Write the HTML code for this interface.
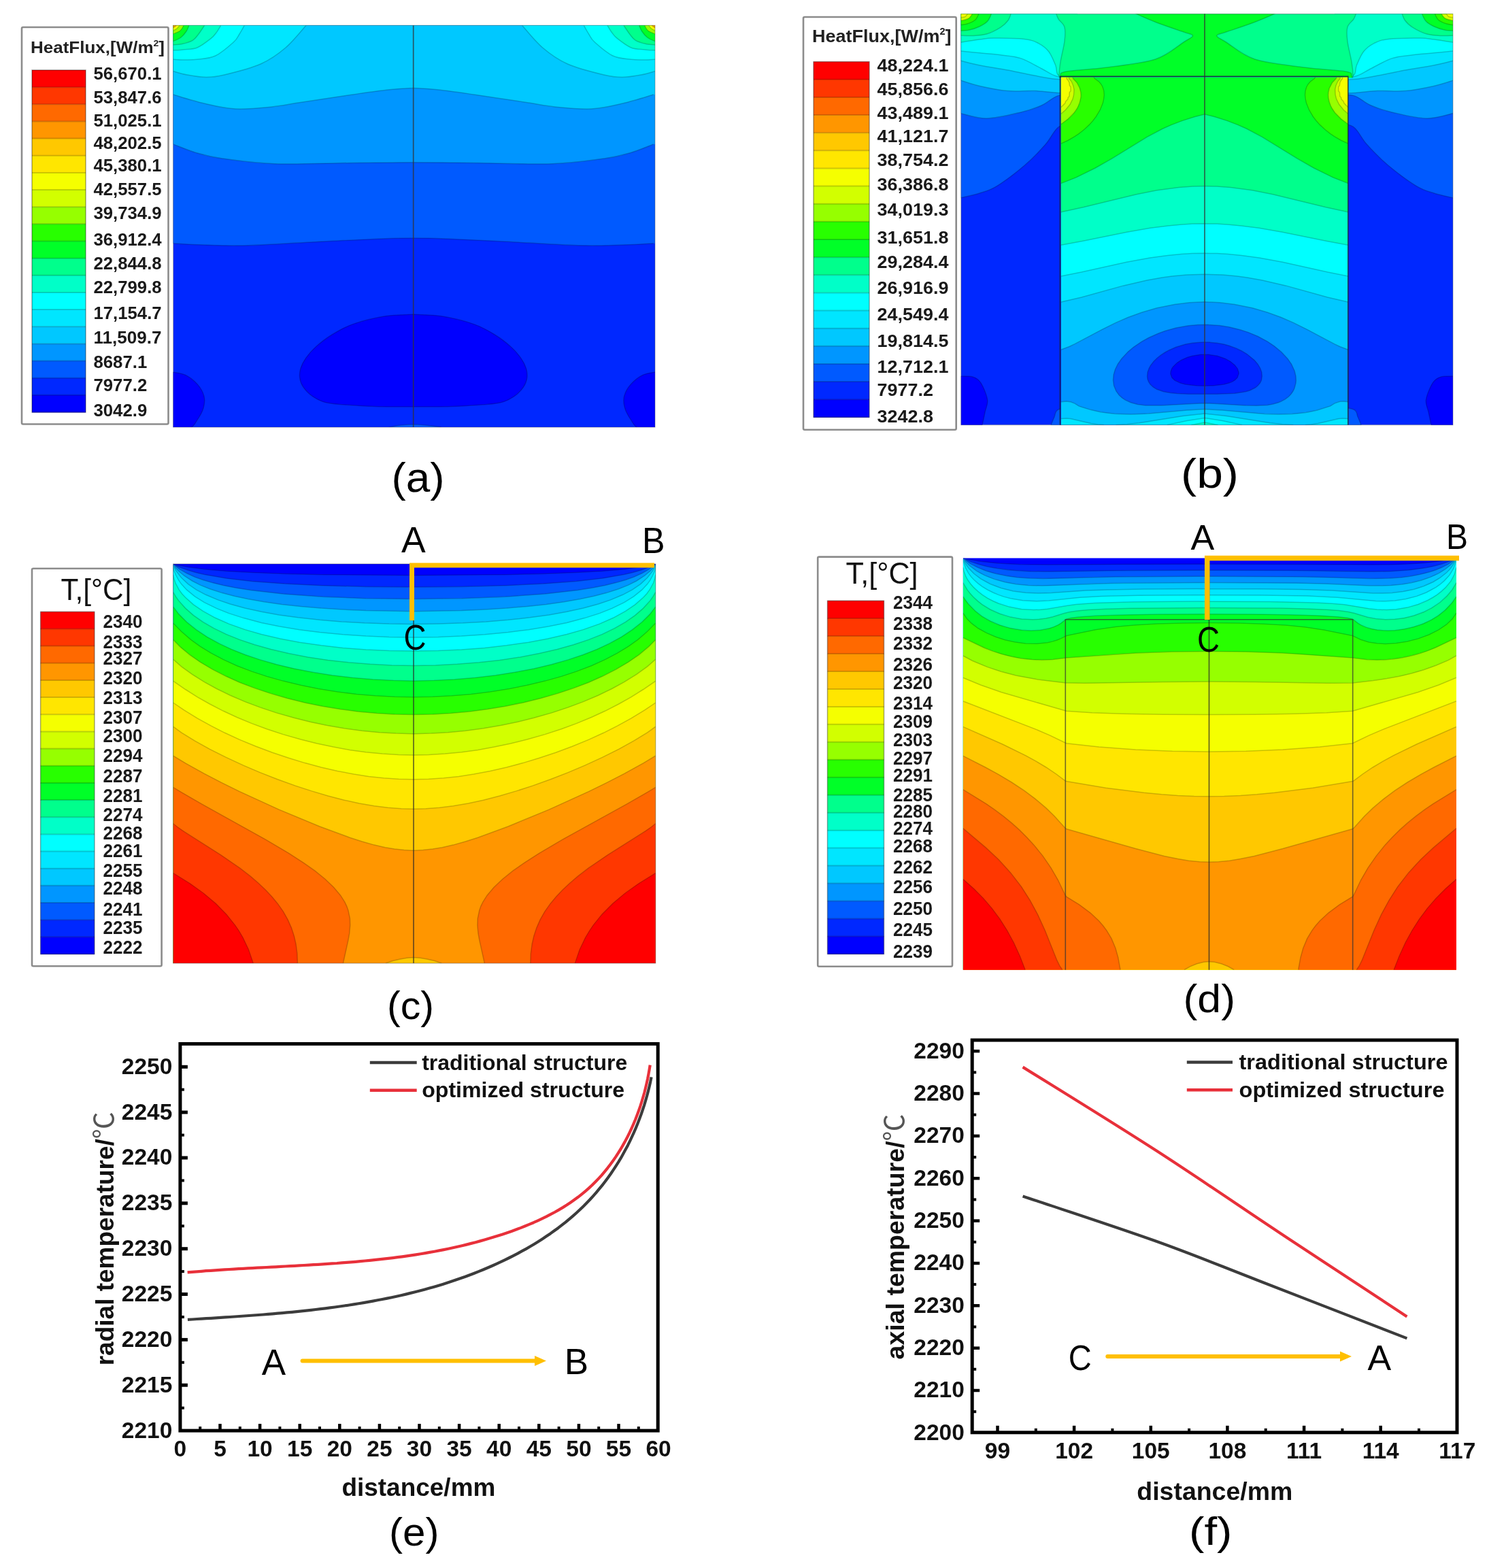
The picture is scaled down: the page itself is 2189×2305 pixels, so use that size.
<!DOCTYPE html>
<html><head><meta charset="utf-8"><title>Heat flux and temperature distribution</title>
<style>html,body{margin:0;padding:0;background:#fff;} svg{display:block;}</style></head>
<body><svg xmlns="http://www.w3.org/2000/svg" width="2189" height="2305" viewBox="0 0 2189 2305">
<rect width="2189" height="2305" fill="#fff"/>
<clipPath id="clipa"><rect x="254.6" y="37.3" width="708.4" height="590.7"/></clipPath><g clip-path="url(#clipa)">
<rect x="254.6" y="37.3" width="708.4" height="590.7" fill="#0028ff"/>
<path d="M254.6,357.7 C262.2,358.1 281.6,359.5 300.0,360.0 C318.4,360.5 335.0,361.7 365.0,360.8 C395.0,359.9 447.5,356.3 480.0,354.7 C512.5,353.1 538.7,351.8 560.0,351.0 C581.3,350.2 591.8,350.0 607.7,350.0 C623.6,350.0 634.1,350.2 655.4,351.0 C676.7,351.8 702.9,353.1 735.4,354.7 C767.9,356.3 820.4,359.9 850.4,360.8 C880.4,361.7 897.0,360.5 915.4,360.0 C933.8,359.5 953.2,358.1 960.8,357.7 L965.0,357.7 L965.0,35.3 L252.6,35.3 L252.6,357.7 Z" fill="#005aff"/><path d="M254.6,357.7 C262.2,358.1 281.6,359.5 300.0,360.0 C318.4,360.5 335.0,361.7 365.0,360.8 C395.0,359.9 447.5,356.3 480.0,354.7 C512.5,353.1 538.7,351.8 560.0,351.0 C581.3,350.2 591.8,350.0 607.7,350.0 C623.6,350.0 634.1,350.2 655.4,351.0 C676.7,351.8 702.9,353.1 735.4,354.7 C767.9,356.3 820.4,359.9 850.4,360.8 C880.4,361.7 897.0,360.5 915.4,360.0 C933.8,359.5 953.2,358.1 960.8,357.7" fill="none" stroke="#000" stroke-opacity="0.2" stroke-width="1.5"/>
<path d="M254.6,211.9 C260.5,214.1 278.0,221.5 290.0,225.0 C302.0,228.5 307.9,230.4 326.8,233.0 C345.7,235.6 371.5,239.6 403.5,240.7 C435.5,241.8 484.7,239.8 518.7,239.5 C552.7,239.2 578.0,238.8 607.7,238.8 C637.4,238.8 662.7,239.2 696.7,239.5 C730.7,239.8 779.9,241.8 811.9,240.7 C843.9,239.6 869.7,235.6 888.6,233.0 C907.5,230.4 913.4,228.5 925.4,225.0 C937.4,221.5 954.9,214.1 960.8,211.9 L965.0,211.9 L965.0,35.3 L252.6,35.3 L252.6,211.9 Z" fill="#0096ff"/><path d="M254.6,211.9 C260.5,214.1 278.0,221.5 290.0,225.0 C302.0,228.5 307.9,230.4 326.8,233.0 C345.7,235.6 371.5,239.6 403.5,240.7 C435.5,241.8 484.7,239.8 518.7,239.5 C552.7,239.2 578.0,238.8 607.7,238.8 C637.4,238.8 662.7,239.2 696.7,239.5 C730.7,239.8 779.9,241.8 811.9,240.7 C843.9,239.6 869.7,235.6 888.6,233.0 C907.5,230.4 913.4,228.5 925.4,225.0 C937.4,221.5 954.9,214.1 960.8,211.9" fill="none" stroke="#000" stroke-opacity="0.2" stroke-width="1.5"/>
<path d="M254.6,139.0 C262.2,141.2 284.8,148.5 300.0,152.0 C315.2,155.5 329.3,159.2 346.0,160.0 C362.7,160.8 384.0,158.6 400.0,157.0 C416.0,155.4 422.2,153.5 442.0,150.5 C461.8,147.5 497.4,142.1 518.7,139.0 C540.0,135.9 555.2,133.6 570.0,132.0 C584.8,130.4 595.1,129.4 607.7,129.4 C620.3,129.4 630.6,130.4 645.4,132.0 C660.2,133.6 675.4,135.9 696.7,139.0 C718.0,142.1 753.6,147.5 773.4,150.5 C793.2,153.5 799.4,155.4 815.4,157.0 C831.4,158.6 852.7,160.8 869.4,160.0 C886.1,159.2 900.2,155.5 915.4,152.0 C930.6,148.5 953.2,141.2 960.8,139.0 L965.0,139.0 L965.0,35.3 L252.6,35.3 L252.6,139.0 Z" fill="#00c8ff"/><path d="M254.6,139.0 C262.2,141.2 284.8,148.5 300.0,152.0 C315.2,155.5 329.3,159.2 346.0,160.0 C362.7,160.8 384.0,158.6 400.0,157.0 C416.0,155.4 422.2,153.5 442.0,150.5 C461.8,147.5 497.4,142.1 518.7,139.0 C540.0,135.9 555.2,133.6 570.0,132.0 C584.8,130.4 595.1,129.4 607.7,129.4 C620.3,129.4 630.6,130.4 645.4,132.0 C660.2,133.6 675.4,135.9 696.7,139.0 C718.0,142.1 753.6,147.5 773.4,150.5 C793.2,153.5 799.4,155.4 815.4,157.0 C831.4,158.6 852.7,160.8 869.4,160.0 C886.1,159.2 900.2,155.5 915.4,152.0 C930.6,148.5 953.2,141.2 960.8,139.0" fill="none" stroke="#000" stroke-opacity="0.2" stroke-width="1.5"/>
<path d="M450.0,37.3 C445.0,42.8 431.1,60.5 420.0,70.0 C408.9,79.5 398.3,87.3 383.3,94.0 C368.3,100.7 343.3,106.8 330.0,110.0 C316.7,113.2 312.5,113.5 303.3,113.5 C294.1,113.5 283.1,111.5 275.0,110.0 C266.9,108.5 258.0,105.6 254.6,104.7 L252.6,104.7 L252.6,35.3 L450.0,35.3 Z" fill="#00e6ff"/><path d="M450.0,37.3 C445.0,42.8 431.1,60.5 420.0,70.0 C408.9,79.5 398.3,87.3 383.3,94.0 C368.3,100.7 343.3,106.8 330.0,110.0 C316.7,113.2 312.5,113.5 303.3,113.5 C294.1,113.5 283.1,111.5 275.0,110.0 C266.9,108.5 258.0,105.6 254.6,104.7" fill="none" stroke="#000" stroke-opacity="0.2" stroke-width="1.5"/><path d="M767.6,37.3 C772.6,42.8 786.5,60.5 797.6,70.0 C808.7,79.5 819.3,87.3 834.3,94.0 C849.3,100.7 874.3,106.8 887.6,110.0 C900.9,113.2 905.1,113.5 914.3,113.5 C923.5,113.5 934.5,111.5 942.6,110.0 C950.7,108.5 959.6,105.6 963.0,104.7 L965.0,104.7 L965.0,35.3 L767.6,35.3 Z" fill="#00e6ff"/><path d="M767.6,37.3 C772.6,42.8 786.5,60.5 797.6,70.0 C808.7,79.5 819.3,87.3 834.3,94.0 C849.3,100.7 874.3,106.8 887.6,110.0 C900.9,113.2 905.1,113.5 914.3,113.5 C923.5,113.5 934.5,111.5 942.6,110.0 C950.7,108.5 959.6,105.6 963.0,104.7" fill="none" stroke="#000" stroke-opacity="0.2" stroke-width="1.5"/><path d="M359.3,37.3 C358.1,39.4 354.7,45.9 352.0,50.0 C349.3,54.1 349.2,56.7 343.3,62.0 C337.4,67.3 325.6,77.8 316.7,82.0 C307.8,86.2 297.8,86.3 290.0,87.3 C282.2,88.3 275.9,88.0 270.0,88.0 C264.1,88.0 257.2,87.4 254.6,87.3 L252.6,87.3 L252.6,35.3 L359.3,35.3 Z" fill="#00ffff"/><path d="M359.3,37.3 C358.1,39.4 354.7,45.9 352.0,50.0 C349.3,54.1 349.2,56.7 343.3,62.0 C337.4,67.3 325.6,77.8 316.7,82.0 C307.8,86.2 297.8,86.3 290.0,87.3 C282.2,88.3 275.9,88.0 270.0,88.0 C264.1,88.0 257.2,87.4 254.6,87.3" fill="none" stroke="#000" stroke-opacity="0.2" stroke-width="1.5"/><path d="M858.3,37.3 C859.5,39.4 862.9,45.9 865.6,50.0 C868.3,54.1 868.4,56.7 874.3,62.0 C880.2,67.3 892.0,77.8 900.9,82.0 C909.8,86.2 919.8,86.3 927.6,87.3 C935.4,88.3 941.7,88.0 947.6,88.0 C953.5,88.0 960.4,87.4 963.0,87.3 L965.0,87.3 L965.0,35.3 L858.3,35.3 Z" fill="#00ffff"/><path d="M858.3,37.3 C859.5,39.4 862.9,45.9 865.6,50.0 C868.3,54.1 868.4,56.7 874.3,62.0 C880.2,67.3 892.0,77.8 900.9,82.0 C909.8,86.2 919.8,86.3 927.6,87.3 C935.4,88.3 941.7,88.0 947.6,88.0 C953.5,88.0 960.4,87.4 963.0,87.3" fill="none" stroke="#000" stroke-opacity="0.2" stroke-width="1.5"/><path d="M324.7,37.3 C323.6,39.1 320.4,44.8 318.0,48.0 C315.6,51.2 314.7,53.0 310.0,56.7 C305.3,60.4 296.7,67.3 290.0,70.0 C283.3,72.7 275.9,72.3 270.0,73.0 C264.1,73.7 257.2,73.8 254.6,74.0 L252.6,74.0 L252.6,35.3 L324.7,35.3 Z" fill="#00ffc8"/><path d="M324.7,37.3 C323.6,39.1 320.4,44.8 318.0,48.0 C315.6,51.2 314.7,53.0 310.0,56.7 C305.3,60.4 296.7,67.3 290.0,70.0 C283.3,72.7 275.9,72.3 270.0,73.0 C264.1,73.7 257.2,73.8 254.6,74.0" fill="none" stroke="#000" stroke-opacity="0.2" stroke-width="1.5"/><path d="M892.9,37.3 C894.0,39.1 897.1,44.8 899.6,48.0 C902.1,51.2 902.9,53.0 907.6,56.7 C912.3,60.4 920.9,67.3 927.6,70.0 C934.3,72.7 941.7,72.3 947.6,73.0 C953.5,73.7 960.4,73.8 963.0,74.0 L965.0,74.0 L965.0,35.3 L892.9,35.3 Z" fill="#00ffc8"/><path d="M892.9,37.3 C894.0,39.1 897.1,44.8 899.6,48.0 C902.1,51.2 902.9,53.0 907.6,56.7 C912.3,60.4 920.9,67.3 927.6,70.0 C934.3,72.7 941.7,72.3 947.6,73.0 C953.5,73.7 960.4,73.8 963.0,74.0" fill="none" stroke="#000" stroke-opacity="0.2" stroke-width="1.5"/><path d="M300.7,37.3 C299.2,39.4 294.9,46.3 292.0,50.0 C289.1,53.7 287.3,56.9 283.3,59.3 C279.3,61.7 272.8,63.4 268.0,64.5 C263.2,65.6 256.8,65.8 254.6,66.0 L252.6,66.0 L252.6,35.3 L300.7,35.3 Z" fill="#00ff8c"/><path d="M300.7,37.3 C299.2,39.4 294.9,46.3 292.0,50.0 C289.1,53.7 287.3,56.9 283.3,59.3 C279.3,61.7 272.8,63.4 268.0,64.5 C263.2,65.6 256.8,65.8 254.6,66.0" fill="none" stroke="#000" stroke-opacity="0.2" stroke-width="1.5"/><path d="M916.9,37.3 C918.4,39.4 922.7,46.3 925.6,50.0 C928.5,53.7 930.3,56.9 934.3,59.3 C938.3,61.7 944.8,63.4 949.6,64.5 C954.4,65.6 960.8,65.8 963.0,66.0 L965.0,66.0 L965.0,35.3 L916.9,35.3 Z" fill="#00ff8c"/><path d="M916.9,37.3 C918.4,39.4 922.7,46.3 925.6,50.0 C928.5,53.7 930.3,56.9 934.3,59.3 C938.3,61.7 944.8,63.4 949.6,64.5 C954.4,65.6 960.8,65.8 963.0,66.0" fill="none" stroke="#000" stroke-opacity="0.2" stroke-width="1.5"/><path d="M278.0,37.3 C277.3,38.8 276.0,43.0 274.0,46.0 C272.0,49.0 269.2,52.5 266.0,55.0 C262.8,57.5 256.5,59.8 254.6,60.7 L252.6,60.7 L252.6,35.3 L278.0,35.3 Z" fill="#00ff28"/><path d="M278.0,37.3 C277.3,38.8 276.0,43.0 274.0,46.0 C272.0,49.0 269.2,52.5 266.0,55.0 C262.8,57.5 256.5,59.8 254.6,60.7" fill="none" stroke="#000" stroke-opacity="0.2" stroke-width="1.5"/><path d="M939.6,37.3 C940.3,38.8 941.6,43.0 943.6,46.0 C945.6,49.0 948.4,52.5 951.6,55.0 C954.8,57.5 961.1,59.8 963.0,60.7 L965.0,60.7 L965.0,35.3 L939.6,35.3 Z" fill="#00ff28"/><path d="M939.6,37.3 C940.3,38.8 941.6,43.0 943.6,46.0 C945.6,49.0 948.4,52.5 951.6,55.0 C954.8,57.5 961.1,59.8 963.0,60.7" fill="none" stroke="#000" stroke-opacity="0.2" stroke-width="1.5"/><path d="M270.0,37.3 C269.2,38.6 267.6,42.9 265.0,45.0 C262.4,47.1 256.3,49.2 254.6,50.0 L252.6,50.0 L252.6,35.3 L270.0,35.3 Z" fill="#96ff00"/><path d="M270.0,37.3 C269.2,38.6 267.6,42.9 265.0,45.0 C262.4,47.1 256.3,49.2 254.6,50.0" fill="none" stroke="#000" stroke-opacity="0.2" stroke-width="1.5"/><path d="M947.6,37.3 C948.4,38.6 950.0,42.9 952.6,45.0 C955.2,47.1 961.3,49.2 963.0,50.0 L965.0,50.0 L965.0,35.3 L947.6,35.3 Z" fill="#96ff00"/><path d="M947.6,37.3 C948.4,38.6 950.0,42.9 952.6,45.0 C955.2,47.1 961.3,49.2 963.0,50.0" fill="none" stroke="#000" stroke-opacity="0.2" stroke-width="1.5"/><path d="M264.0,37.3 C263.3,38.1 261.6,40.7 260.0,42.0 C258.4,43.3 255.5,44.5 254.6,45.0 L252.6,45.0 L252.6,35.3 L264.0,35.3 Z" fill="#f5ff00"/><path d="M264.0,37.3 C263.3,38.1 261.6,40.7 260.0,42.0 C258.4,43.3 255.5,44.5 254.6,45.0" fill="none" stroke="#000" stroke-opacity="0.2" stroke-width="1.5"/><path d="M953.6,37.3 C954.3,38.1 956.0,40.7 957.6,42.0 C959.2,43.3 962.1,44.5 963.0,45.0 L965.0,45.0 L965.0,35.3 L953.6,35.3 Z" fill="#f5ff00"/><path d="M953.6,37.3 C954.3,38.1 956.0,40.7 957.6,42.0 C959.2,43.3 962.1,44.5 963.0,45.0" fill="none" stroke="#000" stroke-opacity="0.2" stroke-width="1.5"/><path d="M259.5,37.3 C258.7,37.9 255.4,40.4 254.6,41.0 L252.6,41.0 L252.6,35.3 L259.5,35.3 Z" fill="#ff9600"/><path d="M259.5,37.3 C258.7,37.9 255.4,40.4 254.6,41.0" fill="none" stroke="#000" stroke-opacity="0.2" stroke-width="1.5"/><path d="M958.1,37.3 C958.9,37.9 962.2,40.4 963.0,41.0 L965.0,41.0 L965.0,35.3 L958.1,35.3 Z" fill="#ff9600"/><path d="M958.1,37.3 C958.9,37.9 962.2,40.4 963.0,41.0" fill="none" stroke="#000" stroke-opacity="0.2" stroke-width="1.5"/>
<path d="M607.7,462.1 C600.5,462.6 579.5,462.7 564.7,465.1 C549.9,467.5 531.5,472.1 518.7,476.6 C505.9,481.1 497.0,486.6 488.0,492.0 C479.0,497.4 471.3,503.6 464.9,509.3 C458.5,515.0 453.4,521.1 449.6,526.5 C445.8,531.9 443.4,536.9 441.9,541.7 C440.4,546.6 440.1,551.1 440.7,555.6 C441.3,560.1 442.6,564.3 445.7,568.8 C448.8,573.3 453.4,578.5 459.2,582.4 C465.0,586.3 470.4,589.8 480.3,592.0 C490.2,594.2 505.9,594.8 518.7,595.8 C531.5,596.8 542.2,597.4 557.0,597.8 C571.8,598.1 590.8,597.9 607.7,597.9 C624.6,597.9 643.6,598.1 658.4,597.8 C673.2,597.4 683.9,596.8 696.7,595.8 C709.5,594.8 725.2,594.2 735.1,592.0 C745.0,589.8 750.4,586.3 756.2,582.4 C762.0,578.5 766.6,573.3 769.7,568.8 C772.8,564.3 774.1,560.1 774.7,555.6 C775.3,551.1 775.0,546.6 773.5,541.7 C772.0,536.9 769.6,531.9 765.8,526.5 C762.0,521.1 756.9,515.0 750.5,509.3 C744.1,503.6 736.4,497.4 727.4,492.0 C718.4,486.6 709.5,481.1 696.7,476.6 C683.9,472.1 665.5,467.5 650.7,465.1 C635.9,462.7 614.9,462.6 607.7,462.1Z" fill="#0000ff"/><path d="M607.7,462.1 C600.5,462.6 579.5,462.7 564.7,465.1 C549.9,467.5 531.5,472.1 518.7,476.6 C505.9,481.1 497.0,486.6 488.0,492.0 C479.0,497.4 471.3,503.6 464.9,509.3 C458.5,515.0 453.4,521.1 449.6,526.5 C445.8,531.9 443.4,536.9 441.9,541.7 C440.4,546.6 440.1,551.1 440.7,555.6 C441.3,560.1 442.6,564.3 445.7,568.8 C448.8,573.3 453.4,578.5 459.2,582.4 C465.0,586.3 470.4,589.8 480.3,592.0 C490.2,594.2 505.9,594.8 518.7,595.8 C531.5,596.8 542.2,597.4 557.0,597.8 C571.8,598.1 590.8,597.9 607.7,597.9 C624.6,597.9 643.6,598.1 658.4,597.8 C673.2,597.4 683.9,596.8 696.7,595.8 C709.5,594.8 725.2,594.2 735.1,592.0 C745.0,589.8 750.4,586.3 756.2,582.4 C762.0,578.5 766.6,573.3 769.7,568.8 C772.8,564.3 774.1,560.1 774.7,555.6 C775.3,551.1 775.0,546.6 773.5,541.7 C772.0,536.9 769.6,531.9 765.8,526.5 C762.0,521.1 756.9,515.0 750.5,509.3 C744.1,503.6 736.4,497.4 727.4,492.0 C718.4,486.6 709.5,481.1 696.7,476.6 C683.9,472.1 665.5,467.5 650.7,465.1 C635.9,462.7 614.9,462.6 607.7,462.1Z" fill="none" stroke="#000" stroke-opacity="0.2" stroke-width="1.5"/>
<path d="M251.6,546.6 C255.2,547.4 266.6,548.4 273.0,551.5 C279.4,554.6 285.8,559.9 290.3,565.0 C294.8,570.1 298.4,576.5 299.9,582.2 C301.4,588.0 300.7,593.7 299.1,599.5 C297.5,605.3 293.7,611.8 290.3,616.8 C286.9,621.8 285.2,627.4 278.8,629.5 C272.4,631.6 256.1,643.3 251.6,629.5 C247.1,615.7 251.6,560.4 251.6,546.6Z" fill="#0000ff"/><path d="M251.6,546.6 C255.2,547.4 266.6,548.4 273.0,551.5 C279.4,554.6 285.8,559.9 290.3,565.0 C294.8,570.1 298.4,576.5 299.9,582.2 C301.4,588.0 300.7,593.7 299.1,599.5 C297.5,605.3 293.7,611.8 290.3,616.8 C286.9,621.8 285.2,627.4 278.8,629.5 C272.4,631.6 256.1,643.3 251.6,629.5 C247.1,615.7 251.6,560.4 251.6,546.6Z" fill="none" stroke="#000" stroke-opacity="0.2" stroke-width="1.5"/>
<path d="M966.0,546.6 C962.4,547.4 951.1,548.4 944.6,551.5 C938.1,554.6 931.8,559.9 927.3,565.0 C922.8,570.1 919.2,576.5 917.7,582.2 C916.2,588.0 916.9,593.7 918.5,599.5 C920.1,605.3 923.9,611.8 927.3,616.8 C930.7,621.8 932.3,627.4 938.8,629.5 C945.2,631.6 961.5,643.3 966.0,629.5 C970.5,615.7 966.0,560.4 966.0,546.6Z" fill="#0000ff"/><path d="M966.0,546.6 C962.4,547.4 951.1,548.4 944.6,551.5 C938.1,554.6 931.8,559.9 927.3,565.0 C922.8,570.1 919.2,576.5 917.7,582.2 C916.2,588.0 916.9,593.7 918.5,599.5 C920.1,605.3 923.9,611.8 927.3,616.8 C930.7,621.8 932.3,627.4 938.8,629.5 C945.2,631.6 961.5,643.3 966.0,629.5 C970.5,615.7 966.0,560.4 966.0,546.6Z" fill="none" stroke="#000" stroke-opacity="0.2" stroke-width="1.5"/>
<path d="M570.0,629.0 C572.5,628.4 578.7,626.3 585.0,625.5 C591.3,624.7 600.2,624.0 607.7,624.0 C615.2,624.0 623.6,624.7 630.0,625.5 C636.4,626.3 656.0,628.4 646.0,629.0 C636.0,629.6 582.7,629.0 570.0,629.0Z" fill="#005aff"/><path d="M570.0,629.0 C572.5,628.4 578.7,626.3 585.0,625.5 C591.3,624.7 600.2,624.0 607.7,624.0 C615.2,624.0 623.6,624.7 630.0,625.5 C636.4,626.3 656.0,628.4 646.0,629.0 C636.0,629.6 582.7,629.0 570.0,629.0Z" fill="none" stroke="#000" stroke-opacity="0.2" stroke-width="1.5"/>
</g>
<line x1="607.7" y1="37.3" x2="607.7" y2="628.0" stroke="#333" stroke-opacity="0.75" stroke-width="1.7"/>
<rect x="254.6" y="37.3" width="708.4" height="590.7" fill="none" stroke="#555" stroke-opacity="0.45" stroke-width="1"/>
<clipPath id="clipb"><rect x="1412.8" y="20.6" width="723.2" height="604.1"/></clipPath><g clip-path="url(#clipb)">
<rect x="1412.8" y="20.6" width="723.2" height="604.1" fill="#0028ff"/>
<path d="M1409.8,291.5 C1414.8,290.2 1430.7,287.0 1440.0,284.0 C1449.3,281.0 1454.8,280.1 1465.8,273.3 C1476.8,266.5 1494.5,253.1 1506.3,243.0 C1518.1,232.9 1528.3,222.1 1536.7,212.6 C1545.1,203.1 1549.1,191.6 1556.9,186.2 C1564.7,180.8 1579.1,181.0 1583.5,180.0 L1583.5,17.6 L1409.8,17.6 Z" fill="#005aff"/><path d="M1409.8,291.5 C1414.8,290.2 1430.7,287.0 1440.0,284.0 C1449.3,281.0 1454.8,280.1 1465.8,273.3 C1476.8,266.5 1494.5,253.1 1506.3,243.0 C1518.1,232.9 1528.3,222.1 1536.7,212.6 C1545.1,203.1 1549.1,191.6 1556.9,186.2 C1564.7,180.8 1579.1,181.0 1583.5,180.0" fill="none" stroke="#000" stroke-opacity="0.2" stroke-width="1.5"/><path d="M2139.1,291.5 C2133.9,290.2 2117.8,287.0 2108.3,284.0 C2098.8,281.0 2093.3,280.1 2082.0,273.3 C2070.7,266.5 2052.8,253.1 2040.7,243.0 C2028.7,232.9 2018.3,222.1 2009.7,212.6 C2001.2,203.1 1997.1,191.6 1989.2,186.2 C1981.2,180.8 1966.6,181.0 1962.1,180.0 L1962.1,17.6 L2139.1,17.6 Z" fill="#005aff"/><path d="M2139.1,291.5 C2133.9,290.2 2117.8,287.0 2108.3,284.0 C2098.8,281.0 2093.3,280.1 2082.0,273.3 C2070.7,266.5 2052.8,253.1 2040.7,243.0 C2028.7,232.9 2018.3,222.1 2009.7,212.6 C2001.2,203.1 1997.1,191.6 1989.2,186.2 C1981.2,180.8 1966.6,181.0 1962.1,180.0" fill="none" stroke="#000" stroke-opacity="0.2" stroke-width="1.5"/>
<path d="M1409.8,165.9 C1416.6,167.2 1435.3,174.2 1450.5,174.0 C1465.7,173.8 1487.5,168.1 1501.0,164.9 C1514.5,161.7 1522.4,158.9 1531.5,154.8 C1540.6,150.8 1547.1,143.2 1555.8,140.6 C1564.5,138.0 1578.9,139.3 1583.5,139.0 L1583.5,17.6 L1409.8,17.6 Z" fill="#0096ff"/><path d="M1409.8,165.9 C1416.6,167.2 1435.3,174.2 1450.5,174.0 C1465.7,173.8 1487.5,168.1 1501.0,164.9 C1514.5,161.7 1522.4,158.9 1531.5,154.8 C1540.6,150.8 1547.1,143.2 1555.8,140.6 C1564.5,138.0 1578.9,139.3 1583.5,139.0" fill="none" stroke="#000" stroke-opacity="0.2" stroke-width="1.5"/><path d="M2139.1,165.9 C2132.1,167.2 2113.1,174.2 2097.6,174.0 C2082.1,173.8 2059.9,168.1 2046.1,164.9 C2032.4,161.7 2024.4,158.9 2015.0,154.8 C2005.7,150.8 1999.1,143.2 1990.3,140.6 C1981.5,138.0 1966.8,139.3 1962.1,139.0 L1962.1,17.6 L2139.1,17.6 Z" fill="#0096ff"/><path d="M2139.1,165.9 C2132.1,167.2 2113.1,174.2 2097.6,174.0 C2082.1,173.8 2059.9,168.1 2046.1,164.9 C2032.4,161.7 2024.4,158.9 2015.0,154.8 C2005.7,150.8 1999.1,143.2 1990.3,140.6 C1981.5,138.0 1966.8,139.3 1962.1,139.0" fill="none" stroke="#000" stroke-opacity="0.2" stroke-width="1.5"/>
<path d="M1409.8,117.3 C1414.9,118.8 1428.5,123.7 1440.4,126.4 C1452.3,129.1 1467.5,132.3 1481.0,133.5 C1494.5,134.7 1508.9,133.0 1521.4,133.5 C1533.9,134.0 1545.5,135.9 1555.8,136.5 C1566.1,137.1 1578.9,136.9 1583.5,137.0 L1583.5,17.6 L1409.8,17.6 Z" fill="#00c8ff"/><path d="M1409.8,117.3 C1414.9,118.8 1428.5,123.7 1440.4,126.4 C1452.3,129.1 1467.5,132.3 1481.0,133.5 C1494.5,134.7 1508.9,133.0 1521.4,133.5 C1533.9,134.0 1545.5,135.9 1555.8,136.5 C1566.1,137.1 1578.9,136.9 1583.5,137.0" fill="none" stroke="#000" stroke-opacity="0.2" stroke-width="1.5"/><path d="M2139.1,117.3 C2133.9,118.8 2120.0,123.7 2107.9,126.4 C2095.8,129.1 2080.3,132.3 2066.5,133.5 C2052.7,134.7 2038.0,133.0 2025.3,133.5 C2012.6,134.0 2000.8,135.9 1990.3,136.5 C1979.7,137.1 1966.8,136.9 1962.1,137.0 L1962.1,17.6 L2139.1,17.6 Z" fill="#00c8ff"/><path d="M2139.1,117.3 C2133.9,118.8 2120.0,123.7 2107.9,126.4 C2095.8,129.1 2080.3,132.3 2066.5,133.5 C2052.7,134.7 2038.0,133.0 2025.3,133.5 C2012.6,134.0 2000.8,135.9 1990.3,136.5 C1979.7,137.1 1966.8,136.9 1962.1,137.0" fill="none" stroke="#000" stroke-opacity="0.2" stroke-width="1.5"/>
<path d="M1409.8,88.6 C1414.9,89.8 1428.5,93.6 1440.4,96.0 C1452.3,98.4 1469.2,100.8 1481.0,103.0 C1492.8,105.2 1499.5,107.0 1511.3,109.2 C1523.1,111.4 1539.8,115.0 1551.8,116.3 C1563.8,117.6 1578.2,116.9 1583.5,117.0 L1583.5,17.6 L1409.8,17.6 Z" fill="#00e6ff"/><path d="M1409.8,88.6 C1414.9,89.8 1428.5,93.6 1440.4,96.0 C1452.3,98.4 1469.2,100.8 1481.0,103.0 C1492.8,105.2 1499.5,107.0 1511.3,109.2 C1523.1,111.4 1539.8,115.0 1551.8,116.3 C1563.8,117.6 1578.2,116.9 1583.5,117.0" fill="none" stroke="#000" stroke-opacity="0.2" stroke-width="1.5"/><path d="M2139.1,88.6 C2133.9,89.8 2120.0,93.6 2107.9,96.0 C2095.8,98.4 2078.5,100.8 2066.5,103.0 C2054.5,105.2 2047.7,107.0 2035.6,109.2 C2023.6,111.4 2006.6,115.0 1994.4,116.3 C1982.1,117.6 1967.4,116.9 1962.1,117.0 L1962.1,17.6 L2139.1,17.6 Z" fill="#00e6ff"/><path d="M2139.1,88.6 C2133.9,89.8 2120.0,93.6 2107.9,96.0 C2095.8,98.4 2078.5,100.8 2066.5,103.0 C2054.5,105.2 2047.7,107.0 2035.6,109.2 C2023.6,111.4 2006.6,115.0 1994.4,116.3 C1982.1,117.6 1967.4,116.9 1962.1,117.0" fill="none" stroke="#000" stroke-opacity="0.2" stroke-width="1.5"/>
<path d="M1409.8,74.8 C1414.9,75.3 1430.2,76.8 1440.4,77.8 C1450.6,78.8 1460.7,79.4 1470.8,80.8 C1480.9,82.2 1490.9,82.5 1501.0,85.9 C1511.1,89.3 1522.7,96.6 1531.5,101.0 C1540.3,105.4 1545.1,110.2 1553.8,112.2 C1562.5,114.2 1578.5,112.9 1583.5,113.0 L1583.5,17.6 L1409.8,17.6 Z" fill="#00ffff"/><path d="M1409.8,74.8 C1414.9,75.3 1430.2,76.8 1440.4,77.8 C1450.6,78.8 1460.7,79.4 1470.8,80.8 C1480.9,82.2 1490.9,82.5 1501.0,85.9 C1511.1,89.3 1522.7,96.6 1531.5,101.0 C1540.3,105.4 1545.1,110.2 1553.8,112.2 C1562.5,114.2 1578.5,112.9 1583.5,113.0" fill="none" stroke="#000" stroke-opacity="0.2" stroke-width="1.5"/><path d="M2139.1,74.8 C2133.9,75.3 2118.2,76.8 2107.9,77.8 C2097.5,78.8 2087.2,79.4 2076.9,80.8 C2066.6,82.2 2056.4,82.5 2046.1,85.9 C2035.8,89.3 2024.0,96.6 2015.0,101.0 C2006.1,105.4 2001.2,110.2 1992.3,112.2 C1983.5,114.2 1967.1,112.9 1962.1,113.0 L1962.1,17.6 L2139.1,17.6 Z" fill="#00ffff"/><path d="M2139.1,74.8 C2133.9,75.3 2118.2,76.8 2107.9,77.8 C2097.5,78.8 2087.2,79.4 2076.9,80.8 C2066.6,82.2 2056.4,82.5 2046.1,85.9 C2035.8,89.3 2024.0,96.6 2015.0,101.0 C2006.1,105.4 2001.2,110.2 1992.3,112.2 C1983.5,114.2 1967.1,112.9 1962.1,113.0" fill="none" stroke="#000" stroke-opacity="0.2" stroke-width="1.5"/>
<path d="M1409.8,62.7 C1414.8,61.9 1431.5,59.1 1440.0,58.0 C1448.5,56.9 1449.6,56.1 1460.6,56.0 C1471.6,55.9 1495.0,56.2 1506.0,57.5 C1517.0,58.8 1520.5,60.6 1526.5,63.6 C1532.5,66.7 1537.5,70.4 1541.7,75.8 C1545.9,81.2 1549.3,90.1 1551.8,96.0 C1554.3,101.9 1551.6,108.5 1556.9,111.2 C1562.2,113.9 1579.1,112.1 1583.5,112.3 L1583.5,17.6 L1409.8,17.6 Z" fill="#00ffc8"/><path d="M1409.8,62.7 C1414.8,61.9 1431.5,59.1 1440.0,58.0 C1448.5,56.9 1449.6,56.1 1460.6,56.0 C1471.6,55.9 1495.0,56.2 1506.0,57.5 C1517.0,58.8 1520.5,60.6 1526.5,63.6 C1532.5,66.7 1537.5,70.4 1541.7,75.8 C1545.9,81.2 1549.3,90.1 1551.8,96.0 C1554.3,101.9 1551.6,108.5 1556.9,111.2 C1562.2,113.9 1579.1,112.1 1583.5,112.3" fill="none" stroke="#000" stroke-opacity="0.2" stroke-width="1.5"/><path d="M2139.1,62.7 C2133.9,61.9 2116.9,59.1 2108.3,58.0 C2099.7,56.9 2098.5,56.1 2087.3,56.0 C2076.1,55.9 2052.2,56.2 2041.0,57.5 C2029.8,58.8 2026.2,60.6 2020.1,63.6 C2014.1,66.7 2008.9,70.4 2004.7,75.8 C2000.4,81.2 1996.9,90.1 1994.4,96.0 C1991.8,101.9 1994.5,108.5 1989.2,111.2 C1983.8,113.9 1966.6,112.1 1962.1,112.3 L1962.1,17.6 L2139.1,17.6 Z" fill="#00ffc8"/><path d="M2139.1,62.7 C2133.9,61.9 2116.9,59.1 2108.3,58.0 C2099.7,56.9 2098.5,56.1 2087.3,56.0 C2076.1,55.9 2052.2,56.2 2041.0,57.5 C2029.8,58.8 2026.2,60.6 2020.1,63.6 C2014.1,66.7 2008.9,70.4 2004.7,75.8 C2000.4,81.2 1996.9,90.1 1994.4,96.0 C1991.8,101.9 1994.5,108.5 1989.2,111.2 C1983.8,113.9 1966.6,112.1 1962.1,112.3" fill="none" stroke="#000" stroke-opacity="0.2" stroke-width="1.5"/>
<path d="M1487.0,17.6 C1486.2,19.7 1484.7,26.2 1482.0,30.0 C1479.3,33.8 1476.0,37.0 1470.8,40.3 C1465.5,43.6 1457.3,48.0 1450.5,50.0 C1443.7,52.0 1436.8,52.2 1430.0,52.5 C1423.2,52.8 1413.2,52.1 1409.8,52.0 L1409.8,17.6 Z" fill="#00ff8c"/><path d="M1487.0,17.6 C1486.2,19.7 1484.7,26.2 1482.0,30.0 C1479.3,33.8 1476.0,37.0 1470.8,40.3 C1465.5,43.6 1457.3,48.0 1450.5,50.0 C1443.7,52.0 1436.8,52.2 1430.0,52.5 C1423.2,52.8 1413.2,52.1 1409.8,52.0" fill="none" stroke="#000" stroke-opacity="0.2" stroke-width="1.5"/><path d="M2060.4,17.6 C2061.2,19.7 2062.7,26.2 2065.5,30.0 C2068.2,33.8 2071.5,37.0 2076.9,40.3 C2082.2,43.6 2090.7,48.0 2097.6,50.0 C2104.5,52.0 2111.6,52.2 2118.5,52.5 C2125.4,52.8 2135.6,52.1 2139.1,52.0 L2139.1,17.6 Z" fill="#00ff8c"/><path d="M2060.4,17.6 C2061.2,19.7 2062.7,26.2 2065.5,30.0 C2068.2,33.8 2071.5,37.0 2076.9,40.3 C2082.2,43.6 2090.7,48.0 2097.6,50.0 C2104.5,52.0 2111.6,52.2 2118.5,52.5 C2125.4,52.8 2135.6,52.1 2139.1,52.0" fill="none" stroke="#000" stroke-opacity="0.2" stroke-width="1.5"/>
<path d="M1458.6,17.6 C1457.5,19.8 1455.1,27.4 1452.0,31.0 C1448.9,34.6 1444.5,36.8 1440.0,39.0 C1435.5,41.2 1430.0,42.9 1425.0,44.0 C1420.0,45.1 1412.3,45.2 1409.8,45.4 L1409.8,17.6 Z" fill="#00ff28"/><path d="M1458.6,17.6 C1457.5,19.8 1455.1,27.4 1452.0,31.0 C1448.9,34.6 1444.5,36.8 1440.0,39.0 C1435.5,41.2 1430.0,42.9 1425.0,44.0 C1420.0,45.1 1412.3,45.2 1409.8,45.4" fill="none" stroke="#000" stroke-opacity="0.2" stroke-width="1.5"/><path d="M2089.3,17.6 C2090.5,19.8 2092.9,27.4 2096.1,31.0 C2099.2,34.6 2103.7,36.8 2108.3,39.0 C2112.9,41.2 2118.4,42.9 2123.6,44.0 C2128.7,45.1 2136.5,45.2 2139.1,45.4 L2139.1,17.6 Z" fill="#00ff28"/><path d="M2089.3,17.6 C2090.5,19.8 2092.9,27.4 2096.1,31.0 C2099.2,34.6 2103.7,36.8 2108.3,39.0 C2112.9,41.2 2118.4,42.9 2123.6,44.0 C2128.7,45.1 2136.5,45.2 2139.1,45.4" fill="none" stroke="#000" stroke-opacity="0.2" stroke-width="1.5"/>
<path d="M1440.0,17.6 C1439.0,19.5 1437.0,26.1 1434.0,29.0 C1431.0,31.9 1426.0,33.7 1422.0,35.0 C1418.0,36.3 1411.8,36.7 1409.8,37.0 L1409.8,17.6 Z" fill="#28ff00"/><path d="M1440.0,17.6 C1439.0,19.5 1437.0,26.1 1434.0,29.0 C1431.0,31.9 1426.0,33.7 1422.0,35.0 C1418.0,36.3 1411.8,36.7 1409.8,37.0" fill="none" stroke="#000" stroke-opacity="0.2" stroke-width="1.5"/><path d="M2108.3,17.6 C2109.3,19.5 2111.3,26.1 2114.4,29.0 C2117.5,31.9 2122.5,33.7 2126.6,35.0 C2130.7,36.3 2137.0,36.7 2139.1,37.0 L2139.1,17.6 Z" fill="#28ff00"/><path d="M2108.3,17.6 C2109.3,19.5 2111.3,26.1 2114.4,29.0 C2117.5,31.9 2122.5,33.7 2126.6,35.0 C2130.7,36.3 2137.0,36.7 2139.1,37.0" fill="none" stroke="#000" stroke-opacity="0.2" stroke-width="1.5"/>
<path d="M1431.0,17.6 C1429.8,19.2 1427.5,24.8 1424.0,27.0 C1420.5,29.2 1412.2,30.3 1409.8,31.0 L1409.8,17.6 Z" fill="#d2ff00"/><path d="M1431.0,17.6 C1429.8,19.2 1427.5,24.8 1424.0,27.0 C1420.5,29.2 1412.2,30.3 1409.8,31.0" fill="none" stroke="#000" stroke-opacity="0.2" stroke-width="1.5"/><path d="M2117.5,17.6 C2118.6,19.2 2121.0,24.8 2124.6,27.0 C2128.2,29.2 2136.6,30.3 2139.1,31.0 L2139.1,17.6 Z" fill="#d2ff00"/><path d="M2117.5,17.6 C2118.6,19.2 2121.0,24.8 2124.6,27.0 C2128.2,29.2 2136.6,30.3 2139.1,31.0" fill="none" stroke="#000" stroke-opacity="0.2" stroke-width="1.5"/>
<path d="M1424.0,17.6 C1423.2,18.8 1421.4,23.1 1419.0,24.5 C1416.6,25.9 1411.3,25.8 1409.8,26.0 L1409.8,17.6 Z" fill="#f5ff00"/><path d="M1424.0,17.6 C1423.2,18.8 1421.4,23.1 1419.0,24.5 C1416.6,25.9 1411.3,25.8 1409.8,26.0" fill="none" stroke="#000" stroke-opacity="0.2" stroke-width="1.5"/><path d="M2124.6,17.6 C2125.4,18.8 2127.3,23.1 2129.7,24.5 C2132.1,25.9 2137.5,25.8 2139.1,26.0 L2139.1,17.6 Z" fill="#f5ff00"/><path d="M2124.6,17.6 C2125.4,18.8 2127.3,23.1 2129.7,24.5 C2132.1,25.9 2137.5,25.8 2139.1,26.0" fill="none" stroke="#000" stroke-opacity="0.2" stroke-width="1.5"/>
<path d="M1551.8,17.6 C1552.5,19.3 1553.8,24.3 1556.0,28.0 C1558.2,31.7 1563.5,34.6 1565.0,40.0 C1566.5,45.4 1566.0,52.1 1565.0,60.6 C1564.0,69.1 1560.3,82.6 1559.0,91.0 C1557.7,99.4 1557.1,107.1 1557.0,111.0 C1556.9,114.9 1558.2,113.8 1558.5,114.3 L1772.0,114.3 L1772.0,17.6 Z" fill="#00ff8c"/><path d="M1551.8,17.6 C1552.5,19.3 1553.8,24.3 1556.0,28.0 C1558.2,31.7 1563.5,34.6 1565.0,40.0 C1566.5,45.4 1566.0,52.1 1565.0,60.6 C1564.0,69.1 1560.3,82.6 1559.0,91.0 C1557.7,99.4 1557.1,107.1 1557.0,111.0 C1556.9,114.9 1558.2,113.8 1558.5,114.3" fill="none" stroke="#000" stroke-opacity="0.2" stroke-width="1.5"/><path d="M1994.4,17.6 C1993.6,19.3 1992.3,24.3 1990.1,28.0 C1987.8,31.7 1982.4,34.6 1980.9,40.0 C1979.4,45.4 1979.9,52.1 1980.9,60.6 C1981.9,69.1 1985.7,82.6 1987.0,91.0 C1988.4,99.4 1989.0,107.1 1989.1,111.0 C1989.1,114.9 1987.8,113.8 1987.5,114.3 L1770.0,114.3 L1770.0,17.6 Z" fill="#00ff8c"/><path d="M1994.4,17.6 C1993.6,19.3 1992.3,24.3 1990.1,28.0 C1987.8,31.7 1982.4,34.6 1980.9,40.0 C1979.4,45.4 1979.9,52.1 1980.9,60.6 C1981.9,69.1 1985.7,82.6 1987.0,91.0 C1988.4,99.4 1989.0,107.1 1989.1,111.0 C1989.1,114.9 1987.8,113.8 1987.5,114.3" fill="none" stroke="#000" stroke-opacity="0.2" stroke-width="1.5"/>
<path d="M1664.0,17.6 C1670.0,20.2 1687.3,28.1 1700.0,33.0 C1712.7,37.9 1731.1,43.8 1740.0,47.0 C1748.9,50.2 1753.4,50.0 1753.4,52.5 C1753.4,55.0 1749.1,56.2 1740.0,62.0 C1730.9,67.8 1717.4,80.8 1698.7,87.0 C1680.0,93.2 1649.8,96.0 1627.8,99.0 C1605.8,102.0 1578.5,103.2 1567.0,105.2 C1555.5,107.2 1560.4,109.8 1559.0,111.3 C1557.6,112.8 1558.6,113.8 1558.5,114.3 L1772.0,114.3 L1772.0,17.6 Z" fill="#00ff28"/><path d="M1664.0,17.6 C1670.0,20.2 1687.3,28.1 1700.0,33.0 C1712.7,37.9 1731.1,43.8 1740.0,47.0 C1748.9,50.2 1753.4,50.0 1753.4,52.5 C1753.4,55.0 1749.1,56.2 1740.0,62.0 C1730.9,67.8 1717.4,80.8 1698.7,87.0 C1680.0,93.2 1649.8,96.0 1627.8,99.0 C1605.8,102.0 1578.5,103.2 1567.0,105.2 C1555.5,107.2 1560.4,109.8 1559.0,111.3 C1557.6,112.8 1558.6,113.8 1558.5,114.3" fill="none" stroke="#000" stroke-opacity="0.2" stroke-width="1.5"/><path d="M1880.0,17.6 C1873.9,20.2 1856.3,28.1 1843.3,33.0 C1830.4,37.9 1811.7,43.8 1802.6,47.0 C1793.5,50.2 1788.9,50.0 1788.9,52.5 C1788.9,55.0 1793.3,56.2 1802.6,62.0 C1811.9,67.8 1825.6,80.8 1844.7,87.0 C1863.7,93.2 1894.6,96.0 1916.9,99.0 C1939.3,102.0 1967.2,103.2 1978.9,105.2 C1990.6,107.2 1985.6,109.8 1987.0,111.3 C1988.5,112.8 1987.4,113.8 1987.5,114.3 L1770.0,114.3 L1770.0,17.6 Z" fill="#00ff28"/><path d="M1880.0,17.6 C1873.9,20.2 1856.3,28.1 1843.3,33.0 C1830.4,37.9 1811.7,43.8 1802.6,47.0 C1793.5,50.2 1788.9,50.0 1788.9,52.5 C1788.9,55.0 1793.3,56.2 1802.6,62.0 C1811.9,67.8 1825.6,80.8 1844.7,87.0 C1863.7,93.2 1894.6,96.0 1916.9,99.0 C1939.3,102.0 1967.2,103.2 1978.9,105.2 C1990.6,107.2 1985.6,109.8 1987.0,111.3 C1988.5,112.8 1987.4,113.8 1987.5,114.3" fill="none" stroke="#000" stroke-opacity="0.2" stroke-width="1.5"/>
<path d="M1409.8,553.0 C1413.2,553.2 1424.6,552.3 1430.0,554.0 C1435.4,555.7 1438.4,557.4 1442.0,563.0 C1445.6,568.6 1450.6,580.4 1451.6,587.6 C1452.6,594.8 1449.3,599.3 1448.0,606.0 C1446.7,612.7 1444.2,624.1 1443.5,627.7 L1409.8,627.7 Z" fill="#0000ff"/><path d="M1409.8,553.0 C1413.2,553.2 1424.6,552.3 1430.0,554.0 C1435.4,555.7 1438.4,557.4 1442.0,563.0 C1445.6,568.6 1450.6,580.4 1451.6,587.6 C1452.6,594.8 1449.3,599.3 1448.0,606.0 C1446.7,612.7 1444.2,624.1 1443.5,627.7" fill="none" stroke="#000" stroke-opacity="0.2" stroke-width="1.5"/><path d="M2139.1,553.0 C2135.6,553.2 2123.9,552.3 2118.5,554.0 C2113.0,555.7 2109.9,557.4 2106.2,563.0 C2102.6,568.6 2097.5,580.4 2096.5,587.6 C2095.4,594.8 2098.8,599.3 2100.1,606.0 C2101.5,612.7 2104.0,624.1 2104.7,627.7 L2139.1,627.7 Z" fill="#0000ff"/><path d="M2139.1,553.0 C2135.6,553.2 2123.9,552.3 2118.5,554.0 C2113.0,555.7 2109.9,557.4 2106.2,563.0 C2102.6,568.6 2097.5,580.4 2096.5,587.6 C2095.4,594.8 2098.8,599.3 2100.1,606.0 C2101.5,612.7 2104.0,624.1 2104.7,627.7" fill="none" stroke="#000" stroke-opacity="0.2" stroke-width="1.5"/>
<path d="M1544.0,627.7 C1545.0,625.2 1548.0,617.3 1550.0,613.0 C1552.0,608.7 1550.4,604.7 1556.0,602.0 C1561.6,599.3 1578.9,597.8 1583.5,597.0 L1583.5,627.7 Z" fill="#005aff"/><path d="M1544.0,627.7 C1545.0,625.2 1548.0,617.3 1550.0,613.0 C1552.0,608.7 1550.4,604.7 1556.0,602.0 C1561.6,599.3 1578.9,597.8 1583.5,597.0" fill="none" stroke="#000" stroke-opacity="0.2" stroke-width="1.5"/><path d="M2002.3,627.7 C2001.3,625.2 1998.2,617.3 1996.2,613.0 C1994.2,608.7 1995.8,604.7 1990.1,602.0 C1984.4,599.3 1966.7,597.8 1962.1,597.0 L1962.1,627.7 Z" fill="#005aff"/><path d="M2002.3,627.7 C2001.3,625.2 1998.2,617.3 1996.2,613.0 C1994.2,608.7 1995.8,604.7 1990.1,602.0 C1984.4,599.3 1966.7,597.8 1962.1,597.0" fill="none" stroke="#000" stroke-opacity="0.2" stroke-width="1.5"/>
<clipPath id="clipbi"><rect x="1558.5" y="112.3" width="423.3" height="512.9"/></clipPath>
<g clip-path="url(#clipbi)">
<rect x="1558.5" y="112.3" width="423.3" height="512.9" fill="#0000ff"/>
<path d="M1561.9,113.8 L1981.8,113.8 L1981.8,624.7 L1559.9,624.7 L1559.9,113.8ZM1764.5,521.3 L1752.9,523.2 L1745.8,525.3 L1736.8,529.2 L1730.5,533.3 L1724.5,539.2 L1722.7,541.9 L1721.5,545.2 L1720.8,549.2 L1722.8,555.1 L1726.9,559.1 L1735.3,563.1 L1742.9,565.1 L1750.9,566.1 L1759.8,567.0 L1769.0,567.3 L1783.0,567.0 L1799.1,565.1 L1806.7,563.1 L1811.5,561.1 L1815.2,559.0 L1819.1,555.1 L1821.1,549.2 L1821.0,547.2 L1819.2,541.9 L1815.2,536.7 L1808.6,531.3 L1801.1,527.2 L1789.5,523.3 L1777.0,521.3 L1765.0,521.3Z" fill="#0028ff" fill-rule="evenodd"/>
<path d="M1561.9,113.8 L1981.8,113.8 L1981.8,624.7 L1559.9,624.7 L1559.9,113.8ZM1760.6,503.4 L1752.9,504.2 L1742.9,506.1 L1728.8,510.3 L1718.7,514.7 L1712.7,518.0 L1706.7,521.9 L1700.6,526.7 L1696.1,531.3 L1691.5,537.2 L1689.3,541.2 L1687.1,547.2 L1686.6,553.1 L1687.0,557.1 L1688.5,561.1 L1691.0,565.1 L1695.2,569.0 L1700.6,572.3 L1710.7,575.8 L1720.7,577.6 L1730.8,578.6 L1746.9,579.2 L1789.1,579.3 L1815.2,578.3 L1831.2,575.8 L1837.3,574.0 L1845.3,570.0 L1849.0,567.0 L1852.4,563.1 L1854.4,559.1 L1855.3,553.1 L1854.8,547.2 L1852.6,541.2 L1849.0,535.2 L1843.9,529.3 L1833.2,520.5 L1825.2,515.7 L1817.2,511.9 L1807.1,508.3 L1799.1,506.1 L1789.1,504.2 L1777.0,503.1 L1769.0,502.9 L1760.9,503.4Z" fill="#005aff" fill-rule="evenodd"/>
<path d="M1561.9,113.8 L1981.8,113.8 L1981.8,624.7 L1559.9,624.7 L1559.9,113.8ZM1760.7,477.6 L1746.9,478.8 L1728.8,482.1 L1712.7,486.5 L1702.6,490.2 L1688.6,496.5 L1678.5,502.1 L1666.4,510.3 L1658.4,517.1 L1648.9,527.3 L1643.3,535.2 L1639.4,543.2 L1637.1,551.1 L1636.5,559.1 L1637.6,567.0 L1640.9,575.0 L1645.3,581.0 L1649.7,584.9 L1654.4,588.1 L1662.4,591.7 L1672.5,594.4 L1684.5,596.0 L1706.7,596.1 L1752.9,593.4 L1771.0,592.8 L1789.1,593.4 L1831.2,596.0 L1847.3,596.3 L1863.4,595.4 L1871.4,594.0 L1879.4,591.7 L1883.4,590.1 L1889.4,586.8 L1894.5,583.0 L1898.2,579.0 L1900.9,575.0 L1902.9,571.0 L1905.0,563.1 L1905.3,559.1 L1905.0,553.1 L1903.1,545.2 L1898.5,535.2 L1892.9,527.3 L1883.7,517.4 L1873.4,508.8 L1863.4,502.1 L1849.3,494.5 L1835.2,488.6 L1823.2,484.7 L1807.1,480.8 L1793.1,478.6 L1775.0,477.3 L1760.9,477.6Z" fill="#0096ff" fill-rule="evenodd"/>
<path d="M1561.9,113.8 L1981.8,113.8 L1981.8,514.0 L1969.8,509.5 L1961.7,505.7 L1921.6,484.3 L1901.5,474.4 L1883.4,466.5 L1863.4,459.2 L1841.3,452.7 L1815.2,447.4 L1793.1,444.7 L1771.0,443.8 L1748.9,444.7 L1726.8,447.4 L1700.6,452.7 L1678.5,459.2 L1658.4,466.5 L1640.3,474.4 L1620.2,484.3 L1580.0,505.7 L1571.9,509.5 L1559.9,514.0 L1559.9,113.8ZM1561.9,590.6 L1567.9,589.9 L1574.0,590.7 L1580.0,593.1 L1586.0,596.9 L1600.1,601.5 L1612.2,604.6 L1626.2,607.0 L1642.3,608.5 L1662.4,609.1 L1682.5,608.5 L1744.9,603.0 L1771.0,601.5 L1797.1,603.0 L1853.3,608.1 L1881.4,609.1 L1907.5,607.9 L1927.6,605.0 L1939.6,602.1 L1955.8,596.9 L1961.7,593.1 L1967.7,590.7 L1971.8,590.0 L1975.8,589.9 L1981.8,590.7 L1981.8,624.7 L1559.9,624.7 L1559.9,590.7Z" fill="#00c8ff" fill-rule="evenodd"/>
<path d="M1561.9,113.8 L1981.8,113.8 L1981.8,444.1 L1951.7,437.0 L1890.1,419.9 L1855.7,412.0 L1833.3,408.0 L1818.7,406.0 L1797.1,404.0 L1771.0,403.3 L1744.9,404.0 L1723.2,406.0 L1708.6,408.0 L1686.2,412.0 L1651.7,419.9 L1590.0,437.0 L1559.9,444.1 L1559.9,113.8ZM1763.0,608.7 L1771.0,608.0 L1787.1,609.5 L1809.1,612.5 L1865.4,621.5 L1883.4,623.5 L1901.3,624.7 L1640.5,624.7 L1658.4,623.5 L1676.5,621.5 L1734.8,612.2 L1761.5,608.8ZM1561.9,615.4 L1567.9,615.0 L1574.0,615.5 L1604.1,622.6 L1614.2,624.1 L1622.9,624.7 L1559.9,624.7 L1559.9,615.5ZM1963.7,616.3 L1973.8,615.0 L1981.8,615.5 L1981.8,624.7 L1918.9,624.7 L1927.6,624.1 L1937.6,622.6 L1961.8,616.7Z" fill="#00e6ff" fill-rule="evenodd"/>
<path d="M1561.9,113.8 L1981.8,113.8 L1981.8,406.0 L1951.9,400.1 L1885.4,385.3 L1851.3,379.0 L1825.2,375.4 L1805.1,373.5 L1789.1,372.6 L1771.0,372.3 L1752.9,372.6 L1736.8,373.5 L1716.7,375.4 L1690.6,379.0 L1656.4,385.3 L1589.8,400.1 L1559.9,406.0 L1559.9,113.8ZM1769.0,614.7 L1771.0,614.4 L1791.1,617.4 L1826.0,624.7 L1715.9,624.7 L1743.4,618.7 L1768.2,614.8Z" fill="#00ffff" fill-rule="evenodd"/>
<path d="M1561.9,113.8 L1981.8,113.8 L1981.8,360.3 L1949.5,354.3 L1885.4,341.3 L1851.3,335.3 L1825.2,331.9 L1807.1,330.2 L1789.1,329.1 L1771.0,328.8 L1752.9,329.1 L1734.8,330.2 L1716.7,331.9 L1690.6,335.3 L1656.4,341.3 L1592.2,354.3 L1559.9,360.3 L1559.9,113.8ZM1760.9,622.7 L1771.0,620.9 L1790.7,624.7 L1751.2,624.7 L1760.7,622.7Z" fill="#00ffc8" fill-rule="evenodd"/>
<path d="M1561.9,113.8 L1981.8,113.8 L1981.8,311.7 L1948.6,304.6 L1871.4,285.8 L1841.3,279.8 L1809.1,275.5 L1789.1,274.0 L1771.0,273.5 L1752.9,274.0 L1732.8,275.5 L1700.6,279.8 L1670.5,285.8 L1593.1,304.6 L1559.9,311.7 L1559.9,113.8Z" fill="#00ff8c" fill-rule="evenodd"/>
<path d="M1561.9,113.8 L1981.8,113.8 L1981.8,269.6 L1959.7,260.9 L1931.4,247.0 L1907.1,233.1 L1855.4,201.3 L1832.7,189.3 L1819.4,183.4 L1803.7,177.4 L1785.1,171.5 L1771.0,167.9 L1756.9,171.5 L1738.3,177.4 L1722.5,183.4 L1709.2,189.3 L1686.4,201.3 L1634.7,233.1 L1610.3,247.0 L1582.0,260.9 L1559.9,269.6 L1559.9,113.8Z" fill="#00ff28" fill-rule="evenodd"/>
<path d="M1561.9,113.8 L1607.9,113.8 L1609.7,115.8 L1615.3,119.8 L1617.2,121.8 L1619.9,125.7 L1621.8,129.7 L1622.8,133.7 L1623.3,139.6 L1621.8,149.6 L1619.1,157.5 L1615.1,165.5 L1611.3,171.5 L1605.1,179.4 L1596.1,188.5 L1586.0,196.6 L1574.0,204.3 L1559.9,211.1 L1559.9,113.8ZM1933.6,114.0 L1981.8,113.8 L1981.8,211.1 L1971.8,206.5 L1961.7,200.6 L1955.7,196.6 L1947.7,190.3 L1940.3,183.4 L1935.0,177.4 L1930.4,171.5 L1924.5,161.5 L1920.5,151.6 L1919.2,145.6 L1918.5,139.6 L1919.0,133.7 L1920.8,127.7 L1923.1,123.7 L1926.5,119.8 L1932.0,115.8Z" fill="#28ff00" fill-rule="evenodd"/>
<path d="M1561.9,113.8 L1576.7,113.8 L1577.7,115.8 L1583.3,121.8 L1586.6,127.7 L1588.8,135.7 L1589.1,141.6 L1587.1,151.6 L1583.4,159.5 L1580.8,163.5 L1575.8,169.5 L1569.9,175.1 L1559.9,182.5 L1559.9,113.8ZM1965.7,113.8 L1981.8,113.8 L1981.8,182.5 L1971.8,175.1 L1962.4,165.5 L1958.4,159.5 L1956.3,155.5 L1954.1,149.6 L1952.9,143.6 L1952.6,139.6 L1952.9,135.7 L1954.3,129.7 L1958.4,121.8 L1964.0,115.8 L1965.1,113.8Z" fill="#96ff00" fill-rule="evenodd"/>
<path d="M1561.9,113.8 L1571.3,113.8 L1571.9,115.8 L1575.1,119.8 L1577.1,123.7 L1578.7,129.7 L1579.0,135.7 L1578.5,139.6 L1577.0,145.6 L1573.0,153.6 L1566.5,161.5 L1559.9,167.3 L1559.9,113.8ZM1971.8,113.8 L1981.8,113.8 L1981.8,167.3 L1975.2,161.5 L1968.7,153.6 L1964.7,145.6 L1963.2,139.6 L1962.7,131.7 L1964.0,125.7 L1966.6,119.8 L1969.8,115.8 L1970.4,113.8Z" fill="#d2ff00" fill-rule="evenodd"/>
<path d="M1561.9,113.8 L1568.0,113.8 L1568.1,115.8 L1569.9,117.7 L1571.9,121.4 L1572.4,125.7 L1574.0,127.7 L1574.0,133.7 L1572.3,135.7 L1571.9,141.6 L1570.0,143.6 L1569.9,145.6 L1566.3,149.6 L1565.9,151.6 L1559.9,157.6 L1559.9,113.8ZM1973.8,113.8 L1981.8,113.8 L1981.8,157.6 L1975.8,151.6 L1975.4,149.6 L1971.8,145.6 L1971.7,143.6 L1969.8,141.6 L1969.4,135.7 L1967.7,133.7 L1967.7,127.7 L1969.3,125.7 L1969.8,121.4 L1971.8,117.7 L1973.6,115.8 L1973.7,113.8Z" fill="#f5ff00" fill-rule="evenodd"/>
<path d="M1765.0,521.3 L1752.9,523.2 L1745.8,525.3 L1736.8,529.2 L1730.5,533.3 L1724.5,539.2 L1722.7,541.9 L1721.5,545.2 L1720.8,549.2 L1722.8,555.1 L1726.9,559.1 L1735.3,563.1 L1742.9,565.1 L1750.9,566.1 L1759.8,567.0 L1769.0,567.3 L1783.0,567.0 L1799.1,565.1 L1806.7,563.1 L1811.5,561.1 L1815.2,559.0 L1819.1,555.1 L1821.1,549.2 L1821.0,547.2 L1819.2,541.9 L1815.2,536.7 L1808.6,531.3 L1801.1,527.2 L1789.5,523.3 L1777.0,521.3 L1765.0,521.3M1760.9,503.4 L1752.9,504.2 L1742.9,506.1 L1728.8,510.3 L1718.7,514.7 L1712.7,518.0 L1706.7,521.9 L1700.6,526.7 L1696.1,531.3 L1691.5,537.2 L1689.3,541.2 L1687.1,547.2 L1686.6,553.1 L1687.0,557.1 L1688.5,561.1 L1691.0,565.1 L1695.2,569.0 L1700.6,572.3 L1710.7,575.8 L1720.7,577.6 L1730.8,578.6 L1746.9,579.2 L1789.1,579.3 L1815.2,578.3 L1831.2,575.8 L1837.3,574.0 L1845.3,570.0 L1849.0,567.0 L1852.4,563.1 L1854.4,559.1 L1855.3,553.1 L1854.8,547.2 L1852.6,541.2 L1849.0,535.2 L1843.9,529.3 L1833.2,520.5 L1825.2,515.7 L1817.2,511.9 L1807.1,508.3 L1799.1,506.1 L1789.1,504.2 L1777.0,503.1 L1769.0,502.9 L1760.9,503.4M1760.9,477.6 L1746.9,478.8 L1728.8,482.1 L1712.7,486.5 L1702.6,490.2 L1688.6,496.5 L1678.5,502.1 L1666.4,510.3 L1658.4,517.1 L1648.9,527.3 L1643.3,535.2 L1639.4,543.2 L1637.1,551.1 L1636.5,559.1 L1637.6,567.0 L1640.9,575.0 L1645.3,581.0 L1649.7,584.9 L1654.4,588.1 L1662.4,591.7 L1672.5,594.4 L1684.5,596.0 L1706.7,596.1 L1752.9,593.4 L1771.0,592.8 L1789.1,593.4 L1831.2,596.0 L1847.3,596.3 L1863.4,595.4 L1871.4,594.0 L1879.4,591.7 L1883.4,590.1 L1889.4,586.8 L1894.5,583.0 L1898.2,579.0 L1900.9,575.0 L1902.9,571.0 L1905.0,563.1 L1905.3,559.1 L1905.0,553.1 L1903.1,545.2 L1898.5,535.2 L1892.9,527.3 L1883.7,517.4 L1873.4,508.8 L1863.4,502.1 L1849.3,494.5 L1835.2,488.6 L1823.2,484.7 L1807.1,480.8 L1793.1,478.6 L1775.0,477.3 L1760.9,477.6M1981.8,514.0 L1969.8,509.5 L1961.7,505.7 L1921.6,484.3 L1901.5,474.4 L1883.4,466.5 L1863.4,459.2 L1841.3,452.7 L1815.2,447.4 L1793.1,444.7 L1771.0,443.8 L1748.9,444.7 L1726.8,447.4 L1700.6,452.7 L1678.5,459.2 L1658.4,466.5 L1640.3,474.4 L1620.2,484.3 L1580.0,505.7 L1571.9,509.5 L1559.9,514.0M1559.9,590.7 L1567.9,589.9 L1574.0,590.7 L1580.0,593.1 L1586.0,596.9 L1590.0,598.3 L1604.1,602.6 L1618.2,605.8 L1638.3,608.3 L1662.4,609.1 L1688.6,608.1 L1744.9,603.0 L1771.0,601.5 L1797.1,603.0 L1859.3,608.5 L1879.4,609.1 L1899.5,608.5 L1919.6,606.5 L1935.6,603.2 L1955.8,596.9 L1962.2,592.9 L1969.8,590.3 L1975.8,589.9 L1981.8,590.7M1981.8,444.1 L1951.7,437.0 L1890.1,419.9 L1855.7,412.0 L1833.3,408.0 L1818.7,406.0 L1797.1,404.0 L1771.0,403.3 L1744.9,404.0 L1723.2,406.0 L1708.6,408.0 L1686.2,412.0 L1651.7,419.9 L1590.0,437.0 L1559.9,444.1M1559.9,615.5 L1567.9,615.0 L1574.0,615.5 L1604.1,622.6 L1614.2,624.1 L1622.9,624.7M1640.5,624.7 L1656.4,623.7 L1674.5,621.7 L1738.8,611.6 L1771.0,608.0 L1803.1,611.6 L1867.4,621.7 L1885.4,623.7 L1901.3,624.7M1918.9,624.7 L1927.6,624.1 L1937.6,622.6 L1967.7,615.5 L1973.8,615.0 L1981.8,615.5M1981.8,406.0 L1951.9,400.1 L1885.4,385.3 L1851.3,379.0 L1825.2,375.4 L1805.1,373.5 L1789.1,372.6 L1771.0,372.3 L1752.9,372.6 L1736.8,373.5 L1716.7,375.4 L1690.6,379.0 L1656.4,385.3 L1589.8,400.1 L1559.9,406.0M1715.9,624.7 L1744.9,618.5 L1771.0,614.4 L1797.1,618.5 L1826.0,624.7M1981.8,360.3 L1949.5,354.3 L1885.4,341.3 L1851.3,335.3 L1825.2,331.9 L1807.1,330.2 L1789.1,329.1 L1771.0,328.8 L1752.9,329.1 L1734.8,330.2 L1716.7,331.9 L1690.6,335.3 L1656.4,341.3 L1592.2,354.3 L1559.9,360.3M1751.2,624.7 L1771.0,620.9 L1790.7,624.7M1981.8,311.7 L1948.6,304.6 L1871.4,285.8 L1841.3,279.8 L1809.1,275.5 L1789.1,274.0 L1771.0,273.5 L1752.9,274.0 L1732.8,275.5 L1700.6,279.8 L1670.5,285.8 L1593.1,304.6 L1559.9,311.7M1981.8,269.6 L1959.7,260.9 L1931.4,247.0 L1907.1,233.1 L1855.4,201.3 L1832.7,189.3 L1819.4,183.4 L1803.7,177.4 L1785.1,171.5 L1771.0,167.9 L1756.9,171.5 L1738.3,177.4 L1722.5,183.4 L1709.2,189.3 L1686.4,201.3 L1634.7,233.1 L1610.3,247.0 L1582.0,260.9 L1559.9,269.6M1607.9,113.8 L1609.7,115.8 L1615.3,119.8 L1618.7,123.7 L1621.0,127.7 L1622.8,133.7 L1623.3,139.6 L1622.6,145.6 L1621.3,151.6 L1617.3,161.5 L1611.3,171.5 L1606.7,177.4 L1601.4,183.4 L1594.1,190.3 L1586.0,196.6 L1580.0,200.6 L1569.9,206.5 L1559.9,211.1M1981.8,211.1 L1971.8,206.5 L1961.7,200.6 L1955.7,196.6 L1947.7,190.3 L1940.3,183.4 L1935.0,177.4 L1930.4,171.5 L1924.5,161.5 L1920.5,151.6 L1919.2,145.6 L1918.5,139.6 L1919.0,133.7 L1920.8,127.7 L1923.1,123.7 L1926.5,119.8 L1932.0,115.8 L1933.8,113.8M1576.7,113.8 L1577.7,115.8 L1583.3,121.8 L1587.4,129.7 L1588.8,135.7 L1589.1,139.6 L1588.9,143.6 L1587.6,149.6 L1585.4,155.5 L1583.4,159.5 L1579.3,165.5 L1569.9,175.1 L1559.9,182.5M1981.8,182.5 L1971.8,175.1 L1962.4,165.5 L1958.4,159.5 L1956.3,155.5 L1954.1,149.6 L1952.9,143.6 L1952.6,139.6 L1952.9,135.7 L1954.3,129.7 L1958.4,121.8 L1964.0,115.8 L1965.1,113.8M1571.3,113.8 L1571.9,115.8 L1575.1,119.8 L1577.7,125.7 L1579.0,131.7 L1578.5,139.6 L1577.0,145.6 L1573.0,153.6 L1566.5,161.5 L1559.9,167.3M1981.8,167.3 L1975.2,161.5 L1968.7,153.6 L1964.7,145.6 L1963.2,139.6 L1962.7,131.7 L1964.0,125.7 L1966.6,119.8 L1969.8,115.8 L1970.4,113.8M1568.0,113.8 L1568.1,115.8 L1569.9,117.7 L1571.9,121.4 L1572.4,125.7 L1574.0,127.7 L1574.0,133.7 L1572.3,135.7 L1571.9,141.6 L1570.0,143.6 L1569.9,145.6 L1566.3,149.6 L1565.9,151.6 L1559.9,157.6M1981.8,157.6 L1975.8,151.6 L1975.4,149.6 L1971.8,145.6 L1971.7,143.6 L1969.8,141.6 L1969.4,135.7 L1967.7,133.7 L1967.7,127.7 L1969.3,125.7 L1969.8,121.4 L1971.8,117.7 L1973.6,115.8 L1973.7,113.8" fill="none" stroke="#000" stroke-opacity="0.2" stroke-width="1.5"/>
</g>
</g>
<path d="M1558.5,624.7 L1558.5,112.3 L1981.8,112.3 L1981.8,624.7" fill="none" stroke="#222" stroke-opacity="0.75" stroke-width="1.7"/>
<line x1="1771.0" y1="20.6" x2="1771.0" y2="624.7" stroke="#333" stroke-opacity="0.75" stroke-width="1.7"/>
<rect x="1412.8" y="20.6" width="723.2" height="604.1" fill="none" stroke="#555" stroke-opacity="0.45" stroke-width="1"/>
<clipPath id="clipc"><rect x="254.6" y="829.0" width="709.2" height="587.0"/></clipPath>
<g clip-path="url(#clipc)">
<rect x="254.6" y="829.0" width="709.2" height="587.0" fill="#0000ff"/>
<path d="M256.6,829.7 L278.6,833.8 L304.5,837.1 L336.5,839.7 L374.4,841.8 L422.3,843.5 L478.2,844.8 L612.0,845.8 L744.7,844.7 L801.0,843.3 L847.2,841.6 L885.4,839.4 L917.6,836.7 L941.7,833.5 L963.8,829.4 L963.8,1416.0 L254.6,1416.0 L254.6,829.4Z" fill="#0028ff" fill-rule="evenodd"/>
<path d="M256.6,830.4 L264.6,834.0 L276.6,838.3 L288.5,841.8 L302.5,845.0 L334.5,850.4 L372.4,854.7 L420.3,858.2 L478.2,860.9 L542.1,862.4 L612.0,863.0 L680.4,862.3 L744.7,860.7 L801.0,858.0 L849.2,854.3 L887.4,849.9 L917.6,844.6 L929.6,841.8 L941.7,838.3 L951.7,834.8 L963.8,829.8 L963.8,1416.0 L254.6,1416.0 L254.6,829.8Z" fill="#005aff" fill-rule="evenodd"/>
<path d="M256.4,831.0 L262.6,835.8 L274.6,842.8 L286.5,848.2 L298.5,852.5 L314.5,857.2 L330.5,860.9 L348.4,864.4 L370.4,867.8 L418.3,873.2 L476.2,877.3 L540.1,879.7 L610.0,880.6 L680.4,879.6 L744.7,877.1 L801.0,873.0 L849.2,867.5 L871.3,864.0 L889.4,860.5 L905.5,856.6 L919.6,852.5 L931.6,848.2 L943.7,842.8 L953.7,837.1 L961.9,831.0 L963.8,830.1 L963.8,1416.0 L254.6,1416.0 L254.6,830.1Z" fill="#0096ff" fill-rule="evenodd"/>
<path d="M255.6,831.0 L256.6,832.8 L260.6,837.4 L270.6,846.2 L282.6,854.0 L294.5,860.1 L308.5,865.7 L326.5,871.6 L344.4,876.3 L364.4,880.6 L388.4,884.7 L414.3,888.4 L442.3,891.4 L472.2,894.0 L504.2,896.0 L538.1,897.5 L608.0,898.7 L678.4,897.5 L712.5,896.0 L744.7,894.0 L774.8,891.4 L803.0,888.4 L829.1,884.7 L853.2,880.6 L873.3,876.3 L891.4,871.6 L909.5,865.7 L923.6,860.1 L935.7,854.0 L947.7,846.2 L955.8,839.4 L959.8,835.2 L962.7,831.0 L963.8,830.5 L963.8,1416.0 L254.6,1416.0 L254.6,830.5Z" fill="#00c8ff" fill-rule="evenodd"/>
<path d="M254.8,831.0 L256.6,835.5 L258.6,838.9 L266.6,849.3 L276.6,858.6 L288.5,866.8 L302.5,874.3 L320.5,881.9 L338.5,888.0 L360.4,894.0 L384.4,899.3 L410.3,903.9 L438.3,907.8 L470.2,911.3 L502.2,913.9 L536.1,915.8 L572.1,917.0 L608.0,917.4 L644.2,917.0 L680.4,915.8 L714.5,913.9 L746.7,911.3 L778.9,907.8 L807.0,903.9 L833.1,899.3 L857.3,894.0 L879.4,888.0 L897.5,881.9 L915.6,874.3 L929.6,866.8 L941.7,858.6 L951.7,849.3 L959.8,838.9 L963.8,830.9 L963.8,1416.0 L254.6,1416.0 L254.6,830.9Z" fill="#00e6ff" fill-rule="evenodd"/>
<path d="M254.8,835.0 L256.6,841.0 L259.3,847.0 L262.6,852.9 L266.6,858.6 L274.6,867.2 L286.5,876.9 L300.5,885.6 L318.5,894.4 L336.5,901.6 L358.4,908.6 L384.4,915.4 L410.3,920.7 L440.3,925.7 L470.2,929.5 L504.2,932.8 L538.1,935.0 L572.1,936.4 L608.0,936.9 L644.2,936.4 L678.4,935.0 L712.5,932.8 L746.7,929.5 L776.9,925.7 L807.0,920.7 L833.1,915.4 L859.3,908.6 L881.4,901.6 L899.5,894.4 L917.6,885.6 L931.6,876.9 L943.7,867.2 L951.7,858.6 L955.8,852.9 L959.8,845.5 L962.6,839.0 L963.8,834.4 L963.8,1416.0 L254.6,1416.0 L254.6,834.4Z" fill="#00ffff" fill-rule="evenodd"/>
<path d="M254.6,845.0 L255.9,851.0 L257.9,857.0 L263.2,866.9 L267.7,872.9 L272.6,878.3 L284.5,888.8 L298.5,898.4 L316.5,908.3 L336.5,917.1 L360.4,925.6 L384.4,932.5 L412.3,939.0 L440.3,944.2 L472.2,948.8 L504.2,952.4 L538.1,955.0 L572.1,956.6 L608.0,957.1 L644.2,956.6 L678.4,955.0 L712.5,952.4 L744.7,948.8 L776.9,944.2 L805.0,939.0 L833.1,932.5 L857.3,925.6 L881.4,917.1 L901.5,908.3 L919.6,898.4 L933.6,888.8 L945.7,878.3 L950.6,872.9 L955.1,866.9 L960.5,857.0 L962.5,851.0 L963.8,844.9 L963.8,1416.0 L254.6,1416.0 L254.6,844.9Z" fill="#00ffc8" fill-rule="evenodd"/>
<path d="M254.8,870.9 L262.6,882.9 L272.6,894.1 L284.5,904.6 L298.5,914.4 L314.5,923.7 L334.5,933.2 L354.4,941.1 L376.4,948.4 L402.3,955.6 L428.3,961.4 L456.3,966.5 L484.2,970.6 L514.2,974.0 L544.1,976.3 L576.1,977.9 L608.0,978.4 L640.2,977.9 L672.3,976.3 L704.5,973.8 L734.6,970.4 L764.8,965.9 L792.9,960.6 L819.1,954.5 L843.2,947.8 L865.3,940.4 L885.4,932.4 L903.5,923.7 L919.6,914.4 L933.6,904.6 L945.7,894.1 L955.8,882.9 L960.0,876.9 L963.8,870.5 L963.8,1416.0 L254.6,1416.0 L254.6,870.5Z" fill="#00ff8c" fill-rule="evenodd"/>
<path d="M255.3,892.9 L263.0,902.9 L274.6,914.5 L288.5,925.7 L304.5,936.3 L322.5,946.2 L340.5,954.6 L362.4,963.2 L384.4,970.5 L408.3,977.2 L434.3,983.3 L462.2,988.7 L490.2,993.0 L518.2,996.3 L548.1,998.8 L578.1,1000.3 L608.0,1000.9 L638.2,1000.3 L668.3,998.8 L698.5,996.3 L728.6,992.7 L756.8,988.3 L784.9,982.9 L811.0,976.7 L835.1,969.9 L857.3,962.5 L877.4,954.6 L895.5,946.2 L913.5,936.3 L929.6,925.7 L943.7,914.5 L955.4,902.9 L963.8,891.9 L963.8,1416.0 L254.6,1416.0 L254.6,891.9Z" fill="#00ff28" fill-rule="evenodd"/>
<path d="M255.3,916.9 L266.6,928.3 L280.6,940.3 L294.5,950.4 L310.5,960.2 L328.5,969.7 L348.4,978.7 L370.4,987.1 L392.4,994.4 L416.3,1001.1 L442.3,1007.3 L468.2,1012.5 L496.2,1016.9 L524.1,1020.4 L552.1,1022.8 L580.0,1024.3 L608.0,1024.8 L636.1,1024.3 L664.3,1022.8 L692.4,1020.4 L720.6,1016.9 L748.7,1012.5 L774.8,1007.3 L801.0,1001.1 L825.1,994.4 L847.2,987.1 L869.3,978.7 L889.4,969.7 L907.5,960.2 L923.6,950.4 L937.7,940.3 L951.7,928.3 L963.8,916.0 L963.8,1416.0 L254.6,1416.0 L254.6,916.0Z" fill="#28ff00" fill-rule="evenodd"/>
<path d="M254.9,940.8 L266.6,952.4 L280.6,963.8 L294.5,973.4 L312.5,984.1 L332.5,994.3 L352.4,1003.2 L374.4,1011.6 L398.4,1019.6 L422.3,1026.5 L448.3,1032.9 L474.2,1038.2 L500.2,1042.5 L526.1,1045.9 L554.1,1048.5 L580.0,1050.0 L608.0,1050.6 L636.1,1050.0 L662.3,1048.5 L690.4,1045.9 L716.5,1042.5 L742.7,1038.2 L768.8,1032.9 L794.9,1026.5 L819.1,1019.6 L843.2,1011.6 L865.3,1003.2 L885.4,994.3 L905.5,984.1 L923.6,973.4 L939.7,962.3 L953.7,950.6 L963.8,940.5 L963.8,1416.0 L254.6,1416.0 L254.6,940.5Z" fill="#96ff00" fill-rule="evenodd"/>
<path d="M256.1,970.8 L268.6,981.3 L284.5,992.7 L302.5,1003.7 L320.5,1013.5 L340.5,1023.1 L362.4,1032.4 L384.4,1040.6 L408.3,1048.5 L432.3,1055.3 L458.3,1061.7 L484.2,1067.0 L508.2,1071.0 L532.1,1074.2 L558.1,1076.7 L582.0,1078.1 L608.0,1078.7 L634.1,1078.1 L658.3,1076.7 L684.4,1074.2 L710.5,1070.7 L736.7,1066.2 L760.8,1061.2 L784.9,1055.3 L811.0,1047.9 L835.1,1039.9 L857.3,1031.6 L879.4,1022.2 L899.5,1012.5 L917.6,1002.6 L935.7,991.3 L951.7,979.8 L963.8,969.3 L963.8,1416.0 L254.6,1416.0 L254.6,969.3Z" fill="#d2ff00" fill-rule="evenodd"/>
<path d="M256.6,1002.6 L274.6,1014.9 L292.5,1026.0 L310.5,1036.1 L330.5,1046.2 L350.4,1055.3 L372.4,1064.3 L394.4,1072.4 L418.3,1080.2 L442.3,1087.0 L466.2,1093.0 L490.2,1098.1 L514.2,1102.4 L538.1,1105.7 L562.1,1108.1 L586.0,1109.5 L608.0,1110.0 L630.1,1109.5 L654.2,1108.1 L678.4,1105.7 L702.5,1102.4 L726.6,1098.1 L750.7,1093.0 L774.8,1087.0 L801.0,1079.6 L825.1,1071.7 L847.2,1063.6 L869.3,1054.5 L889.4,1045.3 L909.5,1035.0 L927.6,1024.8 L945.7,1013.5 L963.8,1001.2 L963.8,1416.0 L254.6,1416.0 L254.6,1001.2Z" fill="#f5ff00" fill-rule="evenodd"/>
<path d="M256.6,1034.5 L274.6,1046.4 L294.5,1058.4 L314.5,1069.3 L334.5,1079.2 L356.4,1089.1 L378.4,1098.1 L402.3,1107.0 L426.3,1115.0 L450.3,1122.1 L474.2,1128.4 L498.2,1133.9 L520.1,1138.0 L542.1,1141.4 L564.1,1143.8 L586.0,1145.3 L608.0,1145.8 L630.1,1145.3 L652.2,1143.8 L674.3,1141.4 L696.4,1138.0 L720.6,1133.4 L744.7,1127.9 L768.8,1121.6 L792.9,1114.3 L817.1,1106.3 L841.2,1097.3 L865.3,1087.4 L887.4,1077.3 L907.5,1067.2 L927.6,1056.1 L947.7,1043.8 L963.8,1033.0 L963.8,1416.0 L254.6,1416.0 L254.6,1033.0Z" fill="#ffe600" fill-rule="evenodd"/>
<path d="M255.2,1068.6 L266.6,1076.9 L286.5,1089.2 L308.5,1101.3 L332.5,1113.4 L358.4,1125.4 L382.4,1135.6 L408.3,1145.7 L434.3,1155.1 L458.3,1162.9 L482.2,1170.0 L506.2,1176.2 L528.1,1181.0 L550.1,1184.8 L570.1,1187.3 L590.0,1188.8 L608.0,1189.3 L626.1,1188.8 L646.2,1187.3 L666.3,1184.8 L688.4,1181.0 L710.5,1176.2 L734.6,1170.0 L758.8,1162.9 L782.9,1155.1 L809.0,1145.7 L835.1,1135.6 L859.3,1125.4 L885.4,1113.4 L909.5,1101.3 L931.6,1089.2 L951.7,1076.9 L963.8,1068.1 L963.8,1416.0 L254.6,1416.0 L254.6,1068.1Z" fill="#ffc800" fill-rule="evenodd"/>
<path d="M256.6,1112.3 L276.6,1124.1 L300.5,1137.3 L326.5,1150.8 L352.4,1163.6 L410.3,1190.1 L470.2,1215.0 L514.2,1231.2 L532.1,1237.0 L550.1,1242.1 L566.1,1245.7 L580.0,1248.1 L594.0,1249.6 L608.0,1250.2 L622.1,1249.6 L636.1,1248.1 L650.2,1245.7 L666.3,1242.1 L684.4,1237.0 L702.5,1231.2 L746.7,1215.0 L807.0,1190.1 L865.3,1163.6 L891.4,1150.8 L917.6,1137.3 L945.7,1121.8 L963.8,1111.0 L963.8,1416.0 L649.3,1416.0 L638.2,1412.3 L628.1,1409.9 L618.1,1408.2 L608.0,1407.5 L598.0,1408.2 L588.0,1409.9 L578.1,1412.3 L567.0,1416.0 L254.6,1416.0 L254.6,1111.0Z" fill="#ff9600" fill-rule="evenodd"/>
<path d="M256.4,1158.4 L298.5,1182.9 L387.4,1232.3 L424.7,1254.3 L446.3,1268.3 L463.1,1280.2 L478.0,1292.2 L490.5,1304.2 L500.6,1316.2 L506.9,1326.2 L509.7,1332.1 L511.9,1338.1 L514.4,1350.1 L514.7,1360.1 L513.7,1372.1 L511.9,1382.1 L504.4,1416.0 L254.6,1416.0 L254.6,1157.3ZM963.8,1157.3 L963.8,1416.0 L712.3,1416.0 L704.8,1382.1 L703.0,1372.1 L701.9,1360.1 L702.3,1350.1 L704.8,1338.1 L706.9,1332.1 L709.8,1326.2 L716.1,1316.2 L726.2,1304.2 L738.9,1292.2 L753.9,1280.2 L770.8,1268.3 L792.6,1254.3 L830.1,1232.3 L919.6,1182.9 L962.0,1158.4Z" fill="#ff6900" fill-rule="evenodd"/>
<path d="M256.5,1212.3 L272.6,1223.7 L327.0,1258.3 L352.8,1276.2 L368.3,1288.2 L380.0,1298.2 L390.5,1308.2 L399.9,1318.2 L408.3,1328.4 L416.5,1340.1 L423.2,1352.1 L428.5,1364.1 L432.4,1376.1 L435.1,1388.0 L436.9,1402.0 L437.4,1416.0 L254.6,1416.0 L254.6,1210.5ZM963.8,1210.5 L963.8,1416.0 L779.8,1416.0 L780.3,1402.0 L782.1,1388.0 L784.8,1376.1 L788.8,1364.1 L794.0,1352.1 L800.8,1340.1 L809.0,1328.4 L817.5,1318.2 L826.9,1308.2 L837.6,1298.2 L849.4,1288.2 L864.9,1276.2 L890.9,1258.3 L945.7,1223.7 L961.9,1212.3Z" fill="#ff3700" fill-rule="evenodd"/>
<path d="M255.9,1284.2 L280.6,1299.6 L300.5,1314.1 L317.1,1328.1 L332.8,1344.1 L345.6,1360.1 L351.1,1368.1 L357.0,1378.1 L365.5,1396.0 L372.3,1416.0 L254.6,1416.0 L254.6,1283.4ZM963.8,1283.4 L963.8,1416.0 L845.3,1416.0 L852.1,1396.0 L860.7,1378.1 L866.7,1368.1 L872.1,1360.1 L885.0,1344.1 L900.9,1328.1 L917.6,1314.1 L937.7,1299.6 L962.5,1284.2Z" fill="#ff0000" fill-rule="evenodd"/>
<path d="M254.6,829.4 L276.6,833.5 L300.5,836.7 L332.5,839.4 L370.4,841.6 L418.3,843.4 L474.2,844.7 L608.0,845.8 L742.7,844.7 L799.0,843.4 L847.2,841.6 L885.4,839.4 L917.6,836.7 L941.7,833.5 L963.8,829.4M254.6,829.8 L266.6,834.8 L276.6,838.3 L288.5,841.8 L300.5,844.6 L332.5,850.1 L370.4,854.5 L418.3,858.1 L474.2,860.7 L538.1,862.4 L608.0,863.0 L678.4,862.4 L742.7,860.7 L799.0,858.1 L847.2,854.5 L885.4,850.1 L917.6,844.6 L929.6,841.8 L941.7,838.3 L951.7,834.8 L963.8,829.8M254.6,830.1 L256.4,831.0 L264.6,837.1 L274.6,842.8 L286.5,848.2 L298.5,852.5 L312.5,856.6 L328.5,860.5 L346.4,864.0 L368.4,867.5 L416.3,873.0 L474.2,877.2 L538.1,879.7 L608.0,880.6 L678.4,879.7 L742.7,877.2 L801.0,873.0 L849.2,867.5 L871.3,864.0 L889.4,860.5 L905.5,856.6 L919.6,852.5 L931.6,848.2 L943.7,842.8 L953.7,837.1 L961.9,831.0 L963.8,830.1M254.6,830.5 L255.6,831.0 L258.6,835.2 L262.6,839.4 L270.6,846.2 L282.6,854.0 L294.5,860.1 L308.5,865.7 L326.5,871.6 L344.4,876.3 L364.4,880.6 L388.4,884.7 L414.3,888.4 L442.3,891.4 L472.2,894.0 L504.2,896.0 L538.1,897.5 L608.0,898.7 L678.4,897.5 L712.5,896.0 L744.7,894.0 L774.8,891.4 L803.0,888.4 L829.1,884.7 L853.2,880.6 L873.3,876.3 L891.4,871.6 L909.5,865.7 L923.6,860.1 L935.7,854.0 L947.7,846.2 L955.8,839.4 L959.8,835.2 L962.7,831.0 L963.8,830.5M254.6,830.9 L258.6,838.9 L266.6,849.3 L276.6,858.6 L288.5,866.8 L302.5,874.3 L320.5,881.9 L338.5,888.0 L360.4,894.0 L384.4,899.3 L410.3,903.9 L438.3,907.8 L470.2,911.3 L502.2,913.9 L536.1,915.8 L572.1,917.0 L608.0,917.4 L644.2,917.0 L680.4,915.8 L714.5,913.9 L746.7,911.3 L778.9,907.8 L807.0,903.9 L833.1,899.3 L857.3,894.0 L879.4,888.0 L897.5,881.9 L915.6,874.3 L929.6,866.8 L941.7,858.6 L951.7,849.3 L959.8,838.9 L963.8,830.9M254.6,834.4 L255.8,839.0 L258.6,845.5 L262.6,852.9 L266.6,858.6 L274.6,867.2 L286.5,876.9 L300.5,885.6 L318.5,894.4 L336.5,901.6 L358.4,908.6 L384.4,915.4 L410.3,920.7 L440.3,925.7 L470.2,929.5 L504.2,932.8 L538.1,935.0 L572.1,936.4 L608.0,936.9 L644.2,936.4 L678.4,935.0 L712.5,932.8 L746.7,929.5 L776.9,925.7 L807.0,920.7 L833.1,915.4 L859.3,908.6 L881.4,901.6 L899.5,894.4 L917.6,885.6 L931.6,876.9 L943.7,867.2 L951.7,858.6 L955.8,852.9 L959.8,845.5 L962.6,839.0 L963.8,834.4M254.6,844.9 L255.9,851.0 L257.9,857.0 L263.2,866.9 L267.7,872.9 L272.6,878.3 L284.5,888.8 L298.5,898.4 L316.5,908.3 L336.5,917.1 L360.4,925.6 L384.4,932.5 L412.3,939.0 L440.3,944.2 L472.2,948.8 L504.2,952.4 L538.1,955.0 L572.1,956.6 L608.0,957.1 L644.2,956.6 L678.4,955.0 L712.5,952.4 L744.7,948.8 L776.9,944.2 L805.0,939.0 L833.1,932.5 L857.3,925.6 L881.4,917.1 L901.5,908.3 L919.6,898.4 L933.6,888.8 L945.7,878.3 L950.6,872.9 L955.1,866.9 L960.5,857.0 L962.5,851.0 L963.8,844.9M254.6,870.5 L258.3,876.9 L262.6,882.9 L272.6,894.1 L284.5,904.6 L298.5,914.4 L314.5,923.7 L332.5,932.4 L352.4,940.4 L374.4,947.8 L398.4,954.5 L424.3,960.6 L452.3,965.9 L482.2,970.4 L512.2,973.8 L544.1,976.3 L576.1,977.9 L608.0,978.4 L640.2,977.9 L672.3,976.3 L704.5,973.8 L734.6,970.4 L764.8,965.9 L792.9,960.6 L819.1,954.5 L843.2,947.8 L865.3,940.4 L885.4,932.4 L903.5,923.7 L919.6,914.4 L933.6,904.6 L945.7,894.1 L955.8,882.9 L960.0,876.9 L963.8,870.5M254.6,891.9 L263.0,902.9 L274.6,914.5 L288.5,925.7 L304.5,936.3 L322.5,946.2 L340.5,954.6 L360.4,962.5 L382.4,969.9 L406.3,976.7 L432.3,982.9 L460.3,988.3 L488.2,992.7 L518.2,996.3 L548.1,998.8 L578.1,1000.3 L608.0,1000.9 L638.2,1000.3 L668.3,998.8 L698.5,996.3 L728.6,992.7 L756.8,988.3 L784.9,982.9 L811.0,976.7 L835.1,969.9 L857.3,962.5 L877.4,954.6 L895.5,946.2 L913.5,936.3 L929.6,925.7 L943.7,914.5 L955.4,902.9 L963.8,891.9M254.6,916.0 L266.6,928.3 L280.6,940.3 L294.5,950.4 L310.5,960.2 L328.5,969.7 L348.4,978.7 L370.4,987.1 L392.4,994.4 L416.3,1001.1 L442.3,1007.3 L468.2,1012.5 L496.2,1016.9 L524.1,1020.4 L552.1,1022.8 L580.0,1024.3 L608.0,1024.8 L636.1,1024.3 L664.3,1022.8 L692.4,1020.4 L720.6,1016.9 L748.7,1012.5 L774.8,1007.3 L801.0,1001.1 L825.1,994.4 L847.2,987.1 L869.3,978.7 L889.4,969.7 L907.5,960.2 L923.6,950.4 L937.7,940.3 L951.7,928.3 L963.8,916.0M254.6,940.5 L264.6,950.6 L278.6,962.3 L294.5,973.4 L312.5,984.1 L332.5,994.3 L352.4,1003.2 L374.4,1011.6 L398.4,1019.6 L422.3,1026.5 L448.3,1032.9 L474.2,1038.2 L500.2,1042.5 L526.1,1045.9 L554.1,1048.5 L580.0,1050.0 L608.0,1050.6 L636.1,1050.0 L662.3,1048.5 L690.4,1045.9 L716.5,1042.5 L742.7,1038.2 L768.8,1032.9 L794.9,1026.5 L819.1,1019.6 L843.2,1011.6 L865.3,1003.2 L885.4,994.3 L905.5,984.1 L923.6,973.4 L939.7,962.3 L953.7,950.6 L963.8,940.5M254.6,969.3 L266.6,979.8 L282.6,991.3 L300.5,1002.6 L318.5,1012.5 L338.5,1022.2 L360.4,1031.6 L382.4,1039.9 L406.3,1047.9 L432.3,1055.3 L456.3,1061.2 L480.2,1066.2 L506.2,1070.7 L532.1,1074.2 L558.1,1076.7 L582.0,1078.1 L608.0,1078.7 L634.1,1078.1 L658.3,1076.7 L684.4,1074.2 L710.5,1070.7 L736.7,1066.2 L760.8,1061.2 L784.9,1055.3 L811.0,1047.9 L835.1,1039.9 L857.3,1031.6 L879.4,1022.2 L899.5,1012.5 L917.6,1002.6 L935.7,991.3 L951.7,979.8 L963.8,969.3M254.6,1001.2 L272.6,1013.5 L290.5,1024.8 L308.5,1035.0 L328.5,1045.3 L348.4,1054.5 L370.4,1063.6 L392.4,1071.7 L416.3,1079.6 L442.3,1087.0 L466.2,1093.0 L490.2,1098.1 L514.2,1102.4 L538.1,1105.7 L562.1,1108.1 L586.0,1109.5 L608.0,1110.0 L630.1,1109.5 L654.2,1108.1 L678.4,1105.7 L702.5,1102.4 L726.6,1098.1 L750.7,1093.0 L774.8,1087.0 L801.0,1079.6 L825.1,1071.7 L847.2,1063.6 L869.3,1054.5 L889.4,1045.3 L909.5,1035.0 L927.6,1024.8 L945.7,1013.5 L963.8,1001.2M254.6,1033.0 L270.6,1043.8 L290.5,1056.1 L310.5,1067.2 L330.5,1077.3 L352.4,1087.4 L376.4,1097.3 L400.4,1106.3 L424.3,1114.3 L448.3,1121.6 L472.2,1127.9 L496.2,1133.4 L520.1,1138.0 L542.1,1141.4 L564.1,1143.8 L586.0,1145.3 L608.0,1145.8 L630.1,1145.3 L652.2,1143.8 L674.3,1141.4 L696.4,1138.0 L720.6,1133.4 L744.7,1127.9 L768.8,1121.6 L792.9,1114.3 L817.1,1106.3 L841.2,1097.3 L865.3,1087.4 L887.4,1077.3 L907.5,1067.2 L927.6,1056.1 L947.7,1043.8 L963.8,1033.0M254.6,1068.1 L266.6,1076.9 L286.5,1089.2 L308.5,1101.3 L332.5,1113.4 L358.4,1125.4 L382.4,1135.6 L408.3,1145.7 L434.3,1155.1 L458.3,1162.9 L482.2,1170.0 L506.2,1176.2 L528.1,1181.0 L550.1,1184.8 L570.1,1187.3 L590.0,1188.8 L608.0,1189.3 L626.1,1188.8 L646.2,1187.3 L666.3,1184.8 L688.4,1181.0 L710.5,1176.2 L734.6,1170.0 L758.8,1162.9 L782.9,1155.1 L809.0,1145.7 L835.1,1135.6 L859.3,1125.4 L885.4,1113.4 L909.5,1101.3 L931.6,1089.2 L951.7,1076.9 L963.8,1068.1M254.6,1111.0 L272.6,1121.8 L300.5,1137.3 L326.5,1150.8 L352.4,1163.6 L410.3,1190.1 L470.2,1215.0 L514.2,1231.2 L532.1,1237.0 L550.1,1242.1 L566.1,1245.7 L580.0,1248.1 L594.0,1249.6 L608.0,1250.2 L622.1,1249.6 L636.1,1248.1 L650.2,1245.7 L666.3,1242.1 L684.4,1237.0 L702.5,1231.2 L746.7,1215.0 L807.0,1190.1 L865.3,1163.6 L891.4,1150.8 L917.6,1137.3 L945.7,1121.8 L963.8,1111.0M649.3,1416.0 L638.2,1412.3 L628.1,1409.9 L618.1,1408.2 L608.0,1407.5 L598.0,1408.2 L588.0,1409.9 L578.1,1412.3 L567.0,1416.0M254.6,1157.3 L266.6,1164.6 L296.5,1181.8 L390.9,1234.3 L424.7,1254.3 L446.3,1268.3 L463.1,1280.2 L478.0,1292.2 L490.5,1304.2 L500.6,1316.2 L506.9,1326.2 L509.7,1332.1 L511.9,1338.1 L514.4,1350.1 L514.7,1360.1 L513.7,1372.1 L511.9,1382.1 L504.4,1416.0M712.3,1416.0 L704.8,1382.1 L703.0,1372.1 L701.9,1360.1 L702.3,1350.1 L704.8,1338.1 L706.9,1332.1 L709.8,1326.2 L716.1,1316.2 L726.2,1304.2 L738.9,1292.2 L753.9,1280.2 L770.8,1268.3 L792.6,1254.3 L826.5,1234.3 L921.6,1181.8 L951.7,1164.6 L963.8,1157.3M254.6,1210.5 L260.6,1215.5 L268.6,1221.1 L324.0,1256.3 L352.8,1276.2 L368.3,1288.2 L380.0,1298.2 L390.5,1308.2 L399.9,1318.2 L408.3,1328.4 L416.5,1340.1 L423.2,1352.1 L428.5,1364.1 L432.4,1376.1 L435.1,1388.0 L436.9,1402.0 L437.4,1416.0M779.8,1416.0 L780.3,1402.0 L782.1,1388.0 L784.8,1376.1 L788.8,1364.1 L794.0,1352.1 L800.8,1340.1 L809.0,1328.4 L817.5,1318.2 L826.9,1308.2 L837.6,1298.2 L849.4,1288.2 L864.9,1276.2 L894.0,1256.3 L949.7,1221.1 L957.8,1215.5 L963.8,1210.5M254.6,1283.4 L278.6,1298.3 L298.5,1312.5 L317.1,1328.1 L332.8,1344.1 L345.6,1360.1 L351.1,1368.1 L357.0,1378.1 L365.5,1396.0 L372.3,1416.0M845.3,1416.0 L852.1,1396.0 L860.7,1378.1 L866.7,1368.1 L872.1,1360.1 L885.0,1344.1 L900.9,1328.1 L919.6,1312.5 L939.7,1298.3 L963.8,1283.4" fill="none" stroke="#000" stroke-opacity="0.2" stroke-width="1.5"/>
</g>
<line x1="608.0" y1="829.0" x2="608.0" y2="1416.0" stroke="#2a2a2a" stroke-opacity="0.75" stroke-width="1.6"/>
<rect x="254.6" y="829.0" width="709.2" height="587.0" fill="none" stroke="#555" stroke-opacity="0.5" stroke-width="1"/>
<clipPath id="clipd"><rect x="1415.8" y="820.3" width="725.2" height="605.4"/></clipPath>
<g clip-path="url(#clipd)">
<rect x="1415.8" y="820.3" width="725.2" height="605.4" fill="#0000ff"/>
<path d="M1417.8,821.0 L1437.8,824.6 L1459.8,827.3 L1485.7,829.1 L1515.7,830.1 L1799.6,829.2 L1912.1,829.4 L2018.5,830.2 L2056.7,829.7 L2088.8,828.0 L2114.9,825.2 L2141.0,820.7 L2141.0,1425.7 L1415.8,1425.7 L1415.8,820.7Z" fill="#0028ff" fill-rule="evenodd"/>
<path d="M1417.8,821.7 L1427.8,825.8 L1437.8,829.2 L1447.8,832.0 L1459.8,834.5 L1485.7,838.1 L1515.7,840.0 L1545.7,840.2 L1661.6,838.5 L1797.6,838.2 L1914.1,838.7 L2020.5,840.3 L2040.6,840.0 L2058.7,839.1 L2074.7,837.7 L2090.8,835.5 L2104.9,832.9 L2116.9,829.8 L2126.9,826.6 L2141.0,821.0 L2141.0,1425.7 L1415.8,1425.7 L1415.8,821.0Z" fill="#005aff" fill-rule="evenodd"/>
<path d="M1417.8,822.3 L1425.8,828.0 L1435.8,833.5 L1445.8,837.7 L1457.8,841.7 L1469.8,844.6 L1483.7,847.2 L1497.7,848.9 L1513.7,850.1 L1543.7,850.5 L1609.6,848.5 L1657.6,847.7 L1797.6,847.3 L1918.1,848.0 L2022.5,850.5 L2042.6,850.1 L2060.7,848.7 L2076.7,846.6 L2092.8,843.3 L2106.9,839.2 L2118.9,834.4 L2129.0,829.3 L2139.0,822.3 L2141.0,821.4 L2141.0,1425.7 L1415.8,1425.7 L1415.8,821.4Z" fill="#0096ff" fill-rule="evenodd"/>
<path d="M1417.0,822.3 L1417.8,823.7 L1423.8,830.0 L1431.8,836.6 L1441.8,842.9 L1453.8,848.4 L1467.8,853.2 L1481.7,856.7 L1495.7,859.0 L1511.7,860.5 L1525.7,861.1 L1541.7,861.0 L1603.6,858.2 L1651.6,857.0 L1797.6,856.4 L1922.1,857.4 L1958.2,858.4 L2008.5,860.8 L2026.5,861.1 L2046.6,860.4 L2064.7,858.4 L2080.8,855.3 L2096.8,850.7 L2108.9,845.9 L2120.9,839.3 L2131.0,831.9 L2137.0,826.0 L2139.8,822.3 L2141.0,821.8 L2141.0,1425.7 L1415.8,1425.7 L1415.8,821.8Z" fill="#00c8ff" fill-rule="evenodd"/>
<path d="M1416.2,822.3 L1417.8,825.8 L1421.8,832.2 L1425.8,837.3 L1429.8,841.5 L1439.8,849.5 L1449.8,855.5 L1463.8,861.8 L1477.7,866.2 L1493.7,869.6 L1509.7,871.5 L1523.7,872.1 L1537.7,871.9 L1597.6,868.0 L1643.6,866.5 L1705.6,865.8 L1795.6,865.6 L1873.9,866.0 L1928.1,866.9 L1960.3,868.1 L2010.5,871.6 L2028.5,872.1 L2048.6,871.3 L2066.7,868.9 L2084.8,864.5 L2100.8,858.5 L2114.9,850.9 L2124.9,843.3 L2133.0,834.9 L2137.0,829.3 L2141.0,822.1 L2141.0,1425.7 L1415.8,1425.7 L1415.8,822.1Z" fill="#00e6ff" fill-rule="evenodd"/>
<path d="M1416.1,824.3 L1417.8,830.5 L1419.8,835.4 L1425.8,845.4 L1433.8,854.1 L1439.8,859.2 L1445.8,863.4 L1459.8,871.0 L1473.8,876.4 L1489.7,880.6 L1505.7,883.0 L1519.7,883.8 L1533.7,883.6 L1589.7,878.2 L1633.6,876.1 L1699.6,875.1 L1797.6,874.8 L1881.9,875.3 L1936.2,876.6 L1968.3,878.3 L2014.5,883.0 L2032.6,883.8 L2052.6,882.8 L2070.7,879.8 L2080.8,877.1 L2088.8,874.4 L2096.8,871.0 L2104.9,867.0 L2112.9,862.1 L2118.9,857.6 L2124.9,852.2 L2129.0,847.9 L2133.0,842.6 L2137.0,835.4 L2141.0,823.7 L2141.0,1425.7 L1415.8,1425.7 L1415.8,823.7Z" fill="#00ffff" fill-rule="evenodd"/>
<path d="M1415.8,834.3 L1417.2,840.3 L1419.4,846.3 L1421.8,851.0 L1425.3,856.3 L1433.8,865.8 L1439.8,871.0 L1445.8,875.5 L1457.8,882.5 L1471.8,888.5 L1487.7,893.1 L1503.7,895.7 L1517.7,896.6 L1531.7,896.1 L1543.7,894.7 L1579.7,888.8 L1597.6,887.2 L1621.6,885.9 L1689.6,884.5 L1795.6,884.1 L1888.0,884.8 L1946.2,886.5 L1974.3,888.6 L1988.4,890.5 L2016.5,895.2 L2026.5,896.2 L2036.6,896.6 L2054.6,895.5 L2072.7,892.1 L2088.8,887.0 L2096.8,883.5 L2104.9,879.3 L2112.9,874.1 L2118.9,869.4 L2124.9,863.9 L2129.9,858.3 L2134.2,852.3 L2137.0,847.2 L2139.6,840.3 L2141.0,834.1 L2141.0,1425.7 L1415.8,1425.7 L1415.8,834.1Z" fill="#00ffc8" fill-rule="evenodd"/>
<path d="M1416.6,858.3 L1422.9,868.3 L1431.8,878.4 L1441.8,887.1 L1451.8,893.7 L1463.8,899.8 L1477.7,905.0 L1491.7,908.4 L1505.7,910.3 L1519.7,910.7 L1533.7,909.6 L1545.7,907.3 L1565.7,901.2 L1573.7,899.4 L1587.7,897.6 L1605.6,896.2 L1635.6,894.9 L1673.6,894.0 L1785.5,893.4 L1894.0,894.2 L1930.1,895.2 L1956.2,896.6 L1972.3,898.0 L1984.4,899.8 L1992.4,901.7 L2008.5,906.7 L2018.5,909.0 L2028.5,910.3 L2040.6,910.8 L2056.7,909.6 L2072.7,906.6 L2086.8,902.3 L2100.8,896.0 L2112.9,888.6 L2118.9,883.9 L2124.9,878.4 L2130.6,872.2 L2135.0,866.7 L2141.0,856.6 L2141.0,1425.7 L1415.8,1425.7 L1415.8,856.6Z" fill="#00ff8c" fill-rule="evenodd"/>
<path d="M1416.6,878.2 L1423.8,888.0 L1431.8,896.5 L1441.8,904.7 L1451.8,910.9 L1463.8,916.7 L1477.7,921.5 L1491.7,924.8 L1505.7,926.7 L1515.7,927.1 L1523.7,926.8 L1531.7,926.0 L1539.7,924.5 L1547.7,922.1 L1555.7,918.6 L1559.7,916.1 L1567.7,909.9 L1575.7,908.3 L1589.7,906.7 L1619.6,904.9 L1659.6,903.7 L1715.6,903.0 L1785.5,902.8 L1851.8,903.1 L1904.0,903.9 L1942.2,905.1 L1970.3,907.1 L1982.3,908.6 L1988.4,909.9 L1996.4,916.1 L2000.4,918.6 L2006.4,921.4 L2012.5,923.5 L2026.5,926.3 L2040.6,927.1 L2054.6,926.3 L2070.7,923.6 L2086.8,919.0 L2100.8,913.0 L2112.9,906.1 L2122.9,898.3 L2133.0,888.0 L2137.5,882.2 L2141.0,876.9 L2141.0,1425.7 L1415.8,1425.7 L1415.8,876.9Z" fill="#00ff28" fill-rule="evenodd"/>
<path d="M1416.4,902.2 L1421.8,909.9 L1429.8,917.7 L1439.8,924.7 L1451.8,931.2 L1465.8,936.9 L1479.7,941.2 L1495.7,944.5 L1509.7,946.1 L1525.7,946.2 L1541.7,944.3 L1549.7,942.3 L1555.7,940.3 L1567.7,934.5 L1609.6,925.9 L1639.6,921.5 L1667.6,918.9 L1699.6,917.1 L1735.5,916.0 L1777.5,915.6 L1819.7,916.0 L1857.8,917.2 L1890.0,919.1 L1918.1,921.7 L1946.2,925.9 L1988.4,934.5 L2000.4,940.3 L2012.5,943.9 L2024.5,945.8 L2036.6,946.4 L2052.6,945.6 L2068.7,943.1 L2084.8,938.9 L2100.8,933.0 L2114.9,925.9 L2126.3,918.2 L2135.0,909.9 L2141.0,901.2 L2141.0,1425.7 L1415.8,1425.7 L1415.8,901.2Z" fill="#28ff00" fill-rule="evenodd"/>
<path d="M1417.5,938.2 L1445.8,951.8 L1457.8,956.6 L1469.8,960.7 L1481.7,964.0 L1495.7,966.9 L1509.7,968.9 L1521.7,969.9 L1533.7,970.1 L1545.7,969.7 L1567.7,967.1 L1643.6,961.6 L1673.6,959.8 L1723.5,958.1 L1777.5,957.5 L1835.7,958.2 L1885.9,960.0 L1988.4,967.1 L2008.5,969.6 L2024.5,970.2 L2038.6,969.6 L2054.6,967.9 L2068.7,965.3 L2082.8,961.8 L2096.8,957.4 L2108.9,952.7 L2141.0,937.5 L2141.0,1425.7 L1415.8,1425.7 L1415.8,937.5Z" fill="#96ff00" fill-rule="evenodd"/>
<path d="M1416.0,964.2 L1427.8,970.6 L1445.8,978.3 L1463.8,984.8 L1481.7,990.0 L1499.7,994.3 L1517.7,997.6 L1537.7,1000.5 L1567.7,1003.9 L1605.6,1004.2 L1709.6,1002.5 L1781.5,1002.1 L1845.8,1002.5 L1962.3,1004.2 L1990.4,1003.8 L2032.6,998.6 L2062.7,993.0 L2084.8,987.3 L2104.9,980.6 L2126.9,971.5 L2141.0,964.0 L2141.0,1425.7 L1415.8,1425.7 L1415.8,964.0Z" fill="#d2ff00" fill-rule="evenodd"/>
<path d="M1417.8,997.3 L1443.8,1007.8 L1471.8,1017.5 L1567.7,1045.3 L1605.6,1047.7 L1653.6,1049.3 L1715.6,1050.3 L1785.5,1050.6 L1851.8,1050.1 L1908.0,1049.1 L1952.2,1047.6 L1988.4,1045.3 L2084.8,1017.5 L2114.9,1007.0 L2141.0,996.3 L2141.0,1425.7 L1415.8,1425.7 L1415.8,996.3Z" fill="#f5ff00" fill-rule="evenodd"/>
<path d="M1417.8,1031.7 L1521.7,1071.6 L1543.7,1081.1 L1567.7,1092.7 L1615.6,1097.9 L1669.6,1101.9 L1725.5,1104.4 L1779.5,1105.1 L1833.7,1104.2 L1888.0,1101.8 L1940.2,1097.9 L1988.4,1092.7 L2012.5,1081.1 L2033.5,1072.1 L2141.0,1030.8 L2141.0,1425.7 L1415.8,1425.7 L1415.8,1030.8Z" fill="#ffe600" fill-rule="evenodd"/>
<path d="M1417.8,1069.4 L1473.8,1094.0 L1507.7,1110.6 L1523.7,1119.4 L1538.0,1128.0 L1552.9,1138.0 L1565.7,1147.6 L1567.7,1148.5 L1625.6,1158.2 L1681.6,1165.3 L1707.6,1167.8 L1731.5,1169.5 L1755.5,1170.5 L1777.5,1170.8 L1799.6,1170.5 L1823.7,1169.5 L1847.8,1167.8 L1873.9,1165.3 L1930.1,1158.2 L1988.4,1148.5 L1990.4,1147.6 L2003.2,1138.0 L2018.2,1128.0 L2032.6,1119.4 L2048.6,1110.6 L2082.7,1094.0 L2141.0,1068.4 L2141.0,1425.7 L1415.8,1425.7 L1415.8,1068.4Z" fill="#ffc800" fill-rule="evenodd"/>
<path d="M1417.5,1112.0 L1448.8,1128.0 L1467.8,1138.3 L1487.3,1150.0 L1505.7,1162.2 L1521.7,1174.1 L1538.0,1187.9 L1550.4,1199.9 L1565.7,1217.0 L1567.7,1218.5 L1669.6,1247.5 L1711.6,1258.4 L1731.5,1262.6 L1747.5,1265.2 L1763.5,1266.8 L1777.5,1267.3 L1791.6,1266.8 L1807.6,1265.2 L1823.7,1262.6 L1843.8,1258.4 L1885.9,1247.5 L1988.4,1218.5 L1990.4,1217.0 L2005.7,1199.9 L2018.2,1187.9 L2034.6,1174.1 L2050.6,1162.2 L2069.1,1150.0 L2088.8,1138.3 L2107.9,1128.0 L2141.0,1111.1 L2141.0,1425.7 L1814.2,1425.7 L1805.6,1420.8 L1795.6,1416.7 L1785.5,1414.3 L1777.5,1413.6 L1769.5,1414.3 L1759.5,1416.7 L1749.5,1420.8 L1741.0,1425.7 L1415.8,1425.7 L1415.8,1111.1Z" fill="#ff9600" fill-rule="evenodd"/>
<path d="M1417.8,1161.9 L1449.8,1181.6 L1461.8,1189.9 L1475.2,1199.9 L1487.4,1209.9 L1498.6,1219.9 L1509.7,1230.9 L1519.8,1241.9 L1532.8,1257.9 L1545.1,1275.8 L1555.5,1293.8 L1565.7,1315.2 L1567.7,1318.1 L1586.7,1329.8 L1602.8,1341.8 L1615.6,1353.8 L1621.6,1360.7 L1626.9,1367.8 L1634.0,1379.7 L1639.9,1393.7 L1643.8,1407.7 L1647.0,1425.7 L1415.8,1425.7 L1415.8,1160.7ZM2139.0,1161.9 L2141.0,1160.7 L2141.0,1425.7 L1908.7,1425.7 L1911.9,1407.7 L1915.8,1393.7 L1921.7,1379.7 L1928.8,1367.8 L1934.1,1360.7 L1940.2,1353.8 L1953.1,1341.8 L1969.2,1329.8 L1988.4,1318.1 L1990.4,1315.2 L2000.6,1293.8 L2011.0,1275.8 L2023.5,1257.9 L2036.4,1241.9 L2046.6,1230.9 L2057.8,1219.9 L2069.0,1209.9 L2081.3,1199.9 L2094.7,1189.9 L2106.9,1181.6 L2138.9,1162.0Z" fill="#ff6900" fill-rule="evenodd"/>
<path d="M1416.2,1217.9 L1449.2,1245.9 L1467.8,1263.2 L1485.7,1282.9 L1501.7,1303.8 L1514.5,1323.8 L1525.7,1344.6 L1536.3,1367.8 L1553.9,1411.7 L1557.8,1419.7 L1561.9,1425.7 L1415.8,1425.7 L1415.8,1217.6ZM2141.0,1217.6 L2141.0,1425.7 L1994.2,1425.7 L1998.3,1419.7 L2002.2,1411.7 L2019.9,1367.8 L2030.5,1344.6 L2041.8,1323.8 L2054.6,1303.8 L2070.7,1282.9 L2088.8,1263.2 L2107.4,1245.9 L2140.6,1217.9Z" fill="#ff3700" fill-rule="evenodd"/>
<path d="M1417.5,1293.8 L1431.8,1306.6 L1445.8,1320.7 L1458.6,1335.8 L1470.4,1351.8 L1480.6,1367.8 L1490.3,1385.7 L1499.5,1405.7 L1507.2,1425.7 L1415.8,1425.7 L1415.8,1292.4ZM2141.0,1292.4 L2141.0,1425.7 L2049.1,1425.7 L2056.9,1405.7 L2066.1,1385.7 L2075.9,1367.8 L2086.1,1351.8 L2097.9,1335.8 L2110.9,1320.7 L2124.9,1306.6 L2139.3,1293.8Z" fill="#ff0000" fill-rule="evenodd"/>
<path d="M1415.8,820.7 L1441.8,825.2 L1467.8,828.0 L1499.7,829.7 L1537.7,830.2 L1643.6,829.4 L1755.5,829.2 L2040.6,830.1 L2070.7,829.1 L2096.8,827.3 L2118.9,824.6 L2141.0,820.7M1415.8,821.0 L1429.8,826.6 L1439.8,829.8 L1451.8,832.9 L1465.8,835.5 L1481.7,837.7 L1497.7,839.1 L1515.7,840.0 L1535.7,840.3 L1641.6,838.7 L1757.5,838.2 L1894.0,838.5 L2010.5,840.2 L2040.6,840.0 L2070.7,838.1 L2096.8,834.5 L2108.9,832.0 L2118.9,829.2 L2129.0,825.8 L2141.0,821.0M1415.8,821.4 L1417.8,822.3 L1427.8,829.3 L1437.8,834.4 L1449.8,839.2 L1463.8,843.3 L1479.7,846.6 L1495.7,848.7 L1513.7,850.1 L1533.7,850.5 L1637.6,848.0 L1757.5,847.3 L1898.0,847.7 L1946.2,848.5 L2012.5,850.5 L2042.6,850.1 L2058.7,848.9 L2072.7,847.2 L2086.8,844.6 L2100.8,841.1 L2110.9,837.7 L2120.9,833.5 L2129.0,829.3 L2139.0,822.3 L2141.0,821.4M1415.8,821.8 L1417.0,822.3 L1419.8,826.0 L1425.8,831.9 L1435.8,839.3 L1447.8,845.9 L1461.8,851.4 L1477.7,855.8 L1493.7,858.7 L1511.7,860.5 L1531.7,861.1 L1633.6,857.4 L1757.5,856.4 L1904.0,857.0 L1952.2,858.2 L2014.5,861.0 L2030.5,861.1 L2044.6,860.5 L2060.7,859.0 L2074.7,856.7 L2088.8,853.2 L2102.8,848.4 L2114.9,842.9 L2124.9,836.6 L2133.0,830.0 L2139.0,823.7 L2139.8,822.3 L2141.0,821.8M1415.8,822.1 L1419.8,829.3 L1423.8,834.9 L1431.8,843.3 L1441.8,850.9 L1455.8,858.5 L1471.8,864.5 L1489.7,868.9 L1507.7,871.3 L1527.7,872.1 L1545.7,871.6 L1595.7,868.1 L1627.6,866.9 L1681.6,866.0 L1759.5,865.6 L1849.8,865.8 L1912.1,866.5 L1958.2,868.0 L2018.5,871.9 L2032.6,872.1 L2046.6,871.5 L2062.7,869.6 L2078.7,866.2 L2092.8,861.8 L2106.9,855.5 L2116.9,849.5 L2126.9,841.5 L2131.0,837.3 L2135.0,832.2 L2141.0,822.1M1415.8,823.7 L1419.8,835.4 L1423.8,842.6 L1427.8,847.9 L1431.8,852.2 L1437.8,857.6 L1443.8,862.1 L1451.8,867.0 L1459.8,871.0 L1467.8,874.4 L1475.8,877.1 L1485.7,879.8 L1503.7,882.8 L1523.7,883.8 L1541.7,883.0 L1587.7,878.3 L1619.6,876.6 L1673.6,875.3 L1757.5,874.8 L1855.8,875.1 L1922.1,876.1 L1966.3,878.2 L2022.5,883.6 L2036.6,883.8 L2050.6,883.0 L2066.7,880.6 L2082.8,876.4 L2096.8,871.0 L2110.9,863.4 L2116.9,859.2 L2122.9,854.1 L2131.0,845.4 L2137.0,835.4 L2141.0,823.7M1415.8,834.1 L1417.2,840.3 L1419.8,847.2 L1422.6,852.3 L1426.8,858.3 L1431.8,863.9 L1437.8,869.4 L1443.8,874.1 L1451.8,879.3 L1459.8,883.5 L1467.8,887.0 L1483.7,892.1 L1501.7,895.5 L1519.7,896.6 L1529.7,896.2 L1539.7,895.2 L1567.7,890.5 L1581.7,888.6 L1609.6,886.5 L1667.6,884.8 L1759.5,884.1 L1865.9,884.5 L1934.1,885.9 L1958.2,887.2 L1976.3,888.8 L2012.5,894.7 L2024.5,896.1 L2038.6,896.6 L2052.6,895.7 L2068.7,893.1 L2084.8,888.5 L2098.8,882.5 L2106.9,878.0 L2112.9,874.1 L2118.9,869.4 L2124.9,863.9 L2133.0,854.2 L2138.2,844.3 L2141.0,834.1M1415.8,856.6 L1421.8,866.7 L1426.1,872.2 L1431.8,878.4 L1437.8,883.9 L1443.8,888.6 L1455.8,896.0 L1469.8,902.3 L1485.7,907.1 L1501.7,909.9 L1517.7,910.8 L1527.7,910.3 L1537.7,909.0 L1547.7,906.7 L1563.7,901.7 L1571.7,899.8 L1583.7,898.0 L1599.6,896.6 L1625.6,895.2 L1661.6,894.2 L1769.5,893.4 L1881.9,894.0 L1920.1,894.9 L1950.2,896.2 L1968.3,897.6 L1982.3,899.4 L1990.4,901.2 L2010.5,907.3 L2022.5,909.6 L2036.6,910.7 L2050.6,910.3 L2064.7,908.4 L2078.7,905.0 L2092.8,899.8 L2104.9,893.7 L2116.9,885.5 L2126.9,876.4 L2135.0,866.7 L2141.0,856.6M1415.8,876.9 L1419.3,882.2 L1423.8,888.0 L1433.8,898.3 L1443.8,906.1 L1455.8,913.0 L1469.8,919.0 L1485.7,923.6 L1501.7,926.3 L1515.7,927.1 L1529.7,926.3 L1543.7,923.5 L1549.7,921.4 L1555.7,918.6 L1559.7,916.1 L1567.7,909.9 L1573.7,908.6 L1585.7,907.1 L1613.6,905.1 L1651.6,903.9 L1703.6,903.1 L1769.5,902.8 L1839.8,903.0 L1896.0,903.7 L1936.2,904.9 L1966.3,906.7 L1980.3,908.3 L1988.4,909.9 L1996.4,916.1 L2000.4,918.6 L2008.5,922.1 L2016.5,924.5 L2024.5,926.0 L2032.6,926.8 L2040.6,927.1 L2050.6,926.7 L2064.7,924.8 L2078.7,921.5 L2092.8,916.7 L2104.9,910.9 L2114.9,904.7 L2124.9,896.5 L2134.5,886.2 L2141.0,876.9M1415.8,901.2 L1421.8,909.9 L1428.1,916.2 L1437.8,923.5 L1449.8,930.2 L1463.8,936.2 L1477.7,940.7 L1491.7,943.8 L1507.7,945.9 L1523.7,946.3 L1539.7,944.7 L1547.7,942.9 L1553.7,941.0 L1559.7,938.6 L1567.7,934.5 L1611.6,925.5 L1641.6,921.3 L1669.6,918.8 L1701.6,917.0 L1739.5,915.9 L1779.5,915.6 L1821.7,916.1 L1857.8,917.2 L1890.0,919.1 L1918.1,921.7 L1946.2,925.9 L1988.4,934.5 L2000.4,940.3 L2012.5,943.9 L2024.5,945.8 L2036.6,946.4 L2052.6,945.6 L2068.7,943.1 L2084.8,938.9 L2100.8,933.0 L2114.9,925.9 L2126.3,918.2 L2135.0,909.9 L2141.0,901.2M1415.8,937.5 L1447.8,952.7 L1459.8,957.4 L1473.8,961.8 L1487.7,965.3 L1501.7,967.9 L1517.7,969.6 L1531.7,970.2 L1547.7,969.6 L1567.7,967.1 L1669.6,960.0 L1719.5,958.2 L1777.5,957.5 L1831.7,958.1 L1881.9,959.8 L1912.1,961.6 L1988.4,967.1 L2010.5,969.7 L2022.5,970.1 L2034.6,969.9 L2046.6,968.9 L2060.7,966.9 L2074.7,964.0 L2086.8,960.7 L2098.8,956.6 L2110.9,951.8 L2141.0,937.5M1415.8,964.0 L1429.8,971.5 L1451.8,980.6 L1471.8,987.3 L1493.7,993.0 L1523.7,998.6 L1565.7,1003.8 L1593.7,1004.2 L1709.6,1002.5 L1773.5,1002.1 L1845.8,1002.5 L1950.2,1004.2 L1988.4,1003.9 L2018.5,1000.5 L2038.6,997.6 L2056.7,994.3 L2074.7,990.0 L2092.8,984.8 L2110.9,978.3 L2129.0,970.6 L2141.0,964.0M1415.8,996.3 L1441.8,1007.0 L1471.8,1017.5 L1567.7,1045.3 L1605.6,1047.7 L1649.6,1049.2 L1709.6,1050.2 L1777.5,1050.6 L1845.8,1050.2 L1906.0,1049.2 L1950.2,1047.7 L1988.4,1045.3 L2084.8,1017.5 L2114.9,1007.0 L2141.0,996.3M1415.8,1030.8 L1522.8,1072.1 L1543.7,1081.1 L1567.7,1092.7 L1615.6,1097.9 L1669.6,1101.9 L1723.5,1104.3 L1777.5,1105.1 L1831.7,1104.3 L1885.9,1101.9 L1940.2,1097.9 L1988.4,1092.7 L2012.5,1081.1 L2033.5,1072.1 L2141.0,1030.8M1415.8,1068.4 L1473.8,1094.0 L1507.7,1110.6 L1523.7,1119.4 L1538.0,1128.0 L1552.9,1138.0 L1565.7,1147.6 L1567.7,1148.5 L1625.6,1158.2 L1681.6,1165.3 L1707.6,1167.8 L1731.5,1169.5 L1755.5,1170.5 L1777.5,1170.8 L1799.6,1170.5 L1823.7,1169.5 L1847.8,1167.8 L1873.9,1165.3 L1930.1,1158.2 L1988.4,1148.5 L1990.4,1147.6 L2003.2,1138.0 L2018.2,1128.0 L2032.6,1119.4 L2048.6,1110.6 L2082.7,1094.0 L2141.0,1068.4M1415.8,1111.1 L1448.8,1128.0 L1467.8,1138.3 L1487.3,1150.0 L1505.7,1162.2 L1521.7,1174.1 L1538.0,1187.9 L1550.4,1199.9 L1565.7,1217.0 L1567.7,1218.5 L1669.6,1247.5 L1711.6,1258.4 L1731.5,1262.6 L1747.5,1265.2 L1763.5,1266.8 L1777.5,1267.3 L1791.6,1266.8 L1807.6,1265.2 L1823.7,1262.6 L1843.8,1258.4 L1885.9,1247.5 L1988.4,1218.5 L1990.4,1217.0 L2005.7,1199.9 L2018.2,1187.9 L2034.6,1174.1 L2050.6,1162.2 L2069.1,1150.0 L2088.8,1138.3 L2107.9,1128.0 L2141.0,1111.1M1814.2,1425.7 L1805.6,1420.8 L1795.6,1416.7 L1785.5,1414.3 L1777.5,1413.6 L1769.5,1414.3 L1759.5,1416.7 L1749.5,1420.8 L1741.0,1425.7M1415.8,1160.7 L1449.8,1181.6 L1461.8,1189.9 L1475.2,1199.9 L1487.4,1209.9 L1498.6,1219.9 L1509.7,1230.9 L1519.8,1241.9 L1532.8,1257.9 L1545.1,1275.8 L1555.5,1293.8 L1565.7,1315.2 L1567.7,1318.1 L1586.7,1329.8 L1602.8,1341.8 L1615.6,1353.8 L1621.6,1360.7 L1626.9,1367.8 L1634.0,1379.7 L1639.9,1393.7 L1643.8,1407.7 L1647.0,1425.7M1908.7,1425.7 L1911.9,1407.7 L1915.8,1393.7 L1921.7,1379.7 L1928.8,1367.8 L1934.1,1360.7 L1940.2,1353.8 L1953.1,1341.8 L1969.2,1329.8 L1988.4,1318.1 L1990.4,1315.2 L2000.6,1293.8 L2011.0,1275.8 L2023.5,1257.9 L2036.4,1241.9 L2046.6,1230.9 L2057.8,1219.9 L2069.0,1209.9 L2081.3,1199.9 L2094.7,1189.9 L2106.9,1181.6 L2141.0,1160.7M1415.8,1217.6 L1449.2,1245.9 L1467.8,1263.2 L1485.7,1282.9 L1501.7,1303.8 L1514.5,1323.8 L1525.7,1344.6 L1536.3,1367.8 L1553.9,1411.7 L1557.8,1419.7 L1561.9,1425.7M1994.2,1425.7 L1998.3,1419.7 L2002.2,1411.7 L2019.9,1367.8 L2030.5,1344.6 L2041.8,1323.8 L2054.6,1303.8 L2070.7,1282.9 L2088.8,1263.2 L2107.4,1245.9 L2141.0,1217.6M1415.8,1292.4 L1431.8,1306.6 L1445.8,1320.7 L1457.8,1334.7 L1469.8,1350.8 L1480.6,1367.8 L1490.3,1385.7 L1499.5,1405.7 L1507.2,1425.7M2049.1,1425.7 L2056.9,1405.7 L2066.1,1385.7 L2075.9,1367.8 L2086.8,1350.8 L2098.8,1334.7 L2110.9,1320.7 L2124.9,1306.6 L2141.0,1292.4" fill="none" stroke="#000" stroke-opacity="0.2" stroke-width="1.5"/>
</g>
<path d="M1566.3,1425.7 L1566.3,910.7 L1988.7,910.7 L1988.7,1425.7" fill="none" stroke="#333" stroke-opacity="0.7" stroke-width="1.6"/>
<line x1="1777.5" y1="820.3" x2="1777.5" y2="1425.7" stroke="#2a2a2a" stroke-opacity="0.75" stroke-width="1.6"/>
<rect x="32.0" y="40.0" width="215.5" height="583.5" fill="#fff" stroke="#8c8c8c" stroke-width="2.6" rx="2"/>
<text x="45" y="77.8" font-size="24" font-weight="bold" fill="#222" font-family='"Liberation Sans", Arial, sans-serif' textLength="197" lengthAdjust="spacingAndGlyphs">HeatFlux,[W/m<tspan font-size="13" dy="-10">2</tspan><tspan dy="10">]</tspan></text>
<rect x="47.0" y="103.00" width="79.0" height="25.55" fill="#ff0000"/>
<rect x="47.0" y="128.15" width="79.0" height="25.55" fill="#ff3700"/>
<rect x="47.0" y="153.30" width="79.0" height="25.55" fill="#ff6900"/>
<rect x="47.0" y="178.45" width="79.0" height="25.55" fill="#ff9600"/>
<rect x="47.0" y="203.60" width="79.0" height="25.55" fill="#ffc800"/>
<rect x="47.0" y="228.75" width="79.0" height="25.55" fill="#ffe600"/>
<rect x="47.0" y="253.90" width="79.0" height="25.55" fill="#f5ff00"/>
<rect x="47.0" y="279.05" width="79.0" height="25.55" fill="#d2ff00"/>
<rect x="47.0" y="304.20" width="79.0" height="25.55" fill="#96ff00"/>
<rect x="47.0" y="329.35" width="79.0" height="25.55" fill="#28ff00"/>
<rect x="47.0" y="354.50" width="79.0" height="25.55" fill="#00ff28"/>
<rect x="47.0" y="379.65" width="79.0" height="25.55" fill="#00ff8c"/>
<rect x="47.0" y="404.80" width="79.0" height="25.55" fill="#00ffc8"/>
<rect x="47.0" y="429.95" width="79.0" height="25.55" fill="#00ffff"/>
<rect x="47.0" y="455.10" width="79.0" height="25.55" fill="#00e6ff"/>
<rect x="47.0" y="480.25" width="79.0" height="25.55" fill="#00c8ff"/>
<rect x="47.0" y="505.40" width="79.0" height="25.55" fill="#0096ff"/>
<rect x="47.0" y="530.55" width="79.0" height="25.55" fill="#005aff"/>
<rect x="47.0" y="555.70" width="79.0" height="25.55" fill="#0028ff"/>
<rect x="47.0" y="580.85" width="79.0" height="25.55" fill="#0000ff"/>
<line x1="47.0" y1="128.15" x2="126.0" y2="128.15" stroke="#000" stroke-opacity="0.18" stroke-width="2"/>
<line x1="47.0" y1="153.30" x2="126.0" y2="153.30" stroke="#000" stroke-opacity="0.18" stroke-width="2"/>
<line x1="47.0" y1="178.45" x2="126.0" y2="178.45" stroke="#000" stroke-opacity="0.18" stroke-width="2"/>
<line x1="47.0" y1="203.60" x2="126.0" y2="203.60" stroke="#000" stroke-opacity="0.18" stroke-width="2"/>
<line x1="47.0" y1="228.75" x2="126.0" y2="228.75" stroke="#000" stroke-opacity="0.18" stroke-width="2"/>
<line x1="47.0" y1="253.90" x2="126.0" y2="253.90" stroke="#000" stroke-opacity="0.18" stroke-width="2"/>
<line x1="47.0" y1="279.05" x2="126.0" y2="279.05" stroke="#000" stroke-opacity="0.18" stroke-width="2"/>
<line x1="47.0" y1="304.20" x2="126.0" y2="304.20" stroke="#000" stroke-opacity="0.18" stroke-width="2"/>
<line x1="47.0" y1="329.35" x2="126.0" y2="329.35" stroke="#000" stroke-opacity="0.18" stroke-width="2"/>
<line x1="47.0" y1="354.50" x2="126.0" y2="354.50" stroke="#000" stroke-opacity="0.18" stroke-width="2"/>
<line x1="47.0" y1="379.65" x2="126.0" y2="379.65" stroke="#000" stroke-opacity="0.18" stroke-width="2"/>
<line x1="47.0" y1="404.80" x2="126.0" y2="404.80" stroke="#000" stroke-opacity="0.18" stroke-width="2"/>
<line x1="47.0" y1="429.95" x2="126.0" y2="429.95" stroke="#000" stroke-opacity="0.18" stroke-width="2"/>
<line x1="47.0" y1="455.10" x2="126.0" y2="455.10" stroke="#000" stroke-opacity="0.18" stroke-width="2"/>
<line x1="47.0" y1="480.25" x2="126.0" y2="480.25" stroke="#000" stroke-opacity="0.18" stroke-width="2"/>
<line x1="47.0" y1="505.40" x2="126.0" y2="505.40" stroke="#000" stroke-opacity="0.18" stroke-width="2"/>
<line x1="47.0" y1="530.55" x2="126.0" y2="530.55" stroke="#000" stroke-opacity="0.18" stroke-width="2"/>
<line x1="47.0" y1="555.70" x2="126.0" y2="555.70" stroke="#000" stroke-opacity="0.18" stroke-width="2"/>
<line x1="47.0" y1="580.85" x2="126.0" y2="580.85" stroke="#000" stroke-opacity="0.18" stroke-width="2"/>
<rect x="47.0" y="103.0" width="79.0" height="503.0" fill="none" stroke="#000" stroke-opacity="0.35" stroke-width="1.5"/>
<text x="137.5" y="117.2" font-size="26" font-weight="bold" textLength="100.1" lengthAdjust="spacingAndGlyphs" fill="#1a1a1a" font-family='"Liberation Sans", Arial, sans-serif'>56,670.1</text>
<text x="137.5" y="152.2" font-size="26" font-weight="bold" textLength="100.1" lengthAdjust="spacingAndGlyphs" fill="#1a1a1a" font-family='"Liberation Sans", Arial, sans-serif'>53,847.6</text>
<text x="137.5" y="186.2" font-size="26" font-weight="bold" textLength="100.1" lengthAdjust="spacingAndGlyphs" fill="#1a1a1a" font-family='"Liberation Sans", Arial, sans-serif'>51,025.1</text>
<text x="137.5" y="219.2" font-size="26" font-weight="bold" textLength="100.1" lengthAdjust="spacingAndGlyphs" fill="#1a1a1a" font-family='"Liberation Sans", Arial, sans-serif'>48,202.5</text>
<text x="137.5" y="252.2" font-size="26" font-weight="bold" textLength="100.1" lengthAdjust="spacingAndGlyphs" fill="#1a1a1a" font-family='"Liberation Sans", Arial, sans-serif'>45,380.1</text>
<text x="137.5" y="287.1" font-size="26" font-weight="bold" textLength="100.1" lengthAdjust="spacingAndGlyphs" fill="#1a1a1a" font-family='"Liberation Sans", Arial, sans-serif'>42,557.5</text>
<text x="137.5" y="322.1" font-size="26" font-weight="bold" textLength="100.1" lengthAdjust="spacingAndGlyphs" fill="#1a1a1a" font-family='"Liberation Sans", Arial, sans-serif'>39,734.9</text>
<text x="137.5" y="361.1" font-size="26" font-weight="bold" textLength="100.1" lengthAdjust="spacingAndGlyphs" fill="#1a1a1a" font-family='"Liberation Sans", Arial, sans-serif'>36,912.4</text>
<text x="137.5" y="396.1" font-size="26" font-weight="bold" textLength="100.1" lengthAdjust="spacingAndGlyphs" fill="#1a1a1a" font-family='"Liberation Sans", Arial, sans-serif'>22,844.8</text>
<text x="137.5" y="431.1" font-size="26" font-weight="bold" textLength="100.1" lengthAdjust="spacingAndGlyphs" fill="#1a1a1a" font-family='"Liberation Sans", Arial, sans-serif'>22,799.8</text>
<text x="137.5" y="469.1" font-size="26" font-weight="bold" textLength="100.1" lengthAdjust="spacingAndGlyphs" fill="#1a1a1a" font-family='"Liberation Sans", Arial, sans-serif'>17,154.7</text>
<text x="137.5" y="505.1" font-size="26" font-weight="bold" textLength="100.1" lengthAdjust="spacingAndGlyphs" fill="#1a1a1a" font-family='"Liberation Sans", Arial, sans-serif'>11,509.7</text>
<text x="137.5" y="541.1" font-size="26" font-weight="bold" textLength="78.7" lengthAdjust="spacingAndGlyphs" fill="#1a1a1a" font-family='"Liberation Sans", Arial, sans-serif'>8687.1</text>
<text x="137.5" y="575.1" font-size="26" font-weight="bold" textLength="78.7" lengthAdjust="spacingAndGlyphs" fill="#1a1a1a" font-family='"Liberation Sans", Arial, sans-serif'>7977.2</text>
<text x="137.5" y="612.1" font-size="26" font-weight="bold" textLength="78.7" lengthAdjust="spacingAndGlyphs" fill="#1a1a1a" font-family='"Liberation Sans", Arial, sans-serif'>3042.9</text>
<rect x="1181.0" y="25.0" width="224.7" height="606.7" fill="#fff" stroke="#8c8c8c" stroke-width="2.6" rx="2"/>
<text x="1194" y="62.2" font-size="26" font-weight="bold" fill="#222" font-family='"Liberation Sans", Arial, sans-serif' textLength="204.5" lengthAdjust="spacingAndGlyphs">HeatFlux,[W/m<tspan font-size="14" dy="-11">2</tspan><tspan dy="11">]</tspan></text>
<rect x="1196.0" y="90.70" width="82.0" height="26.53" fill="#ff0000"/>
<rect x="1196.0" y="116.83" width="82.0" height="26.53" fill="#ff3700"/>
<rect x="1196.0" y="142.96" width="82.0" height="26.53" fill="#ff6900"/>
<rect x="1196.0" y="169.09" width="82.0" height="26.53" fill="#ff9600"/>
<rect x="1196.0" y="195.22" width="82.0" height="26.53" fill="#ffc800"/>
<rect x="1196.0" y="221.35" width="82.0" height="26.53" fill="#ffe600"/>
<rect x="1196.0" y="247.48" width="82.0" height="26.53" fill="#f5ff00"/>
<rect x="1196.0" y="273.61" width="82.0" height="26.53" fill="#d2ff00"/>
<rect x="1196.0" y="299.74" width="82.0" height="26.53" fill="#96ff00"/>
<rect x="1196.0" y="325.87" width="82.0" height="26.53" fill="#28ff00"/>
<rect x="1196.0" y="352.00" width="82.0" height="26.53" fill="#00ff28"/>
<rect x="1196.0" y="378.13" width="82.0" height="26.53" fill="#00ff8c"/>
<rect x="1196.0" y="404.26" width="82.0" height="26.53" fill="#00ffc8"/>
<rect x="1196.0" y="430.39" width="82.0" height="26.53" fill="#00ffff"/>
<rect x="1196.0" y="456.52" width="82.0" height="26.53" fill="#00e6ff"/>
<rect x="1196.0" y="482.65" width="82.0" height="26.53" fill="#00c8ff"/>
<rect x="1196.0" y="508.78" width="82.0" height="26.53" fill="#0096ff"/>
<rect x="1196.0" y="534.91" width="82.0" height="26.53" fill="#005aff"/>
<rect x="1196.0" y="561.04" width="82.0" height="26.53" fill="#0028ff"/>
<rect x="1196.0" y="587.17" width="82.0" height="26.53" fill="#0000ff"/>
<line x1="1196.0" y1="116.83" x2="1278.0" y2="116.83" stroke="#000" stroke-opacity="0.18" stroke-width="2"/>
<line x1="1196.0" y1="142.96" x2="1278.0" y2="142.96" stroke="#000" stroke-opacity="0.18" stroke-width="2"/>
<line x1="1196.0" y1="169.09" x2="1278.0" y2="169.09" stroke="#000" stroke-opacity="0.18" stroke-width="2"/>
<line x1="1196.0" y1="195.22" x2="1278.0" y2="195.22" stroke="#000" stroke-opacity="0.18" stroke-width="2"/>
<line x1="1196.0" y1="221.35" x2="1278.0" y2="221.35" stroke="#000" stroke-opacity="0.18" stroke-width="2"/>
<line x1="1196.0" y1="247.48" x2="1278.0" y2="247.48" stroke="#000" stroke-opacity="0.18" stroke-width="2"/>
<line x1="1196.0" y1="273.61" x2="1278.0" y2="273.61" stroke="#000" stroke-opacity="0.18" stroke-width="2"/>
<line x1="1196.0" y1="299.74" x2="1278.0" y2="299.74" stroke="#000" stroke-opacity="0.18" stroke-width="2"/>
<line x1="1196.0" y1="325.87" x2="1278.0" y2="325.87" stroke="#000" stroke-opacity="0.18" stroke-width="2"/>
<line x1="1196.0" y1="352.00" x2="1278.0" y2="352.00" stroke="#000" stroke-opacity="0.18" stroke-width="2"/>
<line x1="1196.0" y1="378.13" x2="1278.0" y2="378.13" stroke="#000" stroke-opacity="0.18" stroke-width="2"/>
<line x1="1196.0" y1="404.26" x2="1278.0" y2="404.26" stroke="#000" stroke-opacity="0.18" stroke-width="2"/>
<line x1="1196.0" y1="430.39" x2="1278.0" y2="430.39" stroke="#000" stroke-opacity="0.18" stroke-width="2"/>
<line x1="1196.0" y1="456.52" x2="1278.0" y2="456.52" stroke="#000" stroke-opacity="0.18" stroke-width="2"/>
<line x1="1196.0" y1="482.65" x2="1278.0" y2="482.65" stroke="#000" stroke-opacity="0.18" stroke-width="2"/>
<line x1="1196.0" y1="508.78" x2="1278.0" y2="508.78" stroke="#000" stroke-opacity="0.18" stroke-width="2"/>
<line x1="1196.0" y1="534.91" x2="1278.0" y2="534.91" stroke="#000" stroke-opacity="0.18" stroke-width="2"/>
<line x1="1196.0" y1="561.04" x2="1278.0" y2="561.04" stroke="#000" stroke-opacity="0.18" stroke-width="2"/>
<line x1="1196.0" y1="587.17" x2="1278.0" y2="587.17" stroke="#000" stroke-opacity="0.18" stroke-width="2"/>
<rect x="1196.0" y="90.7" width="82.0" height="522.6" fill="none" stroke="#000" stroke-opacity="0.35" stroke-width="1.5"/>
<text x="1289.6" y="105.0" font-size="26" font-weight="bold" textLength="105.0" lengthAdjust="spacingAndGlyphs" fill="#1a1a1a" font-family='"Liberation Sans", Arial, sans-serif'>48,224.1</text>
<text x="1289.6" y="140.2" font-size="26" font-weight="bold" textLength="105.0" lengthAdjust="spacingAndGlyphs" fill="#1a1a1a" font-family='"Liberation Sans", Arial, sans-serif'>45,856.6</text>
<text x="1289.6" y="175.4" font-size="26" font-weight="bold" textLength="105.0" lengthAdjust="spacingAndGlyphs" fill="#1a1a1a" font-family='"Liberation Sans", Arial, sans-serif'>43,489.1</text>
<text x="1289.6" y="209.4" font-size="26" font-weight="bold" textLength="105.0" lengthAdjust="spacingAndGlyphs" fill="#1a1a1a" font-family='"Liberation Sans", Arial, sans-serif'>41,121.7</text>
<text x="1289.6" y="244.2" font-size="26" font-weight="bold" textLength="105.0" lengthAdjust="spacingAndGlyphs" fill="#1a1a1a" font-family='"Liberation Sans", Arial, sans-serif'>38,754.2</text>
<text x="1289.6" y="279.9" font-size="26" font-weight="bold" textLength="105.0" lengthAdjust="spacingAndGlyphs" fill="#1a1a1a" font-family='"Liberation Sans", Arial, sans-serif'>36,386.8</text>
<text x="1289.6" y="317.1" font-size="26" font-weight="bold" textLength="105.0" lengthAdjust="spacingAndGlyphs" fill="#1a1a1a" font-family='"Liberation Sans", Arial, sans-serif'>34,019.3</text>
<text x="1289.6" y="357.6" font-size="26" font-weight="bold" textLength="105.0" lengthAdjust="spacingAndGlyphs" fill="#1a1a1a" font-family='"Liberation Sans", Arial, sans-serif'>31,651.8</text>
<text x="1289.6" y="393.9" font-size="26" font-weight="bold" textLength="105.0" lengthAdjust="spacingAndGlyphs" fill="#1a1a1a" font-family='"Liberation Sans", Arial, sans-serif'>29,284.4</text>
<text x="1289.6" y="431.9" font-size="26" font-weight="bold" textLength="105.0" lengthAdjust="spacingAndGlyphs" fill="#1a1a1a" font-family='"Liberation Sans", Arial, sans-serif'>26,916.9</text>
<text x="1289.6" y="471.1" font-size="26" font-weight="bold" textLength="105.0" lengthAdjust="spacingAndGlyphs" fill="#1a1a1a" font-family='"Liberation Sans", Arial, sans-serif'>24,549.4</text>
<text x="1289.6" y="510.1" font-size="26" font-weight="bold" textLength="105.0" lengthAdjust="spacingAndGlyphs" fill="#1a1a1a" font-family='"Liberation Sans", Arial, sans-serif'>19,814.5</text>
<text x="1289.6" y="547.8" font-size="26" font-weight="bold" textLength="105.0" lengthAdjust="spacingAndGlyphs" fill="#1a1a1a" font-family='"Liberation Sans", Arial, sans-serif'>12,712.1</text>
<text x="1289.6" y="582.0" font-size="26" font-weight="bold" textLength="82.5" lengthAdjust="spacingAndGlyphs" fill="#1a1a1a" font-family='"Liberation Sans", Arial, sans-serif'>7977.2</text>
<text x="1289.6" y="621.2" font-size="26" font-weight="bold" textLength="82.5" lengthAdjust="spacingAndGlyphs" fill="#1a1a1a" font-family='"Liberation Sans", Arial, sans-serif'>3242.8</text>
<rect x="47.0" y="835.7" width="190.6" height="584.6" fill="#fff" stroke="#8c8c8c" stroke-width="2.6" rx="2"/>
<text x="89.4" y="882.0" font-size="44" textLength="104.0" lengthAdjust="spacingAndGlyphs" fill="#111" font-family='"Liberation Sans", Arial, sans-serif'>T,[°C]</text>
<rect x="59.6" y="899.30" width="79.3" height="25.56" fill="#ff0000"/>
<rect x="59.6" y="924.46" width="79.3" height="25.56" fill="#ff3700"/>
<rect x="59.6" y="949.62" width="79.3" height="25.56" fill="#ff6900"/>
<rect x="59.6" y="974.78" width="79.3" height="25.56" fill="#ff9600"/>
<rect x="59.6" y="999.94" width="79.3" height="25.56" fill="#ffc800"/>
<rect x="59.6" y="1025.10" width="79.3" height="25.56" fill="#ffe600"/>
<rect x="59.6" y="1050.26" width="79.3" height="25.56" fill="#f5ff00"/>
<rect x="59.6" y="1075.42" width="79.3" height="25.56" fill="#d2ff00"/>
<rect x="59.6" y="1100.58" width="79.3" height="25.56" fill="#96ff00"/>
<rect x="59.6" y="1125.74" width="79.3" height="25.56" fill="#28ff00"/>
<rect x="59.6" y="1150.90" width="79.3" height="25.56" fill="#00ff28"/>
<rect x="59.6" y="1176.06" width="79.3" height="25.56" fill="#00ff8c"/>
<rect x="59.6" y="1201.22" width="79.3" height="25.56" fill="#00ffc8"/>
<rect x="59.6" y="1226.38" width="79.3" height="25.56" fill="#00ffff"/>
<rect x="59.6" y="1251.54" width="79.3" height="25.56" fill="#00e6ff"/>
<rect x="59.6" y="1276.70" width="79.3" height="25.56" fill="#00c8ff"/>
<rect x="59.6" y="1301.86" width="79.3" height="25.56" fill="#0096ff"/>
<rect x="59.6" y="1327.02" width="79.3" height="25.56" fill="#005aff"/>
<rect x="59.6" y="1352.18" width="79.3" height="25.56" fill="#0028ff"/>
<rect x="59.6" y="1377.34" width="79.3" height="25.56" fill="#0000ff"/>
<line x1="59.6" y1="924.46" x2="138.9" y2="924.46" stroke="#000" stroke-opacity="0.18" stroke-width="2"/>
<line x1="59.6" y1="949.62" x2="138.9" y2="949.62" stroke="#000" stroke-opacity="0.18" stroke-width="2"/>
<line x1="59.6" y1="974.78" x2="138.9" y2="974.78" stroke="#000" stroke-opacity="0.18" stroke-width="2"/>
<line x1="59.6" y1="999.94" x2="138.9" y2="999.94" stroke="#000" stroke-opacity="0.18" stroke-width="2"/>
<line x1="59.6" y1="1025.10" x2="138.9" y2="1025.10" stroke="#000" stroke-opacity="0.18" stroke-width="2"/>
<line x1="59.6" y1="1050.26" x2="138.9" y2="1050.26" stroke="#000" stroke-opacity="0.18" stroke-width="2"/>
<line x1="59.6" y1="1075.42" x2="138.9" y2="1075.42" stroke="#000" stroke-opacity="0.18" stroke-width="2"/>
<line x1="59.6" y1="1100.58" x2="138.9" y2="1100.58" stroke="#000" stroke-opacity="0.18" stroke-width="2"/>
<line x1="59.6" y1="1125.74" x2="138.9" y2="1125.74" stroke="#000" stroke-opacity="0.18" stroke-width="2"/>
<line x1="59.6" y1="1150.90" x2="138.9" y2="1150.90" stroke="#000" stroke-opacity="0.18" stroke-width="2"/>
<line x1="59.6" y1="1176.06" x2="138.9" y2="1176.06" stroke="#000" stroke-opacity="0.18" stroke-width="2"/>
<line x1="59.6" y1="1201.22" x2="138.9" y2="1201.22" stroke="#000" stroke-opacity="0.18" stroke-width="2"/>
<line x1="59.6" y1="1226.38" x2="138.9" y2="1226.38" stroke="#000" stroke-opacity="0.18" stroke-width="2"/>
<line x1="59.6" y1="1251.54" x2="138.9" y2="1251.54" stroke="#000" stroke-opacity="0.18" stroke-width="2"/>
<line x1="59.6" y1="1276.70" x2="138.9" y2="1276.70" stroke="#000" stroke-opacity="0.18" stroke-width="2"/>
<line x1="59.6" y1="1301.86" x2="138.9" y2="1301.86" stroke="#000" stroke-opacity="0.18" stroke-width="2"/>
<line x1="59.6" y1="1327.02" x2="138.9" y2="1327.02" stroke="#000" stroke-opacity="0.18" stroke-width="2"/>
<line x1="59.6" y1="1352.18" x2="138.9" y2="1352.18" stroke="#000" stroke-opacity="0.18" stroke-width="2"/>
<line x1="59.6" y1="1377.34" x2="138.9" y2="1377.34" stroke="#000" stroke-opacity="0.18" stroke-width="2"/>
<rect x="59.6" y="899.3" width="79.3" height="503.2" fill="none" stroke="#000" stroke-opacity="0.35" stroke-width="1.5"/>
<text x="151.5" y="922.8" font-size="28" font-weight="bold" textLength="58.0" lengthAdjust="spacingAndGlyphs" fill="#1a1a1a" font-family='"Liberation Sans", Arial, sans-serif'>2340</text>
<text x="151.5" y="952.5" font-size="28" font-weight="bold" textLength="58.0" lengthAdjust="spacingAndGlyphs" fill="#1a1a1a" font-family='"Liberation Sans", Arial, sans-serif'>2333</text>
<text x="151.5" y="977.3" font-size="28" font-weight="bold" textLength="58.0" lengthAdjust="spacingAndGlyphs" fill="#1a1a1a" font-family='"Liberation Sans", Arial, sans-serif'>2327</text>
<text x="151.5" y="1005.6" font-size="28" font-weight="bold" textLength="58.0" lengthAdjust="spacingAndGlyphs" fill="#1a1a1a" font-family='"Liberation Sans", Arial, sans-serif'>2320</text>
<text x="151.5" y="1035.0" font-size="28" font-weight="bold" textLength="58.0" lengthAdjust="spacingAndGlyphs" fill="#1a1a1a" font-family='"Liberation Sans", Arial, sans-serif'>2313</text>
<text x="151.5" y="1064.0" font-size="28" font-weight="bold" textLength="58.0" lengthAdjust="spacingAndGlyphs" fill="#1a1a1a" font-family='"Liberation Sans", Arial, sans-serif'>2307</text>
<text x="151.5" y="1090.7" font-size="28" font-weight="bold" textLength="58.0" lengthAdjust="spacingAndGlyphs" fill="#1a1a1a" font-family='"Liberation Sans", Arial, sans-serif'>2300</text>
<text x="151.5" y="1119.7" font-size="28" font-weight="bold" textLength="58.0" lengthAdjust="spacingAndGlyphs" fill="#1a1a1a" font-family='"Liberation Sans", Arial, sans-serif'>2294</text>
<text x="151.5" y="1150.1" font-size="28" font-weight="bold" textLength="58.0" lengthAdjust="spacingAndGlyphs" fill="#1a1a1a" font-family='"Liberation Sans", Arial, sans-serif'>2287</text>
<text x="151.5" y="1179.3" font-size="28" font-weight="bold" textLength="58.0" lengthAdjust="spacingAndGlyphs" fill="#1a1a1a" font-family='"Liberation Sans", Arial, sans-serif'>2281</text>
<text x="151.5" y="1206.8" font-size="28" font-weight="bold" textLength="58.0" lengthAdjust="spacingAndGlyphs" fill="#1a1a1a" font-family='"Liberation Sans", Arial, sans-serif'>2274</text>
<text x="151.5" y="1233.6" font-size="28" font-weight="bold" textLength="58.0" lengthAdjust="spacingAndGlyphs" fill="#1a1a1a" font-family='"Liberation Sans", Arial, sans-serif'>2268</text>
<text x="151.5" y="1260.3" font-size="28" font-weight="bold" textLength="58.0" lengthAdjust="spacingAndGlyphs" fill="#1a1a1a" font-family='"Liberation Sans", Arial, sans-serif'>2261</text>
<text x="151.5" y="1288.7" font-size="28" font-weight="bold" textLength="58.0" lengthAdjust="spacingAndGlyphs" fill="#1a1a1a" font-family='"Liberation Sans", Arial, sans-serif'>2255</text>
<text x="151.5" y="1315.4" font-size="28" font-weight="bold" textLength="58.0" lengthAdjust="spacingAndGlyphs" fill="#1a1a1a" font-family='"Liberation Sans", Arial, sans-serif'>2248</text>
<text x="151.5" y="1346.2" font-size="28" font-weight="bold" textLength="58.0" lengthAdjust="spacingAndGlyphs" fill="#1a1a1a" font-family='"Liberation Sans", Arial, sans-serif'>2241</text>
<text x="151.5" y="1372.9" font-size="28" font-weight="bold" textLength="58.0" lengthAdjust="spacingAndGlyphs" fill="#1a1a1a" font-family='"Liberation Sans", Arial, sans-serif'>2235</text>
<text x="151.5" y="1401.8" font-size="28" font-weight="bold" textLength="58.0" lengthAdjust="spacingAndGlyphs" fill="#1a1a1a" font-family='"Liberation Sans", Arial, sans-serif'>2222</text>
<rect x="1202.2" y="818.6" width="197.8" height="602.1" fill="#fff" stroke="#8c8c8c" stroke-width="2.6" rx="2"/>
<text x="1243.6" y="857.6" font-size="44" textLength="106.0" lengthAdjust="spacingAndGlyphs" fill="#111" font-family='"Liberation Sans", Arial, sans-serif'>T,[°C]</text>
<rect x="1216.5" y="883.10" width="83.0" height="26.37" fill="#ff0000"/>
<rect x="1216.5" y="909.07" width="83.0" height="26.37" fill="#ff3700"/>
<rect x="1216.5" y="935.03" width="83.0" height="26.37" fill="#ff6900"/>
<rect x="1216.5" y="961.00" width="83.0" height="26.37" fill="#ff9600"/>
<rect x="1216.5" y="986.96" width="83.0" height="26.37" fill="#ffc800"/>
<rect x="1216.5" y="1012.93" width="83.0" height="26.37" fill="#ffe600"/>
<rect x="1216.5" y="1038.89" width="83.0" height="26.37" fill="#f5ff00"/>
<rect x="1216.5" y="1064.86" width="83.0" height="26.37" fill="#d2ff00"/>
<rect x="1216.5" y="1090.82" width="83.0" height="26.37" fill="#96ff00"/>
<rect x="1216.5" y="1116.79" width="83.0" height="26.37" fill="#28ff00"/>
<rect x="1216.5" y="1142.75" width="83.0" height="26.37" fill="#00ff28"/>
<rect x="1216.5" y="1168.72" width="83.0" height="26.37" fill="#00ff8c"/>
<rect x="1216.5" y="1194.68" width="83.0" height="26.37" fill="#00ffc8"/>
<rect x="1216.5" y="1220.64" width="83.0" height="26.37" fill="#00ffff"/>
<rect x="1216.5" y="1246.61" width="83.0" height="26.37" fill="#00e6ff"/>
<rect x="1216.5" y="1272.58" width="83.0" height="26.37" fill="#00c8ff"/>
<rect x="1216.5" y="1298.54" width="83.0" height="26.37" fill="#0096ff"/>
<rect x="1216.5" y="1324.51" width="83.0" height="26.37" fill="#005aff"/>
<rect x="1216.5" y="1350.47" width="83.0" height="26.37" fill="#0028ff"/>
<rect x="1216.5" y="1376.43" width="83.0" height="26.37" fill="#0000ff"/>
<line x1="1216.5" y1="909.07" x2="1299.5" y2="909.07" stroke="#000" stroke-opacity="0.18" stroke-width="2"/>
<line x1="1216.5" y1="935.03" x2="1299.5" y2="935.03" stroke="#000" stroke-opacity="0.18" stroke-width="2"/>
<line x1="1216.5" y1="961.00" x2="1299.5" y2="961.00" stroke="#000" stroke-opacity="0.18" stroke-width="2"/>
<line x1="1216.5" y1="986.96" x2="1299.5" y2="986.96" stroke="#000" stroke-opacity="0.18" stroke-width="2"/>
<line x1="1216.5" y1="1012.93" x2="1299.5" y2="1012.93" stroke="#000" stroke-opacity="0.18" stroke-width="2"/>
<line x1="1216.5" y1="1038.89" x2="1299.5" y2="1038.89" stroke="#000" stroke-opacity="0.18" stroke-width="2"/>
<line x1="1216.5" y1="1064.86" x2="1299.5" y2="1064.86" stroke="#000" stroke-opacity="0.18" stroke-width="2"/>
<line x1="1216.5" y1="1090.82" x2="1299.5" y2="1090.82" stroke="#000" stroke-opacity="0.18" stroke-width="2"/>
<line x1="1216.5" y1="1116.79" x2="1299.5" y2="1116.79" stroke="#000" stroke-opacity="0.18" stroke-width="2"/>
<line x1="1216.5" y1="1142.75" x2="1299.5" y2="1142.75" stroke="#000" stroke-opacity="0.18" stroke-width="2"/>
<line x1="1216.5" y1="1168.72" x2="1299.5" y2="1168.72" stroke="#000" stroke-opacity="0.18" stroke-width="2"/>
<line x1="1216.5" y1="1194.68" x2="1299.5" y2="1194.68" stroke="#000" stroke-opacity="0.18" stroke-width="2"/>
<line x1="1216.5" y1="1220.64" x2="1299.5" y2="1220.64" stroke="#000" stroke-opacity="0.18" stroke-width="2"/>
<line x1="1216.5" y1="1246.61" x2="1299.5" y2="1246.61" stroke="#000" stroke-opacity="0.18" stroke-width="2"/>
<line x1="1216.5" y1="1272.58" x2="1299.5" y2="1272.58" stroke="#000" stroke-opacity="0.18" stroke-width="2"/>
<line x1="1216.5" y1="1298.54" x2="1299.5" y2="1298.54" stroke="#000" stroke-opacity="0.18" stroke-width="2"/>
<line x1="1216.5" y1="1324.51" x2="1299.5" y2="1324.51" stroke="#000" stroke-opacity="0.18" stroke-width="2"/>
<line x1="1216.5" y1="1350.47" x2="1299.5" y2="1350.47" stroke="#000" stroke-opacity="0.18" stroke-width="2"/>
<line x1="1216.5" y1="1376.43" x2="1299.5" y2="1376.43" stroke="#000" stroke-opacity="0.18" stroke-width="2"/>
<rect x="1216.5" y="883.1" width="83.0" height="519.3" fill="none" stroke="#000" stroke-opacity="0.35" stroke-width="1.5"/>
<text x="1313.0" y="894.5" font-size="28" font-weight="bold" textLength="58.0" lengthAdjust="spacingAndGlyphs" fill="#1a1a1a" font-family='"Liberation Sans", Arial, sans-serif'>2344</text>
<text x="1313.0" y="926.4" font-size="28" font-weight="bold" textLength="58.0" lengthAdjust="spacingAndGlyphs" fill="#1a1a1a" font-family='"Liberation Sans", Arial, sans-serif'>2338</text>
<text x="1313.0" y="954.7" font-size="28" font-weight="bold" textLength="58.0" lengthAdjust="spacingAndGlyphs" fill="#1a1a1a" font-family='"Liberation Sans", Arial, sans-serif'>2332</text>
<text x="1313.0" y="985.8" font-size="28" font-weight="bold" textLength="58.0" lengthAdjust="spacingAndGlyphs" fill="#1a1a1a" font-family='"Liberation Sans", Arial, sans-serif'>2326</text>
<text x="1313.0" y="1012.8" font-size="28" font-weight="bold" textLength="58.0" lengthAdjust="spacingAndGlyphs" fill="#1a1a1a" font-family='"Liberation Sans", Arial, sans-serif'>2320</text>
<text x="1313.0" y="1043.2" font-size="28" font-weight="bold" textLength="58.0" lengthAdjust="spacingAndGlyphs" fill="#1a1a1a" font-family='"Liberation Sans", Arial, sans-serif'>2314</text>
<text x="1313.0" y="1070.3" font-size="28" font-weight="bold" textLength="58.0" lengthAdjust="spacingAndGlyphs" fill="#1a1a1a" font-family='"Liberation Sans", Arial, sans-serif'>2309</text>
<text x="1313.0" y="1097.4" font-size="28" font-weight="bold" textLength="58.0" lengthAdjust="spacingAndGlyphs" fill="#1a1a1a" font-family='"Liberation Sans", Arial, sans-serif'>2303</text>
<text x="1313.0" y="1123.5" font-size="28" font-weight="bold" textLength="58.0" lengthAdjust="spacingAndGlyphs" fill="#1a1a1a" font-family='"Liberation Sans", Arial, sans-serif'>2297</text>
<text x="1313.0" y="1149.4" font-size="28" font-weight="bold" textLength="58.0" lengthAdjust="spacingAndGlyphs" fill="#1a1a1a" font-family='"Liberation Sans", Arial, sans-serif'>2291</text>
<text x="1313.0" y="1177.8" font-size="28" font-weight="bold" textLength="58.0" lengthAdjust="spacingAndGlyphs" fill="#1a1a1a" font-family='"Liberation Sans", Arial, sans-serif'>2285</text>
<text x="1313.0" y="1202.0" font-size="28" font-weight="bold" textLength="58.0" lengthAdjust="spacingAndGlyphs" fill="#1a1a1a" font-family='"Liberation Sans", Arial, sans-serif'>2280</text>
<text x="1313.0" y="1227.1" font-size="28" font-weight="bold" textLength="58.0" lengthAdjust="spacingAndGlyphs" fill="#1a1a1a" font-family='"Liberation Sans", Arial, sans-serif'>2274</text>
<text x="1313.0" y="1252.6" font-size="28" font-weight="bold" textLength="58.0" lengthAdjust="spacingAndGlyphs" fill="#1a1a1a" font-family='"Liberation Sans", Arial, sans-serif'>2268</text>
<text x="1313.0" y="1284.4" font-size="28" font-weight="bold" textLength="58.0" lengthAdjust="spacingAndGlyphs" fill="#1a1a1a" font-family='"Liberation Sans", Arial, sans-serif'>2262</text>
<text x="1313.0" y="1312.8" font-size="28" font-weight="bold" textLength="58.0" lengthAdjust="spacingAndGlyphs" fill="#1a1a1a" font-family='"Liberation Sans", Arial, sans-serif'>2256</text>
<text x="1313.0" y="1345.3" font-size="28" font-weight="bold" textLength="58.0" lengthAdjust="spacingAndGlyphs" fill="#1a1a1a" font-family='"Liberation Sans", Arial, sans-serif'>2250</text>
<text x="1313.0" y="1376.3" font-size="28" font-weight="bold" textLength="58.0" lengthAdjust="spacingAndGlyphs" fill="#1a1a1a" font-family='"Liberation Sans", Arial, sans-serif'>2245</text>
<text x="1313.0" y="1408.0" font-size="28" font-weight="bold" textLength="58.0" lengthAdjust="spacingAndGlyphs" fill="#1a1a1a" font-family='"Liberation Sans", Arial, sans-serif'>2239</text>
<text x="575.5" y="723.4" font-size="60.7" textLength="78.0" lengthAdjust="spacingAndGlyphs" fill="#000" font-family='"Liberation Sans", Arial, sans-serif'>(a)</text>
<text x="1736.0" y="717.1" font-size="60.8" textLength="85.0" lengthAdjust="spacingAndGlyphs" fill="#000" font-family='"Liberation Sans", Arial, sans-serif'>(b)</text>
<text x="569.0" y="1498.1" font-size="58.1" textLength="69.0" lengthAdjust="spacingAndGlyphs" fill="#000" font-family='"Liberation Sans", Arial, sans-serif'>(c)</text>
<text x="1739.5" y="1487.7" font-size="58" textLength="76.5" lengthAdjust="spacingAndGlyphs" fill="#000" font-family='"Liberation Sans", Arial, sans-serif'>(d)</text>
<text x="572.0" y="2272.4" font-size="57.6" textLength="73.5" lengthAdjust="spacingAndGlyphs" fill="#000" font-family='"Liberation Sans", Arial, sans-serif'>(e)</text>
<text x="1748.0" y="2271.0" font-size="56.5" textLength="63.5" lengthAdjust="spacingAndGlyphs" fill="#000" font-family='"Liberation Sans", Arial, sans-serif'>(f)</text>
<text x="253.3" y="2113.5" font-size="33.5" font-weight="bold" text-anchor="end" fill="#111" font-family='"Liberation Sans", Arial, sans-serif'>2210</text>
<line x1="264.9" y1="2036.2" x2="275.9" y2="2036.2" stroke="#000" stroke-width="5"/>
<text x="253.3" y="2046.7" font-size="33.5" font-weight="bold" text-anchor="end" fill="#111" font-family='"Liberation Sans", Arial, sans-serif'>2215</text>
<line x1="264.9" y1="1969.4" x2="275.9" y2="1969.4" stroke="#000" stroke-width="5"/>
<text x="253.3" y="1979.8" font-size="33.5" font-weight="bold" text-anchor="end" fill="#111" font-family='"Liberation Sans", Arial, sans-serif'>2220</text>
<line x1="264.9" y1="1902.5" x2="275.9" y2="1902.5" stroke="#000" stroke-width="5"/>
<text x="253.3" y="1913.0" font-size="33.5" font-weight="bold" text-anchor="end" fill="#111" font-family='"Liberation Sans", Arial, sans-serif'>2225</text>
<line x1="264.9" y1="1835.7" x2="275.9" y2="1835.7" stroke="#000" stroke-width="5"/>
<text x="253.3" y="1846.1" font-size="33.5" font-weight="bold" text-anchor="end" fill="#111" font-family='"Liberation Sans", Arial, sans-serif'>2230</text>
<line x1="264.9" y1="1768.8" x2="275.9" y2="1768.8" stroke="#000" stroke-width="5"/>
<text x="253.3" y="1779.2" font-size="33.5" font-weight="bold" text-anchor="end" fill="#111" font-family='"Liberation Sans", Arial, sans-serif'>2235</text>
<line x1="264.9" y1="1702.0" x2="275.9" y2="1702.0" stroke="#000" stroke-width="5"/>
<text x="253.3" y="1712.4" font-size="33.5" font-weight="bold" text-anchor="end" fill="#111" font-family='"Liberation Sans", Arial, sans-serif'>2240</text>
<line x1="264.9" y1="1635.1" x2="275.9" y2="1635.1" stroke="#000" stroke-width="5"/>
<text x="253.3" y="1645.5" font-size="33.5" font-weight="bold" text-anchor="end" fill="#111" font-family='"Liberation Sans", Arial, sans-serif'>2245</text>
<line x1="264.9" y1="1568.3" x2="275.9" y2="1568.3" stroke="#000" stroke-width="5"/>
<text x="253.3" y="1578.7" font-size="33.5" font-weight="bold" text-anchor="end" fill="#111" font-family='"Liberation Sans", Arial, sans-serif'>2250</text>
<line x1="264.9" y1="2069.7" x2="270.9" y2="2069.7" stroke="#000" stroke-width="4"/>
<line x1="264.9" y1="2002.8" x2="270.9" y2="2002.8" stroke="#000" stroke-width="4"/>
<line x1="264.9" y1="1936.0" x2="270.9" y2="1936.0" stroke="#000" stroke-width="4"/>
<line x1="264.9" y1="1869.1" x2="270.9" y2="1869.1" stroke="#000" stroke-width="4"/>
<line x1="264.9" y1="1802.3" x2="270.9" y2="1802.3" stroke="#000" stroke-width="4"/>
<line x1="264.9" y1="1735.4" x2="270.9" y2="1735.4" stroke="#000" stroke-width="4"/>
<line x1="264.9" y1="1668.6" x2="270.9" y2="1668.6" stroke="#000" stroke-width="4"/>
<line x1="264.9" y1="1601.7" x2="270.9" y2="1601.7" stroke="#000" stroke-width="4"/>
<text x="264.9" y="2141.0" font-size="33.5" font-weight="bold" text-anchor="middle" fill="#111" font-family='"Liberation Sans", Arial, sans-serif'>0</text>
<line x1="323.5" y1="2103.1" x2="323.5" y2="2093.1" stroke="#000" stroke-width="4.5"/>
<text x="323.5" y="2141.0" font-size="33.5" font-weight="bold" text-anchor="middle" fill="#111" font-family='"Liberation Sans", Arial, sans-serif'>5</text>
<line x1="382.1" y1="2103.1" x2="382.1" y2="2093.1" stroke="#000" stroke-width="4.5"/>
<text x="382.1" y="2141.0" font-size="33.5" font-weight="bold" text-anchor="middle" fill="#111" font-family='"Liberation Sans", Arial, sans-serif'>10</text>
<line x1="440.7" y1="2103.1" x2="440.7" y2="2093.1" stroke="#000" stroke-width="4.5"/>
<text x="440.7" y="2141.0" font-size="33.5" font-weight="bold" text-anchor="middle" fill="#111" font-family='"Liberation Sans", Arial, sans-serif'>15</text>
<line x1="499.3" y1="2103.1" x2="499.3" y2="2093.1" stroke="#000" stroke-width="4.5"/>
<text x="499.3" y="2141.0" font-size="33.5" font-weight="bold" text-anchor="middle" fill="#111" font-family='"Liberation Sans", Arial, sans-serif'>20</text>
<line x1="557.9" y1="2103.1" x2="557.9" y2="2093.1" stroke="#000" stroke-width="4.5"/>
<text x="557.9" y="2141.0" font-size="33.5" font-weight="bold" text-anchor="middle" fill="#111" font-family='"Liberation Sans", Arial, sans-serif'>25</text>
<line x1="616.5" y1="2103.1" x2="616.5" y2="2093.1" stroke="#000" stroke-width="4.5"/>
<text x="616.5" y="2141.0" font-size="33.5" font-weight="bold" text-anchor="middle" fill="#111" font-family='"Liberation Sans", Arial, sans-serif'>30</text>
<line x1="675.1" y1="2103.1" x2="675.1" y2="2093.1" stroke="#000" stroke-width="4.5"/>
<text x="675.1" y="2141.0" font-size="33.5" font-weight="bold" text-anchor="middle" fill="#111" font-family='"Liberation Sans", Arial, sans-serif'>35</text>
<line x1="733.7" y1="2103.1" x2="733.7" y2="2093.1" stroke="#000" stroke-width="4.5"/>
<text x="733.7" y="2141.0" font-size="33.5" font-weight="bold" text-anchor="middle" fill="#111" font-family='"Liberation Sans", Arial, sans-serif'>40</text>
<line x1="792.3" y1="2103.1" x2="792.3" y2="2093.1" stroke="#000" stroke-width="4.5"/>
<text x="792.3" y="2141.0" font-size="33.5" font-weight="bold" text-anchor="middle" fill="#111" font-family='"Liberation Sans", Arial, sans-serif'>45</text>
<line x1="850.9" y1="2103.1" x2="850.9" y2="2093.1" stroke="#000" stroke-width="4.5"/>
<text x="850.9" y="2141.0" font-size="33.5" font-weight="bold" text-anchor="middle" fill="#111" font-family='"Liberation Sans", Arial, sans-serif'>50</text>
<line x1="909.5" y1="2103.1" x2="909.5" y2="2093.1" stroke="#000" stroke-width="4.5"/>
<text x="909.5" y="2141.0" font-size="33.5" font-weight="bold" text-anchor="middle" fill="#111" font-family='"Liberation Sans", Arial, sans-serif'>55</text>
<text x="968.1" y="2141.0" font-size="33.5" font-weight="bold" text-anchor="middle" fill="#111" font-family='"Liberation Sans", Arial, sans-serif'>60</text>
<line x1="294.2" y1="2103.1" x2="294.2" y2="2097.1" stroke="#000" stroke-width="4"/>
<line x1="352.8" y1="2103.1" x2="352.8" y2="2097.1" stroke="#000" stroke-width="4"/>
<line x1="411.4" y1="2103.1" x2="411.4" y2="2097.1" stroke="#000" stroke-width="4"/>
<line x1="470.0" y1="2103.1" x2="470.0" y2="2097.1" stroke="#000" stroke-width="4"/>
<line x1="528.6" y1="2103.1" x2="528.6" y2="2097.1" stroke="#000" stroke-width="4"/>
<line x1="587.2" y1="2103.1" x2="587.2" y2="2097.1" stroke="#000" stroke-width="4"/>
<line x1="645.8" y1="2103.1" x2="645.8" y2="2097.1" stroke="#000" stroke-width="4"/>
<line x1="704.4" y1="2103.1" x2="704.4" y2="2097.1" stroke="#000" stroke-width="4"/>
<line x1="763.0" y1="2103.1" x2="763.0" y2="2097.1" stroke="#000" stroke-width="4"/>
<line x1="821.6" y1="2103.1" x2="821.6" y2="2097.1" stroke="#000" stroke-width="4"/>
<line x1="880.2" y1="2103.1" x2="880.2" y2="2097.1" stroke="#000" stroke-width="4"/>
<line x1="938.8" y1="2103.1" x2="938.8" y2="2097.1" stroke="#000" stroke-width="4"/>
<path d="M275.9,1939.9 L282.7,1939.5 L289.6,1939.0 L296.4,1938.6 L303.3,1938.2 L310.2,1937.8 L317.2,1937.3 L324.1,1936.9 L331.0,1936.4 L338.0,1936.0 L345.0,1935.5 L351.9,1935.0 L358.9,1934.5 L365.9,1934.0 L372.9,1933.5 L379.9,1933.0 L386.9,1932.5 L393.9,1931.9 L401.0,1931.3 L408.0,1930.7 L415.0,1930.1 L422.0,1929.4 L429.1,1928.8 L436.1,1928.1 L443.1,1927.4 L450.2,1926.6 L457.2,1925.8 L464.2,1925.0 L471.2,1924.2 L478.3,1923.3 L485.3,1922.4 L492.3,1921.5 L499.3,1920.5 L506.3,1919.5 L513.3,1918.5 L520.3,1917.4 L527.3,1916.3 L534.3,1915.1 L541.2,1913.9 L548.2,1912.6 L555.1,1911.3 L562.0,1910.0 L569.0,1908.6 L575.9,1907.2 L582.8,1905.7 L589.6,1904.2 L596.5,1902.6 L603.4,1900.9 L610.2,1899.2 L617.0,1897.5 L623.8,1895.7 L630.6,1893.8 L637.3,1891.9 L644.1,1889.9 L650.8,1887.9 L657.5,1885.8 L664.2,1883.6 L670.8,1881.3 L677.4,1879.0 L684.0,1876.7 L690.6,1874.2 L697.2,1871.7 L703.7,1869.1 L710.2,1866.5 L716.7,1863.8 L723.1,1861.0 L729.5,1858.1 L735.9,1855.2 L742.3,1852.1 L748.6,1849.0 L754.9,1845.8 L761.1,1842.6 L767.3,1839.2 L773.5,1835.8 L779.6,1832.3 L785.6,1828.7 L791.6,1825.0 L797.5,1821.2 L803.3,1817.3 L809.1,1813.4 L814.8,1809.3 L820.5,1805.2 L826.0,1800.9 L831.5,1796.6 L836.9,1792.1 L842.2,1787.6 L847.4,1783.0 L852.5,1778.3 L857.5,1773.4 L862.4,1768.5 L867.2,1763.5 L871.9,1758.3 L876.5,1753.1 L881.0,1747.7 L885.4,1742.3 L889.7,1736.8 L893.8,1731.2 L897.9,1725.5 L901.8,1719.7 L905.6,1713.8 L909.4,1707.9 L913.0,1701.9 L916.4,1695.8 L919.8,1689.6 L923.1,1683.4 L926.2,1677.1 L929.2,1670.7 L932.1,1664.3 L934.9,1657.8 L937.6,1651.2 L940.1,1644.7 L942.6,1638.0 L944.9,1631.3 L947.1,1624.6 L949.1,1617.8 L951.1,1610.9 L952.9,1604.1 L954.6,1597.2 L956.2,1590.2 L957.6,1583.3" fill="none" stroke="#3c3c3c" stroke-width="4.2" stroke-linejoin="round"/>
<path d="M275.6,1870.4 L282.4,1869.8 L289.2,1869.3 L296.0,1868.8 L302.8,1868.2 L309.7,1867.8 L316.5,1867.3 L323.3,1866.8 L330.2,1866.4 L337.0,1866.0 L343.9,1865.6 L350.7,1865.2 L357.6,1864.8 L364.4,1864.4 L371.3,1864.1 L378.2,1863.7 L385.1,1863.3 L391.9,1863.0 L398.8,1862.6 L405.7,1862.3 L412.6,1861.9 L419.5,1861.5 L426.4,1861.2 L433.2,1860.8 L440.1,1860.4 L447.0,1860.0 L453.9,1859.6 L460.8,1859.2 L467.7,1858.8 L474.6,1858.4 L481.5,1857.9 L488.3,1857.4 L495.2,1857.0 L502.1,1856.4 L509.0,1855.9 L515.9,1855.4 L522.7,1854.8 L529.6,1854.2 L536.5,1853.5 L543.3,1852.9 L550.2,1852.2 L557.0,1851.4 L563.9,1850.7 L570.7,1849.9 L577.5,1849.1 L584.4,1848.2 L591.2,1847.3 L598.0,1846.3 L604.8,1845.3 L611.6,1844.3 L618.4,1843.2 L625.2,1842.1 L631.9,1840.9 L638.7,1839.7 L645.5,1838.4 L652.2,1837.1 L658.9,1835.7 L665.7,1834.3 L672.4,1832.8 L679.1,1831.2 L685.8,1829.6 L692.5,1827.9 L699.2,1826.2 L705.8,1824.4 L712.5,1822.5 L719.1,1820.6 L725.7,1818.6 L732.3,1816.5 L738.9,1814.4 L745.5,1812.2 L752.1,1809.9 L758.6,1807.5 L765.1,1805.1 L771.6,1802.5 L778.0,1799.9 L784.4,1797.2 L790.8,1794.3 L797.0,1791.4 L803.2,1788.4 L809.4,1785.2 L815.4,1782.0 L821.4,1778.6 L827.3,1775.1 L833.0,1771.5 L838.7,1767.7 L844.3,1763.8 L849.8,1759.8 L855.1,1755.6 L860.3,1751.3 L865.4,1746.9 L870.4,1742.3 L875.2,1737.5 L879.9,1732.6 L884.5,1727.6 L888.9,1722.4 L893.2,1717.1 L897.3,1711.7 L901.3,1706.2 L905.2,1700.6 L908.9,1694.8 L912.6,1689.0 L916.0,1683.1 L919.4,1677.0 L922.6,1670.9 L925.7,1664.7 L928.6,1658.5 L931.4,1652.1 L934.1,1645.7 L936.6,1639.3 L939.0,1632.8 L941.3,1626.2 L943.4,1619.6 L945.4,1612.9 L947.3,1606.2 L949.0,1599.5 L950.6,1592.7 L952.1,1586.0 L953.4,1579.2 L954.6,1572.4 L955.7,1565.6" fill="none" stroke="#e8303a" stroke-width="4.2" stroke-linejoin="round"/>
<rect x="264.9" y="1534.5" width="702.3" height="568.6" fill="none" stroke="#000" stroke-width="5"/>
<line x1="543.8" y1="1562.1" x2="612.7" y2="1562.1" stroke="#3c3c3c" stroke-width="4.5"/>
<line x1="543.8" y1="1602.7" x2="612.7" y2="1602.7" stroke="#e8303a" stroke-width="4.5"/>
<text x="620.2" y="1572.6" font-size="32" font-weight="bold" textLength="302.0" lengthAdjust="spacingAndGlyphs" fill="#111" font-family='"Liberation Sans", Arial, sans-serif'>traditional structure</text>
<text x="620.2" y="1612.7" font-size="32" font-weight="bold" textLength="298.0" lengthAdjust="spacingAndGlyphs" fill="#111" font-family='"Liberation Sans", Arial, sans-serif'>optimized structure</text>
<text x="502.4" y="2199.3" font-size="37" font-weight="bold" textLength="226.0" lengthAdjust="spacingAndGlyphs" fill="#111" font-family='"Liberation Sans", Arial, sans-serif'>distance/mm</text>
<text transform="translate(166.5,2007.3) rotate(-90)" font-size="37" font-weight="bold" fill="#111" font-family='"Liberation Sans", Arial, sans-serif'>radial temperature/<tspan font-weight="normal" fill="#555" font-family='"Noto Sans CJK SC", sans-serif' font-size="40">℃</tspan></text>
<text x="384.7" y="2020.8" font-size="53" fill="#000" font-family='"Liberation Sans", Arial, sans-serif'>A</text>
<line x1="444.6" y1="2000.5" x2="788" y2="2000.5" stroke="#ffbf00" stroke-width="6" stroke-linecap="round"/><path d="M786,1993.0 L803,2000.5 L786,2008.0 Z" fill="#ffbf00"/>
<text x="829.8" y="2020.3" font-size="53" fill="#000" font-family='"Liberation Sans", Arial, sans-serif'>B</text>
<text x="1417.8" y="2116.8" font-size="33.5" font-weight="bold" text-anchor="end" fill="#111" font-family='"Liberation Sans", Arial, sans-serif'>2200</text>
<line x1="1429.2" y1="2044.0" x2="1440.2" y2="2044.0" stroke="#000" stroke-width="4.5"/>
<text x="1417.8" y="2054.4" font-size="33.5" font-weight="bold" text-anchor="end" fill="#111" font-family='"Liberation Sans", Arial, sans-serif'>2210</text>
<line x1="1429.2" y1="1981.7" x2="1440.2" y2="1981.7" stroke="#000" stroke-width="4.5"/>
<text x="1417.8" y="1992.1" font-size="33.5" font-weight="bold" text-anchor="end" fill="#111" font-family='"Liberation Sans", Arial, sans-serif'>2220</text>
<line x1="1429.2" y1="1919.3" x2="1440.2" y2="1919.3" stroke="#000" stroke-width="4.5"/>
<text x="1417.8" y="1929.7" font-size="33.5" font-weight="bold" text-anchor="end" fill="#111" font-family='"Liberation Sans", Arial, sans-serif'>2230</text>
<line x1="1429.2" y1="1857.0" x2="1440.2" y2="1857.0" stroke="#000" stroke-width="4.5"/>
<text x="1417.8" y="1867.4" font-size="33.5" font-weight="bold" text-anchor="end" fill="#111" font-family='"Liberation Sans", Arial, sans-serif'>2240</text>
<line x1="1429.2" y1="1794.6" x2="1440.2" y2="1794.6" stroke="#000" stroke-width="4.5"/>
<text x="1417.8" y="1805.0" font-size="33.5" font-weight="bold" text-anchor="end" fill="#111" font-family='"Liberation Sans", Arial, sans-serif'>2250</text>
<line x1="1429.2" y1="1732.2" x2="1440.2" y2="1732.2" stroke="#000" stroke-width="4.5"/>
<text x="1417.8" y="1742.7" font-size="33.5" font-weight="bold" text-anchor="end" fill="#111" font-family='"Liberation Sans", Arial, sans-serif'>2260</text>
<line x1="1429.2" y1="1669.9" x2="1440.2" y2="1669.9" stroke="#000" stroke-width="4.5"/>
<text x="1417.8" y="1680.3" font-size="33.5" font-weight="bold" text-anchor="end" fill="#111" font-family='"Liberation Sans", Arial, sans-serif'>2270</text>
<line x1="1429.2" y1="1607.5" x2="1440.2" y2="1607.5" stroke="#000" stroke-width="4.5"/>
<text x="1417.8" y="1618.0" font-size="33.5" font-weight="bold" text-anchor="end" fill="#111" font-family='"Liberation Sans", Arial, sans-serif'>2280</text>
<line x1="1429.2" y1="1545.2" x2="1440.2" y2="1545.2" stroke="#000" stroke-width="4.5"/>
<text x="1417.8" y="1555.6" font-size="33.5" font-weight="bold" text-anchor="end" fill="#111" font-family='"Liberation Sans", Arial, sans-serif'>2290</text>
<line x1="1429.2" y1="2075.2" x2="1435.2" y2="2075.2" stroke="#000" stroke-width="4"/>
<line x1="1429.2" y1="2012.8" x2="1435.2" y2="2012.8" stroke="#000" stroke-width="4"/>
<line x1="1429.2" y1="1950.5" x2="1435.2" y2="1950.5" stroke="#000" stroke-width="4"/>
<line x1="1429.2" y1="1888.1" x2="1435.2" y2="1888.1" stroke="#000" stroke-width="4"/>
<line x1="1429.2" y1="1825.8" x2="1435.2" y2="1825.8" stroke="#000" stroke-width="4"/>
<line x1="1429.2" y1="1763.4" x2="1435.2" y2="1763.4" stroke="#000" stroke-width="4"/>
<line x1="1429.2" y1="1701.1" x2="1435.2" y2="1701.1" stroke="#000" stroke-width="4"/>
<line x1="1429.2" y1="1638.7" x2="1435.2" y2="1638.7" stroke="#000" stroke-width="4"/>
<line x1="1429.2" y1="1576.4" x2="1435.2" y2="1576.4" stroke="#000" stroke-width="4"/>
<line x1="1466.5" y1="2105.8" x2="1466.5" y2="2095.8" stroke="#000" stroke-width="4.5"/>
<text x="1466.5" y="2144.4" font-size="33.5" font-weight="bold" text-anchor="middle" fill="#111" font-family='"Liberation Sans", Arial, sans-serif'>99</text>
<line x1="1579.1" y1="2105.8" x2="1579.1" y2="2095.8" stroke="#000" stroke-width="4.5"/>
<text x="1579.1" y="2144.4" font-size="33.5" font-weight="bold" text-anchor="middle" fill="#111" font-family='"Liberation Sans", Arial, sans-serif'>102</text>
<line x1="1691.8" y1="2105.8" x2="1691.8" y2="2095.8" stroke="#000" stroke-width="4.5"/>
<text x="1691.8" y="2144.4" font-size="33.5" font-weight="bold" text-anchor="middle" fill="#111" font-family='"Liberation Sans", Arial, sans-serif'>105</text>
<line x1="1804.4" y1="2105.8" x2="1804.4" y2="2095.8" stroke="#000" stroke-width="4.5"/>
<text x="1804.4" y="2144.4" font-size="33.5" font-weight="bold" text-anchor="middle" fill="#111" font-family='"Liberation Sans", Arial, sans-serif'>108</text>
<line x1="1917.1" y1="2105.8" x2="1917.1" y2="2095.8" stroke="#000" stroke-width="4.5"/>
<text x="1917.1" y="2144.4" font-size="33.5" font-weight="bold" text-anchor="middle" fill="#111" font-family='"Liberation Sans", Arial, sans-serif'>111</text>
<line x1="2029.7" y1="2105.8" x2="2029.7" y2="2095.8" stroke="#000" stroke-width="4.5"/>
<text x="2029.7" y="2144.4" font-size="33.5" font-weight="bold" text-anchor="middle" fill="#111" font-family='"Liberation Sans", Arial, sans-serif'>114</text>
<text x="2142.3" y="2144.4" font-size="33.5" font-weight="bold" text-anchor="middle" fill="#111" font-family='"Liberation Sans", Arial, sans-serif'>117</text>
<line x1="1522.8" y1="2105.8" x2="1522.8" y2="2099.8" stroke="#000" stroke-width="4"/>
<line x1="1635.4" y1="2105.8" x2="1635.4" y2="2099.8" stroke="#000" stroke-width="4"/>
<line x1="1748.1" y1="2105.8" x2="1748.1" y2="2099.8" stroke="#000" stroke-width="4"/>
<line x1="1860.7" y1="2105.8" x2="1860.7" y2="2099.8" stroke="#000" stroke-width="4"/>
<line x1="1973.4" y1="2105.8" x2="1973.4" y2="2099.8" stroke="#000" stroke-width="4"/>
<line x1="2086.0" y1="2105.8" x2="2086.0" y2="2099.8" stroke="#000" stroke-width="4"/>
<path d="M1503.6,1758.4 C1536.3,1769.5 1642.3,1804.1 1700.0,1824.8 C1757.7,1845.5 1788.6,1858.7 1850.0,1882.5 C1911.4,1906.3 2032.0,1953.2 2068.4,1967.4" fill="none" stroke="#3c3c3c" stroke-width="4.2"/>
<path d="M1503.6,1568.6 C1536.3,1589.1 1635.1,1649.7 1700.0,1691.6 C1764.9,1733.5 1831.5,1779.4 1892.9,1820.0 C1954.3,1860.6 2039.2,1916.2 2068.4,1935.4" fill="none" stroke="#e8303a" stroke-width="4.2"/>
<rect x="1429.2" y="1529.0" width="712.8" height="576.8" fill="none" stroke="#000" stroke-width="5"/>
<line x1="1744.8" y1="1561.4" x2="1812" y2="1561.4" stroke="#3c3c3c" stroke-width="4.5"/>
<line x1="1744.8" y1="1602.2" x2="1812" y2="1602.2" stroke="#e8303a" stroke-width="4.5"/>
<text x="1821.5" y="1571.9" font-size="32" font-weight="bold" textLength="307.0" lengthAdjust="spacingAndGlyphs" fill="#111" font-family='"Liberation Sans", Arial, sans-serif'>traditional structure</text>
<text x="1821.5" y="1612.7" font-size="32" font-weight="bold" textLength="302.0" lengthAdjust="spacingAndGlyphs" fill="#111" font-family='"Liberation Sans", Arial, sans-serif'>optimized structure</text>
<text x="1671.3" y="2205.0" font-size="37.5" font-weight="bold" textLength="229.0" lengthAdjust="spacingAndGlyphs" fill="#111" font-family='"Liberation Sans", Arial, sans-serif'>distance/mm</text>
<text transform="translate(1329.2,1998.4) rotate(-90)" font-size="37.5" font-weight="bold" fill="#111" font-family='"Liberation Sans", Arial, sans-serif'>axial temperature/<tspan font-weight="normal" fill="#555" font-family='"Noto Sans CJK SC", sans-serif' font-size="40">℃</tspan></text>
<text x="1570.8" y="2014.0" font-size="52" textLength="34.0" lengthAdjust="spacingAndGlyphs" fill="#000" font-family='"Liberation Sans", Arial, sans-serif'>C</text>
<line x1="1628.3" y1="1994.1" x2="1972" y2="1994.1" stroke="#ffbf00" stroke-width="6" stroke-linecap="round"/><path d="M1970,1986.6 L1987,1994.1 L1970,2001.6 Z" fill="#ffbf00"/>
<text x="2010.5" y="2014.0" font-size="52" fill="#000" font-family='"Liberation Sans", Arial, sans-serif'>A</text>
<path d="M605.5,912 L605.5,831 L962,831" fill="none" stroke="#ffbf00" stroke-width="7"/>
<text x="590.0" y="811.5" font-size="53.5" fill="#000" font-family='"Liberation Sans", Arial, sans-serif'>A</text>
<text x="944.0" y="812.6" font-size="53.5" textLength="33.5" lengthAdjust="spacingAndGlyphs" fill="#000" font-family='"Liberation Sans", Arial, sans-serif'>B</text>
<text x="593.5" y="955.3" font-size="51.5" textLength="33.0" lengthAdjust="spacingAndGlyphs" fill="#000" font-family='"Liberation Sans", Arial, sans-serif'>C</text>
<path d="M1774.7,911 L1774.7,820.5 L2145,820.5" fill="none" stroke="#ffbf00" stroke-width="7.5"/>
<text x="1750.5" y="808.1" font-size="52" fill="#000" font-family='"Liberation Sans", Arial, sans-serif'>A</text>
<text x="2126.0" y="807.0" font-size="52" textLength="32.0" lengthAdjust="spacingAndGlyphs" fill="#000" font-family='"Liberation Sans", Arial, sans-serif'>B</text>
<text x="1760.0" y="957.5" font-size="51.5" textLength="33.0" lengthAdjust="spacingAndGlyphs" fill="#000" font-family='"Liberation Sans", Arial, sans-serif'>C</text>
</svg></body></html>
